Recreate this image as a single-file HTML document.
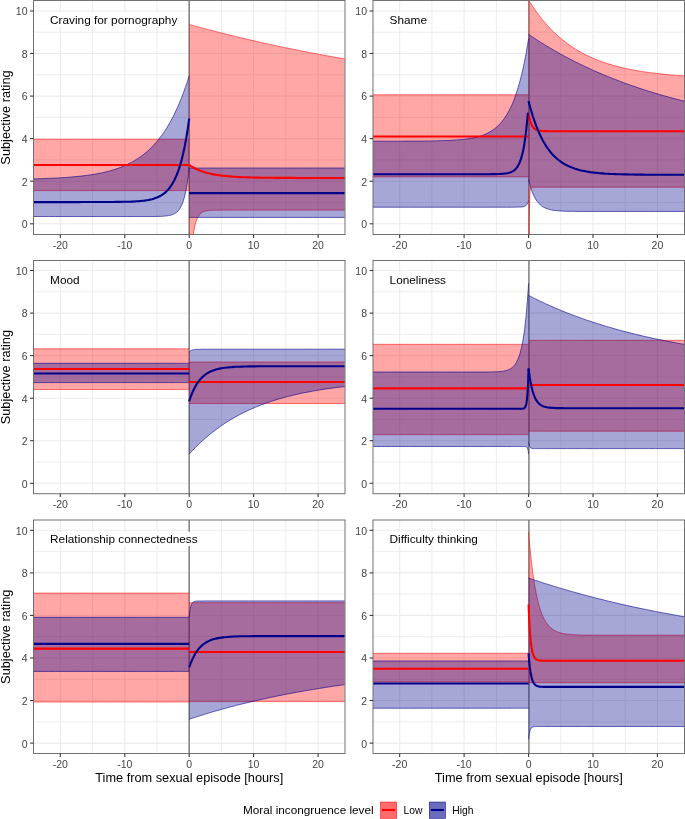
<!DOCTYPE html>
<html><head><meta charset="utf-8"><title>Subjective ratings around sexual episodes</title>
<style>
html,body{margin:0;padding:0;background:#fff;}
body{width:685px;height:819px;position:relative;overflow:hidden;font-family:"Liberation Sans",sans-serif;}
svg text{font-family:"Liberation Sans",sans-serif;}
svg{will-change:transform;}
.gm{stroke:#EBEBEB;stroke-width:0.9;}
.gM{stroke:#EBEBEB;stroke-width:1.07;}
.v0{stroke:#878787;stroke-width:1.6;}
.rb{stroke:none;fill-opacity:0.35;}
.rb.r{fill:#FF0000;}
.rb.b{fill:#00008B;}
.ro{fill:none;stroke-width:0.6;}
.ro.r{stroke:#FF0000;stroke-opacity:0.9;}
.ro.b{stroke:#00008B;stroke-opacity:1;}
.ko{fill:none;stroke-width:0.5;stroke-opacity:0.8;}
.ko.r{stroke:#FF0000;}
.ko.b{stroke:#00008B;}
.ml{fill:none;stroke-width:2.1;stroke-linejoin:round;}
.ml.r{stroke:#FF0000;}
.ml.b{stroke:#00008B;}
.bd{fill:none;stroke:#717171;stroke-width:1.0;}
.tk{stroke:#333333;stroke-width:1.07;}
.tl{font-size:10.5px;fill:#444444;}
.pl{font-size:11.8px;fill:#000;}
.at{font-size:12.75px;fill:#000;}
.lt{font-size:11.75px;fill:#000;}
.ll{font-size:10.3px;fill:#000;}
</style></head>
<body>
<svg width="685" height="819" viewBox="0 0 685 819" style="position:absolute;left:0;top:0">
<defs>
<clipPath id="cp00"><rect x="33.5" y="0.5" width="311.50" height="234.00"/></clipPath>
<clipPath id="cp10"><rect x="373.0" y="0.5" width="311.50" height="234.00"/></clipPath>
<clipPath id="cp01"><rect x="33.5" y="260.5" width="311.50" height="233.20"/></clipPath>
<clipPath id="cp11"><rect x="373.0" y="260.5" width="311.50" height="233.20"/></clipPath>
<clipPath id="cp02"><rect x="33.5" y="520.0" width="311.50" height="233.50"/></clipPath>
<clipPath id="cp12"><rect x="373.0" y="520.0" width="311.50" height="233.50"/></clipPath>
</defs>
<g clip-path="url(#cp00)"><rect x="33.5" y="0.5" width="311.50" height="234.00" fill="#fff"/><line x1="92.6" y1="0.5" x2="92.6" y2="234.5" class="gm"/><line x1="157" y1="0.5" x2="157" y2="234.5" class="gm"/><line x1="221.4" y1="0.5" x2="221.4" y2="234.5" class="gm"/><line x1="285.8" y1="0.5" x2="285.8" y2="234.5" class="gm"/><line x1="33.5" y1="202.5" x2="345.0" y2="202.5" class="gm"/><line x1="33.5" y1="159.9" x2="345.0" y2="159.9" class="gm"/><line x1="33.5" y1="117.4" x2="345.0" y2="117.4" class="gm"/><line x1="33.5" y1="74.8" x2="345.0" y2="74.8" class="gm"/><line x1="33.5" y1="32.2" x2="345.0" y2="32.2" class="gm"/><line x1="60.3" y1="0.5" x2="60.3" y2="234.5" class="gM"/><line x1="124.8" y1="0.5" x2="124.8" y2="234.5" class="gM"/><line x1="189.2" y1="0.5" x2="189.2" y2="234.5" class="gM"/><line x1="253.6" y1="0.5" x2="253.6" y2="234.5" class="gM"/><line x1="318.1" y1="0.5" x2="318.1" y2="234.5" class="gM"/><line x1="33.5" y1="223.8" x2="345.0" y2="223.8" class="gM"/><line x1="33.5" y1="181.2" x2="345.0" y2="181.2" class="gM"/><line x1="33.5" y1="138.6" x2="345.0" y2="138.6" class="gM"/><line x1="33.5" y1="96.1" x2="345.0" y2="96.1" class="gM"/><line x1="33.5" y1="53.5" x2="345.0" y2="53.5" class="gM"/><line x1="33.5" y1="11" x2="345.0" y2="11" class="gM"/><line x1="189.20" y1="0.5" x2="189.20" y2="234.5" class="v0"/><path d="M33.6,139.3 L37.4,139.3 L41.1,139.3 L44.8,139.3 L48.4,139.3 L52,139.3 L55.5,139.3 L59,139.3 L62.4,139.3 L65.8,139.3 L69.1,139.3 L72.4,139.3 L75.6,139.3 L78.8,139.3 L81.9,139.3 L85,139.3 L88,139.3 L91,139.3 L94,139.3 L96.8,139.3 L99.7,139.3 L102.5,139.3 L105.2,139.3 L107.9,139.3 L110.6,139.3 L113.2,139.3 L115.7,139.3 L118.2,139.3 L120.7,139.3 L123.1,139.3 L125.4,139.3 L127.7,139.3 L130,139.3 L132.2,139.3 L134.4,139.3 L136.5,139.3 L138.6,139.3 L140.7,139.3 L142.7,139.3 L144.6,139.3 L146.5,139.3 L148.4,139.3 L150.2,139.3 L151.9,139.3 L153.7,139.3 L155.3,139.3 L157,139.3 L158.6,139.3 L160.1,139.3 L161.6,139.3 L163.1,139.3 L164.5,139.3 L165.9,139.3 L167.2,139.3 L168.5,139.3 L169.7,139.3 L170.9,139.3 L172.1,139.3 L173.2,139.3 L174.3,139.3 L175.3,139.3 L176.3,139.3 L177.3,139.3 L178.2,139.3 L179.1,139.3 L179.9,139.3 L180.7,139.3 L181.5,139.3 L182.2,139.3 L182.9,139.3 L183.5,139.3 L184.1,139.3 L184.7,139.3 L185.2,139.3 L185.7,139.3 L186.2,139.3 L186.6,139.3 L187,139.3 L187.4,139.3 L187.7,139.3 L188,139.3 L188.2,139.3 L188.4,139.3 L188.6,139.3 L188.8,139.3 L188.9,139.3 L189,139.3 L189.1,139.3 L189.2,139.3 L189.2,139.3 L189.2,139.3 L189.2,190.6 L189.2,190.6 L189.2,190.6 L189.1,190.6 L189,190.6 L188.9,190.6 L188.8,190.6 L188.6,190.6 L188.4,190.6 L188.2,190.6 L188,190.6 L187.7,190.6 L187.4,190.6 L187,190.6 L186.6,190.6 L186.2,190.6 L185.7,190.6 L185.2,190.6 L184.7,190.6 L184.1,190.6 L183.5,190.6 L182.9,190.6 L182.2,190.6 L181.5,190.6 L180.7,190.6 L179.9,190.6 L179.1,190.6 L178.2,190.6 L177.3,190.6 L176.3,190.6 L175.3,190.6 L174.3,190.6 L173.2,190.6 L172.1,190.6 L170.9,190.6 L169.7,190.6 L168.5,190.6 L167.2,190.6 L165.9,190.6 L164.5,190.6 L163.1,190.6 L161.6,190.6 L160.1,190.6 L158.6,190.6 L157,190.6 L155.3,190.6 L153.7,190.6 L151.9,190.6 L150.2,190.6 L148.4,190.6 L146.5,190.6 L144.6,190.6 L142.7,190.6 L140.7,190.6 L138.6,190.6 L136.5,190.6 L134.4,190.6 L132.2,190.6 L130,190.6 L127.7,190.6 L125.4,190.6 L123.1,190.6 L120.7,190.6 L118.2,190.6 L115.7,190.6 L113.2,190.6 L110.6,190.6 L107.9,190.6 L105.2,190.6 L102.5,190.6 L99.7,190.6 L96.8,190.6 L94,190.6 L91,190.6 L88,190.6 L85,190.6 L81.9,190.6 L78.8,190.6 L75.6,190.6 L72.4,190.6 L69.1,190.6 L65.8,190.6 L62.4,190.6 L59,190.6 L55.5,190.6 L52,190.6 L48.4,190.6 L44.8,190.6 L41.1,190.6 L37.4,190.6 L33.6,190.6Z" class="rb r"/><path d="M33.6,139.3 L37.4,139.3 L41.1,139.3 L44.8,139.3 L48.4,139.3 L52,139.3 L55.5,139.3 L59,139.3 L62.4,139.3 L65.8,139.3 L69.1,139.3 L72.4,139.3 L75.6,139.3 L78.8,139.3 L81.9,139.3 L85,139.3 L88,139.3 L91,139.3 L94,139.3 L96.8,139.3 L99.7,139.3 L102.5,139.3 L105.2,139.3 L107.9,139.3 L110.6,139.3 L113.2,139.3 L115.7,139.3 L118.2,139.3 L120.7,139.3 L123.1,139.3 L125.4,139.3 L127.7,139.3 L130,139.3 L132.2,139.3 L134.4,139.3 L136.5,139.3 L138.6,139.3 L140.7,139.3 L142.7,139.3 L144.6,139.3 L146.5,139.3 L148.4,139.3 L150.2,139.3 L151.9,139.3 L153.7,139.3 L155.3,139.3 L157,139.3 L158.6,139.3 L160.1,139.3 L161.6,139.3 L163.1,139.3 L164.5,139.3 L165.9,139.3 L167.2,139.3 L168.5,139.3 L169.7,139.3 L170.9,139.3 L172.1,139.3 L173.2,139.3 L174.3,139.3 L175.3,139.3 L176.3,139.3 L177.3,139.3 L178.2,139.3 L179.1,139.3 L179.9,139.3 L180.7,139.3 L181.5,139.3 L182.2,139.3 L182.9,139.3 L183.5,139.3 L184.1,139.3 L184.7,139.3 L185.2,139.3 L185.7,139.3 L186.2,139.3 L186.6,139.3 L187,139.3 L187.4,139.3 L187.7,139.3 L188,139.3 L188.2,139.3 L188.4,139.3 L188.6,139.3 L188.8,139.3 L188.9,139.3 L189,139.3 L189.1,139.3 L189.2,139.3 L189.2,139.3 L189.2,139.3" class="ro r"/><path d="M33.6,190.6 L37.4,190.6 L41.1,190.6 L44.8,190.6 L48.4,190.6 L52,190.6 L55.5,190.6 L59,190.6 L62.4,190.6 L65.8,190.6 L69.1,190.6 L72.4,190.6 L75.6,190.6 L78.8,190.6 L81.9,190.6 L85,190.6 L88,190.6 L91,190.6 L94,190.6 L96.8,190.6 L99.7,190.6 L102.5,190.6 L105.2,190.6 L107.9,190.6 L110.6,190.6 L113.2,190.6 L115.7,190.6 L118.2,190.6 L120.7,190.6 L123.1,190.6 L125.4,190.6 L127.7,190.6 L130,190.6 L132.2,190.6 L134.4,190.6 L136.5,190.6 L138.6,190.6 L140.7,190.6 L142.7,190.6 L144.6,190.6 L146.5,190.6 L148.4,190.6 L150.2,190.6 L151.9,190.6 L153.7,190.6 L155.3,190.6 L157,190.6 L158.6,190.6 L160.1,190.6 L161.6,190.6 L163.1,190.6 L164.5,190.6 L165.9,190.6 L167.2,190.6 L168.5,190.6 L169.7,190.6 L170.9,190.6 L172.1,190.6 L173.2,190.6 L174.3,190.6 L175.3,190.6 L176.3,190.6 L177.3,190.6 L178.2,190.6 L179.1,190.6 L179.9,190.6 L180.7,190.6 L181.5,190.6 L182.2,190.6 L182.9,190.6 L183.5,190.6 L184.1,190.6 L184.7,190.6 L185.2,190.6 L185.7,190.6 L186.2,190.6 L186.6,190.6 L187,190.6 L187.4,190.6 L187.7,190.6 L188,190.6 L188.2,190.6 L188.4,190.6 L188.6,190.6 L188.8,190.6 L188.9,190.6 L189,190.6 L189.1,190.6 L189.2,190.6 L189.2,190.6 L189.2,190.6" class="ro r"/><path d="M189.2,24.4 L189.2,24.4 L189.2,24.4 L189.3,24.4 L189.4,24.4 L189.5,24.4 L189.6,24.5 L189.8,24.5 L190,24.6 L190.2,24.6 L190.4,24.7 L190.7,24.8 L191,24.9 L191.4,25 L191.8,25.1 L192.2,25.2 L192.7,25.3 L193.2,25.5 L193.7,25.6 L194.3,25.8 L194.9,25.9 L195.5,26.1 L196.2,26.3 L196.9,26.5 L197.7,26.7 L198.5,26.9 L199.3,27.2 L200.2,27.4 L201.1,27.7 L202.1,27.9 L203.1,28.2 L204.1,28.5 L205.2,28.7 L206.3,29 L207.5,29.4 L208.7,29.7 L209.9,30 L211.2,30.3 L212.5,30.7 L213.9,31 L215.3,31.4 L216.8,31.8 L218.3,32.2 L219.8,32.6 L221.4,33 L223.1,33.4 L224.7,33.8 L226.5,34.2 L228.2,34.7 L230,35.1 L231.9,35.6 L233.8,36 L235.7,36.5 L237.7,37 L239.8,37.5 L241.9,38 L244,38.5 L246.2,39 L248.4,39.5 L250.7,40.1 L253,40.6 L255.3,41.1 L257.7,41.7 L260.2,42.2 L262.7,42.8 L265.2,43.4 L267.8,43.9 L270.5,44.5 L273.2,45.1 L275.9,45.7 L278.7,46.3 L281.6,46.9 L284.4,47.5 L287.4,48.1 L290.4,48.7 L293.4,49.3 L296.5,49.9 L299.6,50.6 L302.8,51.2 L306,51.8 L309.3,52.5 L312.6,53.1 L316,53.7 L319.4,54.4 L322.9,55 L326.4,55.7 L330,56.3 L333.6,57 L337.3,57.6 L341,58.3 L344.8,59 L344.8,210.1 L341,210.1 L337.3,210.1 L333.6,210.1 L330,210.1 L326.4,210.1 L322.9,210.1 L319.4,210.1 L316,210.1 L312.6,210.1 L309.3,210.1 L306,210.1 L302.8,210.1 L299.6,210.1 L296.5,210.1 L293.4,210.1 L290.4,210.1 L287.4,210.1 L284.4,210.1 L281.6,210.1 L278.7,210.1 L275.9,210.1 L273.2,210.1 L270.5,210.1 L267.8,210.1 L265.2,210.1 L262.7,210.1 L260.2,210.1 L257.7,210.1 L255.3,210.1 L253,210.1 L250.7,210.1 L248.4,210.1 L246.2,210.1 L244,210.1 L241.9,210.1 L239.8,210.1 L237.7,210.1 L235.7,210.1 L233.8,210.1 L231.9,210.1 L230,210.1 L228.2,210.1 L226.5,210.1 L224.7,210.1 L223.1,210.1 L221.4,210.2 L219.8,210.2 L218.3,210.2 L216.8,210.2 L215.3,210.2 L213.9,210.2 L212.5,210.3 L211.2,210.3 L209.9,210.4 L208.7,210.5 L207.5,210.7 L206.3,210.8 L205.2,211.1 L204.1,211.4 L203.1,211.8 L202.1,212.4 L201.1,213 L200.2,213.9 L199.3,214.9 L198.5,216.1 L197.7,217.5 L196.9,219.2 L196.2,221.2 L195.5,223.4 L194.9,226 L194.3,228.8 L193.7,231.9 L193.2,235.4 L192.7,239 L192.2,242.9 L191.8,246.9 L191.4,251 L191,255.2 L190.7,259.3 L190.4,263.3 L190.2,267.1 L190,270.7 L189.8,274 L189.6,276.9 L189.5,279.4 L189.4,281.4 L189.3,282.9 L189.2,283.9 L189.2,284.5 L189.2,284.6Z" class="rb r"/><path d="M189.2,24.4 L189.2,24.4 L189.2,24.4 L189.3,24.4 L189.4,24.4 L189.5,24.4 L189.6,24.5 L189.8,24.5 L190,24.6 L190.2,24.6 L190.4,24.7 L190.7,24.8 L191,24.9 L191.4,25 L191.8,25.1 L192.2,25.2 L192.7,25.3 L193.2,25.5 L193.7,25.6 L194.3,25.8 L194.9,25.9 L195.5,26.1 L196.2,26.3 L196.9,26.5 L197.7,26.7 L198.5,26.9 L199.3,27.2 L200.2,27.4 L201.1,27.7 L202.1,27.9 L203.1,28.2 L204.1,28.5 L205.2,28.7 L206.3,29 L207.5,29.4 L208.7,29.7 L209.9,30 L211.2,30.3 L212.5,30.7 L213.9,31 L215.3,31.4 L216.8,31.8 L218.3,32.2 L219.8,32.6 L221.4,33 L223.1,33.4 L224.7,33.8 L226.5,34.2 L228.2,34.7 L230,35.1 L231.9,35.6 L233.8,36 L235.7,36.5 L237.7,37 L239.8,37.5 L241.9,38 L244,38.5 L246.2,39 L248.4,39.5 L250.7,40.1 L253,40.6 L255.3,41.1 L257.7,41.7 L260.2,42.2 L262.7,42.8 L265.2,43.4 L267.8,43.9 L270.5,44.5 L273.2,45.1 L275.9,45.7 L278.7,46.3 L281.6,46.9 L284.4,47.5 L287.4,48.1 L290.4,48.7 L293.4,49.3 L296.5,49.9 L299.6,50.6 L302.8,51.2 L306,51.8 L309.3,52.5 L312.6,53.1 L316,53.7 L319.4,54.4 L322.9,55 L326.4,55.7 L330,56.3 L333.6,57 L337.3,57.6 L341,58.3 L344.8,59" class="ro r"/><path d="M189.2,284.6 L189.2,284.5 L189.2,283.9 L189.3,282.9 L189.4,281.4 L189.5,279.4 L189.6,276.9 L189.8,274 L190,270.7 L190.2,267.1 L190.4,263.3 L190.7,259.3 L191,255.2 L191.4,251 L191.8,246.9 L192.2,242.9 L192.7,239 L193.2,235.4 L193.7,231.9 L194.3,228.8 L194.9,226 L195.5,223.4 L196.2,221.2 L196.9,219.2 L197.7,217.5 L198.5,216.1 L199.3,214.9 L200.2,213.9 L201.1,213 L202.1,212.4 L203.1,211.8 L204.1,211.4 L205.2,211.1 L206.3,210.8 L207.5,210.7 L208.7,210.5 L209.9,210.4 L211.2,210.3 L212.5,210.3 L213.9,210.2 L215.3,210.2 L216.8,210.2 L218.3,210.2 L219.8,210.2 L221.4,210.2 L223.1,210.1 L224.7,210.1 L226.5,210.1 L228.2,210.1 L230,210.1 L231.9,210.1 L233.8,210.1 L235.7,210.1 L237.7,210.1 L239.8,210.1 L241.9,210.1 L244,210.1 L246.2,210.1 L248.4,210.1 L250.7,210.1 L253,210.1 L255.3,210.1 L257.7,210.1 L260.2,210.1 L262.7,210.1 L265.2,210.1 L267.8,210.1 L270.5,210.1 L273.2,210.1 L275.9,210.1 L278.7,210.1 L281.6,210.1 L284.4,210.1 L287.4,210.1 L290.4,210.1 L293.4,210.1 L296.5,210.1 L299.6,210.1 L302.8,210.1 L306,210.1 L309.3,210.1 L312.6,210.1 L316,210.1 L319.4,210.1 L322.9,210.1 L326.4,210.1 L330,210.1 L333.6,210.1 L337.3,210.1 L341,210.1 L344.8,210.1" class="ro r"/><path d="M33.6,178.9 L37.4,178.8 L41.1,178.7 L44.8,178.5 L48.4,178.4 L52,178.2 L55.5,178.1 L59,177.9 L62.4,177.7 L65.8,177.5 L69.1,177.2 L72.4,176.9 L75.6,176.6 L78.8,176.3 L81.9,176 L85,175.6 L88,175.2 L91,174.8 L94,174.3 L96.8,173.8 L99.7,173.2 L102.5,172.7 L105.2,172 L107.9,171.4 L110.6,170.7 L113.2,169.9 L115.7,169.1 L118.2,168.2 L120.7,167.3 L123.1,166.4 L125.4,165.3 L127.7,164.3 L130,163.1 L132.2,162 L134.4,160.7 L136.5,159.4 L138.6,158.1 L140.7,156.6 L142.7,155.2 L144.6,153.6 L146.5,152.1 L148.4,150.4 L150.2,148.7 L151.9,147 L153.7,145.2 L155.3,143.3 L157,141.4 L158.6,139.5 L160.1,137.5 L161.6,135.5 L163.1,133.5 L164.5,131.4 L165.9,129.3 L167.2,127.2 L168.5,125 L169.7,122.9 L170.9,120.7 L172.1,118.5 L173.2,116.4 L174.3,114.2 L175.3,112.1 L176.3,109.9 L177.3,107.8 L178.2,105.8 L179.1,103.7 L179.9,101.7 L180.7,99.8 L181.5,97.9 L182.2,96 L182.9,94.2 L183.5,92.5 L184.1,90.8 L184.7,89.2 L185.2,87.7 L185.7,86.3 L186.2,85 L186.6,83.7 L187,82.5 L187.4,81.5 L187.7,80.5 L188,79.6 L188.2,78.8 L188.4,78.1 L188.6,77.5 L188.8,76.9 L188.9,76.5 L189,76.2 L189.1,75.9 L189.2,75.8 L189.2,75.7 L189.2,75.7 L189.2,167.6 L189.2,167.7 L189.2,167.9 L189.1,168.4 L189,169.1 L188.9,170.1 L188.8,171.3 L188.6,172.7 L188.4,174.3 L188.2,176.1 L188,178 L187.7,180.1 L187.4,182.3 L187,184.6 L186.6,186.9 L186.2,189.3 L185.7,191.6 L185.2,193.9 L184.7,196.1 L184.1,198.3 L183.5,200.3 L182.9,202.2 L182.2,204 L181.5,205.6 L180.7,207.1 L179.9,208.5 L179.1,209.7 L178.2,210.7 L177.3,211.7 L176.3,212.5 L175.3,213.2 L174.3,213.8 L173.2,214.3 L172.1,214.8 L170.9,215.1 L169.7,215.4 L168.5,215.6 L167.2,215.8 L165.9,216 L164.5,216.1 L163.1,216.2 L161.6,216.3 L160.1,216.4 L158.6,216.4 L157,216.4 L155.3,216.5 L153.7,216.5 L151.9,216.5 L150.2,216.5 L148.4,216.5 L146.5,216.5 L144.6,216.5 L142.7,216.5 L140.7,216.5 L138.6,216.5 L136.5,216.5 L134.4,216.5 L132.2,216.5 L130,216.5 L127.7,216.5 L125.4,216.5 L123.1,216.5 L120.7,216.5 L118.2,216.5 L115.7,216.5 L113.2,216.5 L110.6,216.5 L107.9,216.5 L105.2,216.5 L102.5,216.5 L99.7,216.5 L96.8,216.5 L94,216.5 L91,216.5 L88,216.5 L85,216.5 L81.9,216.5 L78.8,216.5 L75.6,216.5 L72.4,216.5 L69.1,216.5 L65.8,216.5 L62.4,216.5 L59,216.5 L55.5,216.5 L52,216.5 L48.4,216.5 L44.8,216.5 L41.1,216.5 L37.4,216.5 L33.6,216.5Z" class="rb b"/><path d="M33.6,178.9 L37.4,178.8 L41.1,178.7 L44.8,178.5 L48.4,178.4 L52,178.2 L55.5,178.1 L59,177.9 L62.4,177.7 L65.8,177.5 L69.1,177.2 L72.4,176.9 L75.6,176.6 L78.8,176.3 L81.9,176 L85,175.6 L88,175.2 L91,174.8 L94,174.3 L96.8,173.8 L99.7,173.2 L102.5,172.7 L105.2,172 L107.9,171.4 L110.6,170.7 L113.2,169.9 L115.7,169.1 L118.2,168.2 L120.7,167.3 L123.1,166.4 L125.4,165.3 L127.7,164.3 L130,163.1 L132.2,162 L134.4,160.7 L136.5,159.4 L138.6,158.1 L140.7,156.6 L142.7,155.2 L144.6,153.6 L146.5,152.1 L148.4,150.4 L150.2,148.7 L151.9,147 L153.7,145.2 L155.3,143.3 L157,141.4 L158.6,139.5 L160.1,137.5 L161.6,135.5 L163.1,133.5 L164.5,131.4 L165.9,129.3 L167.2,127.2 L168.5,125 L169.7,122.9 L170.9,120.7 L172.1,118.5 L173.2,116.4 L174.3,114.2 L175.3,112.1 L176.3,109.9 L177.3,107.8 L178.2,105.8 L179.1,103.7 L179.9,101.7 L180.7,99.8 L181.5,97.9 L182.2,96 L182.9,94.2 L183.5,92.5 L184.1,90.8 L184.7,89.2 L185.2,87.7 L185.7,86.3 L186.2,85 L186.6,83.7 L187,82.5 L187.4,81.5 L187.7,80.5 L188,79.6 L188.2,78.8 L188.4,78.1 L188.6,77.5 L188.8,76.9 L188.9,76.5 L189,76.2 L189.1,75.9 L189.2,75.8 L189.2,75.7 L189.2,75.7" class="ro b"/><path d="M33.6,216.5 L37.4,216.5 L41.1,216.5 L44.8,216.5 L48.4,216.5 L52,216.5 L55.5,216.5 L59,216.5 L62.4,216.5 L65.8,216.5 L69.1,216.5 L72.4,216.5 L75.6,216.5 L78.8,216.5 L81.9,216.5 L85,216.5 L88,216.5 L91,216.5 L94,216.5 L96.8,216.5 L99.7,216.5 L102.5,216.5 L105.2,216.5 L107.9,216.5 L110.6,216.5 L113.2,216.5 L115.7,216.5 L118.2,216.5 L120.7,216.5 L123.1,216.5 L125.4,216.5 L127.7,216.5 L130,216.5 L132.2,216.5 L134.4,216.5 L136.5,216.5 L138.6,216.5 L140.7,216.5 L142.7,216.5 L144.6,216.5 L146.5,216.5 L148.4,216.5 L150.2,216.5 L151.9,216.5 L153.7,216.5 L155.3,216.5 L157,216.4 L158.6,216.4 L160.1,216.4 L161.6,216.3 L163.1,216.2 L164.5,216.1 L165.9,216 L167.2,215.8 L168.5,215.6 L169.7,215.4 L170.9,215.1 L172.1,214.8 L173.2,214.3 L174.3,213.8 L175.3,213.2 L176.3,212.5 L177.3,211.7 L178.2,210.7 L179.1,209.7 L179.9,208.5 L180.7,207.1 L181.5,205.6 L182.2,204 L182.9,202.2 L183.5,200.3 L184.1,198.3 L184.7,196.1 L185.2,193.9 L185.7,191.6 L186.2,189.3 L186.6,186.9 L187,184.6 L187.4,182.3 L187.7,180.1 L188,178 L188.2,176.1 L188.4,174.3 L188.6,172.7 L188.8,171.3 L188.9,170.1 L189,169.1 L189.1,168.4 L189.2,167.9 L189.2,167.7 L189.2,167.6" class="ro b"/><path d="M189.2,168 L189.2,168 L189.2,168 L189.3,168 L189.4,168 L189.5,168 L189.6,168 L189.8,168 L190,168 L190.2,168 L190.4,168 L190.7,168 L191,168 L191.4,168 L191.8,168 L192.2,168 L192.7,168 L193.2,168 L193.7,168 L194.3,168 L194.9,168 L195.5,168 L196.2,168 L196.9,168 L197.7,168 L198.5,168 L199.3,168 L200.2,168 L201.1,168 L202.1,168 L203.1,168 L204.1,168 L205.2,168 L206.3,168 L207.5,168 L208.7,168 L209.9,168 L211.2,168 L212.5,168 L213.9,168 L215.3,168 L216.8,168 L218.3,168 L219.8,168 L221.4,168 L223.1,168 L224.7,168 L226.5,168 L228.2,168 L230,168 L231.9,168 L233.8,168 L235.7,168 L237.7,168 L239.8,168 L241.9,168 L244,168 L246.2,168 L248.4,168 L250.7,168 L253,168 L255.3,168 L257.7,168 L260.2,168 L262.7,168 L265.2,168 L267.8,168 L270.5,168 L273.2,168 L275.9,168 L278.7,168 L281.6,168 L284.4,168 L287.4,168 L290.4,168 L293.4,168 L296.5,168 L299.6,168 L302.8,168 L306,168 L309.3,168 L312.6,168 L316,168 L319.4,168 L322.9,168 L326.4,168 L330,168 L333.6,168 L337.3,168 L341,168 L344.8,168 L344.8,217.4 L341,217.4 L337.3,217.4 L333.6,217.4 L330,217.4 L326.4,217.4 L322.9,217.4 L319.4,217.4 L316,217.4 L312.6,217.4 L309.3,217.4 L306,217.4 L302.8,217.4 L299.6,217.4 L296.5,217.4 L293.4,217.4 L290.4,217.4 L287.4,217.4 L284.4,217.4 L281.6,217.4 L278.7,217.4 L275.9,217.4 L273.2,217.4 L270.5,217.4 L267.8,217.4 L265.2,217.4 L262.7,217.4 L260.2,217.4 L257.7,217.4 L255.3,217.4 L253,217.4 L250.7,217.4 L248.4,217.4 L246.2,217.4 L244,217.4 L241.9,217.4 L239.8,217.4 L237.7,217.4 L235.7,217.4 L233.8,217.4 L231.9,217.4 L230,217.4 L228.2,217.4 L226.5,217.4 L224.7,217.4 L223.1,217.4 L221.4,217.4 L219.8,217.4 L218.3,217.4 L216.8,217.4 L215.3,217.4 L213.9,217.4 L212.5,217.4 L211.2,217.4 L209.9,217.4 L208.7,217.4 L207.5,217.4 L206.3,217.4 L205.2,217.4 L204.1,217.4 L203.1,217.4 L202.1,217.4 L201.1,217.4 L200.2,217.4 L199.3,217.4 L198.5,217.4 L197.7,217.4 L196.9,217.4 L196.2,217.4 L195.5,217.4 L194.9,217.4 L194.3,217.4 L193.7,217.4 L193.2,217.4 L192.7,217.4 L192.2,217.4 L191.8,217.4 L191.4,217.4 L191,217.4 L190.7,217.4 L190.4,217.4 L190.2,217.4 L190,217.4 L189.8,217.4 L189.6,217.4 L189.5,217.4 L189.4,217.4 L189.3,217.4 L189.2,217.4 L189.2,217.4 L189.2,217.4Z" class="rb b"/><path d="M189.2,168 L189.2,168 L189.2,168 L189.3,168 L189.4,168 L189.5,168 L189.6,168 L189.8,168 L190,168 L190.2,168 L190.4,168 L190.7,168 L191,168 L191.4,168 L191.8,168 L192.2,168 L192.7,168 L193.2,168 L193.7,168 L194.3,168 L194.9,168 L195.5,168 L196.2,168 L196.9,168 L197.7,168 L198.5,168 L199.3,168 L200.2,168 L201.1,168 L202.1,168 L203.1,168 L204.1,168 L205.2,168 L206.3,168 L207.5,168 L208.7,168 L209.9,168 L211.2,168 L212.5,168 L213.9,168 L215.3,168 L216.8,168 L218.3,168 L219.8,168 L221.4,168 L223.1,168 L224.7,168 L226.5,168 L228.2,168 L230,168 L231.9,168 L233.8,168 L235.7,168 L237.7,168 L239.8,168 L241.9,168 L244,168 L246.2,168 L248.4,168 L250.7,168 L253,168 L255.3,168 L257.7,168 L260.2,168 L262.7,168 L265.2,168 L267.8,168 L270.5,168 L273.2,168 L275.9,168 L278.7,168 L281.6,168 L284.4,168 L287.4,168 L290.4,168 L293.4,168 L296.5,168 L299.6,168 L302.8,168 L306,168 L309.3,168 L312.6,168 L316,168 L319.4,168 L322.9,168 L326.4,168 L330,168 L333.6,168 L337.3,168 L341,168 L344.8,168" class="ro b"/><path d="M189.2,217.4 L189.2,217.4 L189.2,217.4 L189.3,217.4 L189.4,217.4 L189.5,217.4 L189.6,217.4 L189.8,217.4 L190,217.4 L190.2,217.4 L190.4,217.4 L190.7,217.4 L191,217.4 L191.4,217.4 L191.8,217.4 L192.2,217.4 L192.7,217.4 L193.2,217.4 L193.7,217.4 L194.3,217.4 L194.9,217.4 L195.5,217.4 L196.2,217.4 L196.9,217.4 L197.7,217.4 L198.5,217.4 L199.3,217.4 L200.2,217.4 L201.1,217.4 L202.1,217.4 L203.1,217.4 L204.1,217.4 L205.2,217.4 L206.3,217.4 L207.5,217.4 L208.7,217.4 L209.9,217.4 L211.2,217.4 L212.5,217.4 L213.9,217.4 L215.3,217.4 L216.8,217.4 L218.3,217.4 L219.8,217.4 L221.4,217.4 L223.1,217.4 L224.7,217.4 L226.5,217.4 L228.2,217.4 L230,217.4 L231.9,217.4 L233.8,217.4 L235.7,217.4 L237.7,217.4 L239.8,217.4 L241.9,217.4 L244,217.4 L246.2,217.4 L248.4,217.4 L250.7,217.4 L253,217.4 L255.3,217.4 L257.7,217.4 L260.2,217.4 L262.7,217.4 L265.2,217.4 L267.8,217.4 L270.5,217.4 L273.2,217.4 L275.9,217.4 L278.7,217.4 L281.6,217.4 L284.4,217.4 L287.4,217.4 L290.4,217.4 L293.4,217.4 L296.5,217.4 L299.6,217.4 L302.8,217.4 L306,217.4 L309.3,217.4 L312.6,217.4 L316,217.4 L319.4,217.4 L322.9,217.4 L326.4,217.4 L330,217.4 L333.6,217.4 L337.3,217.4 L341,217.4 L344.8,217.4" class="ro b"/><path d="M33.6,165 L37.4,165 L41.1,165 L44.8,165 L48.4,165 L52,165 L55.5,165 L59,165 L62.4,165 L65.8,165 L69.1,165 L72.4,165 L75.6,165 L78.8,165 L81.9,165 L85,165 L88,165 L91,165 L94,165 L96.8,165 L99.7,165 L102.5,165 L105.2,165 L107.9,165 L110.6,165 L113.2,165 L115.7,165 L118.2,165 L120.7,165 L123.1,165 L125.4,165 L127.7,165 L130,165 L132.2,165 L134.4,165 L136.5,165 L138.6,165 L140.7,165 L142.7,165 L144.6,165 L146.5,165 L148.4,165 L150.2,165 L151.9,165 L153.7,165 L155.3,165 L157,165 L158.6,165 L160.1,165 L161.6,165 L163.1,165 L164.5,165 L165.9,165 L167.2,165 L168.5,165 L169.7,165 L170.9,165 L172.1,165 L173.2,165 L174.3,165 L175.3,165 L176.3,165 L177.3,165 L178.2,165 L179.1,165 L179.9,165 L180.7,165 L181.5,165 L182.2,165 L182.9,165 L183.5,165 L184.1,165 L184.7,165 L185.2,165 L185.7,165 L186.2,165 L186.6,165 L187,165 L187.4,165 L187.7,165 L188,165 L188.2,165 L188.4,165 L188.6,165 L188.8,165 L188.9,165 L189,165 L189.1,165 L189.2,165 L189.2,165 L189.2,165" class="ml r"/><path d="M189.2,165 L189.2,165 L189.2,165.1 L189.3,165.1 L189.4,165.1 L189.5,165.2 L189.6,165.3 L189.8,165.4 L190,165.5 L190.2,165.7 L190.4,165.8 L190.7,166 L191,166.2 L191.4,166.4 L191.8,166.7 L192.2,166.9 L192.7,167.2 L193.2,167.4 L193.7,167.7 L194.3,168 L194.9,168.3 L195.5,168.7 L196.2,169 L196.9,169.3 L197.7,169.6 L198.5,170 L199.3,170.3 L200.2,170.7 L201.1,171 L202.1,171.3 L203.1,171.7 L204.1,172 L205.2,172.3 L206.3,172.7 L207.5,173 L208.7,173.3 L209.9,173.6 L211.2,173.9 L212.5,174.1 L213.9,174.4 L215.3,174.6 L216.8,174.9 L218.3,175.1 L219.8,175.3 L221.4,175.6 L223.1,175.8 L224.7,175.9 L226.5,176.1 L228.2,176.3 L230,176.4 L231.9,176.6 L233.8,176.7 L235.7,176.8 L237.7,177 L239.8,177.1 L241.9,177.2 L244,177.2 L246.2,177.3 L248.4,177.4 L250.7,177.5 L253,177.5 L255.3,177.6 L257.7,177.6 L260.2,177.7 L262.7,177.7 L265.2,177.8 L267.8,177.8 L270.5,177.8 L273.2,177.8 L275.9,177.9 L278.7,177.9 L281.6,177.9 L284.4,177.9 L287.4,177.9 L290.4,177.9 L293.4,177.9 L296.5,178 L299.6,178 L302.8,178 L306,178 L309.3,178 L312.6,178 L316,178 L319.4,178 L322.9,178 L326.4,178 L330,178 L333.6,178 L337.3,178 L341,178 L344.8,178" class="ml r"/><path d="M33.6,202.1 L37.4,202.1 L41.1,202.1 L44.8,202.1 L48.4,202.1 L52,202.1 L55.5,202.1 L59,202.1 L62.4,202.1 L65.8,202.1 L69.1,202.1 L72.4,202.1 L75.6,202.1 L78.8,202.1 L81.9,202 L85,202 L88,202 L91,202 L94,202 L96.8,202 L99.7,202 L102.5,202 L105.2,202 L107.9,202 L110.6,202 L113.2,202 L115.7,201.9 L118.2,201.9 L120.7,201.9 L123.1,201.8 L125.4,201.8 L127.7,201.7 L130,201.7 L132.2,201.6 L134.4,201.5 L136.5,201.3 L138.6,201.2 L140.7,201 L142.7,200.8 L144.6,200.6 L146.5,200.3 L148.4,200 L150.2,199.6 L151.9,199.2 L153.7,198.7 L155.3,198.1 L157,197.5 L158.6,196.8 L160.1,196 L161.6,195.1 L163.1,194.1 L164.5,193.1 L165.9,191.9 L167.2,190.6 L168.5,189.2 L169.7,187.6 L170.9,186 L172.1,184.2 L173.2,182.3 L174.3,180.3 L175.3,178.1 L176.3,175.9 L177.3,173.5 L178.2,171.1 L179.1,168.5 L179.9,165.9 L180.7,163.2 L181.5,160.4 L182.2,157.6 L182.9,154.8 L183.5,152 L184.1,149.2 L184.7,146.4 L185.2,143.6 L185.7,141 L186.2,138.4 L186.6,135.9 L187,133.5 L187.4,131.3 L187.7,129.2 L188,127.3 L188.2,125.5 L188.4,124 L188.6,122.6 L188.8,121.4 L188.9,120.4 L189,119.7 L189.1,119.1 L189.2,118.7 L189.2,118.5 L189.2,118.4" class="ml b"/><path d="M189.2,193.1 L189.2,193.1 L189.2,193.1 L189.3,193.1 L189.4,193.1 L189.5,193.1 L189.6,193.1 L189.8,193.1 L190,193.1 L190.2,193.1 L190.4,193.1 L190.7,193.1 L191,193.1 L191.4,193.1 L191.8,193.1 L192.2,193.1 L192.7,193.1 L193.2,193.1 L193.7,193.1 L194.3,193.1 L194.9,193.1 L195.5,193.1 L196.2,193.1 L196.9,193.1 L197.7,193.1 L198.5,193.1 L199.3,193.1 L200.2,193.1 L201.1,193.1 L202.1,193.1 L203.1,193.1 L204.1,193.1 L205.2,193.1 L206.3,193.1 L207.5,193.1 L208.7,193.1 L209.9,193.1 L211.2,193.1 L212.5,193.1 L213.9,193.1 L215.3,193.1 L216.8,193.1 L218.3,193.1 L219.8,193.1 L221.4,193.1 L223.1,193.1 L224.7,193.1 L226.5,193.1 L228.2,193.1 L230,193.1 L231.9,193.1 L233.8,193.1 L235.7,193.1 L237.7,193.1 L239.8,193.1 L241.9,193.1 L244,193.1 L246.2,193.1 L248.4,193.1 L250.7,193.1 L253,193.1 L255.3,193.1 L257.7,193.1 L260.2,193.1 L262.7,193.1 L265.2,193.1 L267.8,193.1 L270.5,193.1 L273.2,193.1 L275.9,193.1 L278.7,193.1 L281.6,193.1 L284.4,193.1 L287.4,193.1 L290.4,193.1 L293.4,193.1 L296.5,193.1 L299.6,193.1 L302.8,193.1 L306,193.1 L309.3,193.1 L312.6,193.1 L316,193.1 L319.4,193.1 L322.9,193.1 L326.4,193.1 L330,193.1 L333.6,193.1 L337.3,193.1 L341,193.1 L344.8,193.1" class="ml b"/></g>
<rect x="33.5" y="0.5" width="311.50" height="234.00" class="bd"/>
<line x1="30.10" y1="223.8" x2="33.5" y2="223.8" class="tk"/>
<text x="27.50" y="228.16" class="tl" text-anchor="end">0</text>
<line x1="30.10" y1="181.2" x2="33.5" y2="181.2" class="tk"/>
<text x="27.50" y="185.60" class="tl" text-anchor="end">2</text>
<line x1="30.10" y1="138.6" x2="33.5" y2="138.6" class="tk"/>
<text x="27.50" y="143.04" class="tl" text-anchor="end">4</text>
<line x1="30.10" y1="96.1" x2="33.5" y2="96.1" class="tk"/>
<text x="27.50" y="100.48" class="tl" text-anchor="end">6</text>
<line x1="30.10" y1="53.5" x2="33.5" y2="53.5" class="tk"/>
<text x="27.50" y="57.92" class="tl" text-anchor="end">8</text>
<line x1="30.10" y1="11" x2="33.5" y2="11" class="tk"/>
<text x="27.50" y="15.36" class="tl" text-anchor="end">10</text>
<line x1="60.3" y1="234.5" x2="60.3" y2="237.90" class="tk"/>
<text x="60.34" y="249.00" class="tl" text-anchor="middle">-20</text>
<line x1="124.8" y1="234.5" x2="124.8" y2="237.90" class="tk"/>
<text x="124.77" y="249.00" class="tl" text-anchor="middle">-10</text>
<line x1="189.2" y1="234.5" x2="189.2" y2="237.90" class="tk"/>
<text x="189.20" y="249.00" class="tl" text-anchor="middle">0</text>
<line x1="253.6" y1="234.5" x2="253.6" y2="237.90" class="tk"/>
<text x="253.63" y="249.00" class="tl" text-anchor="middle">10</text>
<line x1="318.1" y1="234.5" x2="318.1" y2="237.90" class="tk"/>
<text x="318.06" y="249.00" class="tl" text-anchor="middle">20</text>
<rect x="46.90" y="12.30" width="133.65" height="14.3" rx="1.5" fill="#fff"/>
<text x="50.10" y="23.90" class="pl">Craving for pornography</text>
<g clip-path="url(#cp10)"><rect x="373.0" y="0.5" width="311.50" height="234.00" fill="#fff"/><line x1="431.9" y1="0.5" x2="431.9" y2="234.5" class="gm"/><line x1="496.4" y1="0.5" x2="496.4" y2="234.5" class="gm"/><line x1="560.8" y1="0.5" x2="560.8" y2="234.5" class="gm"/><line x1="625.2" y1="0.5" x2="625.2" y2="234.5" class="gm"/><line x1="373.0" y1="202.5" x2="684.5" y2="202.5" class="gm"/><line x1="373.0" y1="159.9" x2="684.5" y2="159.9" class="gm"/><line x1="373.0" y1="117.4" x2="684.5" y2="117.4" class="gm"/><line x1="373.0" y1="74.8" x2="684.5" y2="74.8" class="gm"/><line x1="373.0" y1="32.2" x2="684.5" y2="32.2" class="gm"/><line x1="399.7" y1="0.5" x2="399.7" y2="234.5" class="gM"/><line x1="464.1" y1="0.5" x2="464.1" y2="234.5" class="gM"/><line x1="528.6" y1="0.5" x2="528.6" y2="234.5" class="gM"/><line x1="593" y1="0.5" x2="593" y2="234.5" class="gM"/><line x1="657.4" y1="0.5" x2="657.4" y2="234.5" class="gM"/><line x1="373.0" y1="223.8" x2="684.5" y2="223.8" class="gM"/><line x1="373.0" y1="181.2" x2="684.5" y2="181.2" class="gM"/><line x1="373.0" y1="138.6" x2="684.5" y2="138.6" class="gM"/><line x1="373.0" y1="96.1" x2="684.5" y2="96.1" class="gM"/><line x1="373.0" y1="53.5" x2="684.5" y2="53.5" class="gM"/><line x1="373.0" y1="11" x2="684.5" y2="11" class="gM"/><line x1="528.92" y1="0.5" x2="528.92" y2="234.5" class="v0"/><path d="M373,94.8 L376.7,94.8 L380.5,94.8 L384.2,94.8 L387.8,94.8 L391.4,94.8 L394.9,94.8 L398.4,94.8 L401.8,94.8 L405.2,94.8 L408.5,94.8 L411.8,94.8 L415,94.8 L418.2,94.8 L421.3,94.8 L424.4,94.8 L427.4,94.8 L430.4,94.8 L433.3,94.8 L436.2,94.8 L439.1,94.8 L441.8,94.8 L444.6,94.8 L447.3,94.8 L449.9,94.8 L452.5,94.8 L455.1,94.8 L457.6,94.8 L460,94.8 L462.4,94.8 L464.8,94.8 L467.1,94.8 L469.4,94.8 L471.6,94.8 L473.8,94.8 L475.9,94.8 L478,94.8 L480,94.8 L482,94.8 L484,94.8 L485.9,94.8 L487.7,94.8 L489.5,94.8 L491.3,94.8 L493,94.8 L494.7,94.8 L496.3,94.8 L497.9,94.8 L499.5,94.8 L501,94.8 L502.4,94.8 L503.9,94.8 L505.2,94.8 L506.6,94.8 L507.8,94.8 L509.1,94.8 L510.3,94.8 L511.5,94.8 L512.6,94.8 L513.7,94.8 L514.7,94.8 L515.7,94.8 L516.6,94.8 L517.6,94.8 L518.4,94.8 L519.3,94.8 L520.1,94.8 L520.8,94.8 L521.6,94.8 L522.2,94.8 L522.9,94.8 L523.5,94.8 L524.1,94.8 L524.6,94.8 L525.1,94.8 L525.5,94.8 L526,94.8 L526.4,94.8 L526.7,94.8 L527,94.8 L527.3,94.8 L527.6,94.8 L527.8,94.8 L528,94.8 L528.2,94.8 L528.3,94.8 L528.4,94.8 L528.5,94.8 L528.5,94.8 L528.6,94.8 L528.6,94.8 L528.6,176.9 L528.6,176.9 L528.5,176.9 L528.5,176.9 L528.4,176.9 L528.3,176.9 L528.2,176.9 L528,176.9 L527.8,176.9 L527.6,176.9 L527.3,176.9 L527,176.9 L526.7,176.9 L526.4,176.9 L526,176.9 L525.5,176.9 L525.1,176.9 L524.6,176.9 L524.1,176.9 L523.5,176.9 L522.9,176.9 L522.2,176.9 L521.6,176.9 L520.8,176.9 L520.1,176.9 L519.3,176.9 L518.4,176.9 L517.6,176.9 L516.6,176.9 L515.7,176.9 L514.7,176.9 L513.7,176.9 L512.6,176.9 L511.5,176.9 L510.3,176.9 L509.1,176.9 L507.8,176.9 L506.6,176.9 L505.2,176.9 L503.9,176.9 L502.4,176.9 L501,176.9 L499.5,176.9 L497.9,176.9 L496.3,176.9 L494.7,176.9 L493,176.9 L491.3,176.9 L489.5,176.9 L487.7,176.9 L485.9,176.9 L484,176.9 L482,176.9 L480,176.9 L478,176.9 L475.9,176.9 L473.8,176.9 L471.6,176.9 L469.4,176.9 L467.1,176.9 L464.8,176.9 L462.4,176.9 L460,176.9 L457.6,176.9 L455.1,176.9 L452.5,176.9 L449.9,176.9 L447.3,176.9 L444.6,176.9 L441.8,176.9 L439.1,176.9 L436.2,176.9 L433.3,176.9 L430.4,176.9 L427.4,176.9 L424.4,176.9 L421.3,176.9 L418.2,176.9 L415,176.9 L411.8,176.9 L408.5,176.9 L405.2,176.9 L401.8,176.9 L398.4,176.9 L394.9,176.9 L391.4,176.9 L387.8,176.9 L384.2,176.9 L380.5,176.9 L376.7,176.9 L373,176.9Z" class="rb r"/><path d="M373,94.8 L376.7,94.8 L380.5,94.8 L384.2,94.8 L387.8,94.8 L391.4,94.8 L394.9,94.8 L398.4,94.8 L401.8,94.8 L405.2,94.8 L408.5,94.8 L411.8,94.8 L415,94.8 L418.2,94.8 L421.3,94.8 L424.4,94.8 L427.4,94.8 L430.4,94.8 L433.3,94.8 L436.2,94.8 L439.1,94.8 L441.8,94.8 L444.6,94.8 L447.3,94.8 L449.9,94.8 L452.5,94.8 L455.1,94.8 L457.6,94.8 L460,94.8 L462.4,94.8 L464.8,94.8 L467.1,94.8 L469.4,94.8 L471.6,94.8 L473.8,94.8 L475.9,94.8 L478,94.8 L480,94.8 L482,94.8 L484,94.8 L485.9,94.8 L487.7,94.8 L489.5,94.8 L491.3,94.8 L493,94.8 L494.7,94.8 L496.3,94.8 L497.9,94.8 L499.5,94.8 L501,94.8 L502.4,94.8 L503.9,94.8 L505.2,94.8 L506.6,94.8 L507.8,94.8 L509.1,94.8 L510.3,94.8 L511.5,94.8 L512.6,94.8 L513.7,94.8 L514.7,94.8 L515.7,94.8 L516.6,94.8 L517.6,94.8 L518.4,94.8 L519.3,94.8 L520.1,94.8 L520.8,94.8 L521.6,94.8 L522.2,94.8 L522.9,94.8 L523.5,94.8 L524.1,94.8 L524.6,94.8 L525.1,94.8 L525.5,94.8 L526,94.8 L526.4,94.8 L526.7,94.8 L527,94.8 L527.3,94.8 L527.6,94.8 L527.8,94.8 L528,94.8 L528.2,94.8 L528.3,94.8 L528.4,94.8 L528.5,94.8 L528.5,94.8 L528.6,94.8 L528.6,94.8" class="ro r"/><path d="M373,176.9 L376.7,176.9 L380.5,176.9 L384.2,176.9 L387.8,176.9 L391.4,176.9 L394.9,176.9 L398.4,176.9 L401.8,176.9 L405.2,176.9 L408.5,176.9 L411.8,176.9 L415,176.9 L418.2,176.9 L421.3,176.9 L424.4,176.9 L427.4,176.9 L430.4,176.9 L433.3,176.9 L436.2,176.9 L439.1,176.9 L441.8,176.9 L444.6,176.9 L447.3,176.9 L449.9,176.9 L452.5,176.9 L455.1,176.9 L457.6,176.9 L460,176.9 L462.4,176.9 L464.8,176.9 L467.1,176.9 L469.4,176.9 L471.6,176.9 L473.8,176.9 L475.9,176.9 L478,176.9 L480,176.9 L482,176.9 L484,176.9 L485.9,176.9 L487.7,176.9 L489.5,176.9 L491.3,176.9 L493,176.9 L494.7,176.9 L496.3,176.9 L497.9,176.9 L499.5,176.9 L501,176.9 L502.4,176.9 L503.9,176.9 L505.2,176.9 L506.6,176.9 L507.8,176.9 L509.1,176.9 L510.3,176.9 L511.5,176.9 L512.6,176.9 L513.7,176.9 L514.7,176.9 L515.7,176.9 L516.6,176.9 L517.6,176.9 L518.4,176.9 L519.3,176.9 L520.1,176.9 L520.8,176.9 L521.6,176.9 L522.2,176.9 L522.9,176.9 L523.5,176.9 L524.1,176.9 L524.6,176.9 L525.1,176.9 L525.5,176.9 L526,176.9 L526.4,176.9 L526.7,176.9 L527,176.9 L527.3,176.9 L527.6,176.9 L527.8,176.9 L528,176.9 L528.2,176.9 L528.3,176.9 L528.4,176.9 L528.5,176.9 L528.5,176.9 L528.6,176.9 L528.6,176.9" class="ro r"/><path d="M528.6,-0.1 L528.6,-0.1 L528.6,-0 L528.7,0 L528.7,0.2 L528.8,0.3 L529,0.6 L529.1,0.8 L529.3,1.1 L529.6,1.5 L529.8,1.9 L530.1,2.4 L530.4,2.9 L530.8,3.4 L531.2,4 L531.6,4.7 L532.1,5.4 L532.5,6.2 L533.1,6.9 L533.7,7.8 L534.3,8.7 L534.9,9.6 L535.6,10.6 L536.3,11.6 L537.1,12.7 L537.9,13.7 L538.7,14.9 L539.6,16 L540.5,17.2 L541.5,18.4 L542.4,19.7 L543.5,20.9 L544.6,22.2 L545.7,23.5 L546.8,24.8 L548.1,26.2 L549.3,27.5 L550.6,28.9 L551.9,30.2 L553.3,31.6 L554.7,33 L556.2,34.3 L557.7,35.7 L559.2,37.1 L560.8,38.4 L562.4,39.8 L564.1,41.1 L565.8,42.4 L567.6,43.8 L569.4,45.1 L571.3,46.3 L573.2,47.6 L575.1,48.8 L577.1,50.1 L579.1,51.3 L581.2,52.4 L583.4,53.6 L585.5,54.7 L587.8,55.8 L590,56.9 L592.3,57.9 L594.7,58.9 L597.1,59.9 L599.6,60.8 L602.1,61.8 L604.6,62.6 L607.2,63.5 L609.9,64.3 L612.6,65.1 L615.3,65.9 L618.1,66.6 L620.9,67.3 L623.8,68 L626.7,68.7 L629.7,69.3 L632.8,69.9 L635.8,70.5 L639,71 L642.1,71.5 L645.4,72 L648.6,72.5 L652,72.9 L655.4,73.3 L658.8,73.7 L662.3,74.1 L665.8,74.4 L669.4,74.8 L673,75.1 L676.7,75.4 L680.4,75.6 L684.2,75.9 L684.2,187.2 L680.4,187.2 L676.7,187.2 L673,187.2 L669.4,187.2 L665.8,187.2 L662.3,187.2 L658.8,187.2 L655.4,187.2 L652,187.2 L648.6,187.2 L645.4,187.2 L642.1,187.2 L639,187.2 L635.8,187.2 L632.8,187.2 L629.7,187.2 L626.7,187.2 L623.8,187.2 L620.9,187.2 L618.1,187.2 L615.3,187.2 L612.6,187.2 L609.9,187.2 L607.2,187.2 L604.6,187.2 L602.1,187.2 L599.6,187.2 L597.1,187.2 L594.7,187.2 L592.3,187.2 L590,187.2 L587.8,187.2 L585.5,187.2 L583.4,187.2 L581.2,187.2 L579.1,187.2 L577.1,187.2 L575.1,187.2 L573.2,187.2 L571.3,187.2 L569.4,187.2 L567.6,187.2 L565.8,187.2 L564.1,187.2 L562.4,187.2 L560.8,187.2 L559.2,187.2 L557.7,187.2 L556.2,187.2 L554.7,187.2 L553.3,187.2 L551.9,187.2 L550.6,187.2 L549.3,187.2 L548.1,187.2 L546.8,187.2 L545.7,187.2 L544.6,187.2 L543.5,187.2 L542.4,187.2 L541.5,187.2 L540.5,187.2 L539.6,187.2 L538.7,187.2 L537.9,187.2 L537.1,187.2 L536.3,187.2 L535.6,187.2 L534.9,187.2 L534.3,187.2 L533.7,187.2 L533.1,187.2 L532.5,187.2 L532.1,187.2 L531.6,187.2 L531.2,187.4 L530.8,187.9 L530.4,188.9 L530.1,191.3 L529.8,195.8 L529.6,203.9 L529.3,217.1 L529.1,236.5 L529,262.3 L528.8,293.2 L528.7,326.1 L528.7,356.8 L528.6,381.1 L528.6,395.7 L528.6,400Z" class="rb r"/><path d="M528.6,-0.1 L528.6,-0.1 L528.6,-0 L528.7,0 L528.7,0.2 L528.8,0.3 L529,0.6 L529.1,0.8 L529.3,1.1 L529.6,1.5 L529.8,1.9 L530.1,2.4 L530.4,2.9 L530.8,3.4 L531.2,4 L531.6,4.7 L532.1,5.4 L532.5,6.2 L533.1,6.9 L533.7,7.8 L534.3,8.7 L534.9,9.6 L535.6,10.6 L536.3,11.6 L537.1,12.7 L537.9,13.7 L538.7,14.9 L539.6,16 L540.5,17.2 L541.5,18.4 L542.4,19.7 L543.5,20.9 L544.6,22.2 L545.7,23.5 L546.8,24.8 L548.1,26.2 L549.3,27.5 L550.6,28.9 L551.9,30.2 L553.3,31.6 L554.7,33 L556.2,34.3 L557.7,35.7 L559.2,37.1 L560.8,38.4 L562.4,39.8 L564.1,41.1 L565.8,42.4 L567.6,43.8 L569.4,45.1 L571.3,46.3 L573.2,47.6 L575.1,48.8 L577.1,50.1 L579.1,51.3 L581.2,52.4 L583.4,53.6 L585.5,54.7 L587.8,55.8 L590,56.9 L592.3,57.9 L594.7,58.9 L597.1,59.9 L599.6,60.8 L602.1,61.8 L604.6,62.6 L607.2,63.5 L609.9,64.3 L612.6,65.1 L615.3,65.9 L618.1,66.6 L620.9,67.3 L623.8,68 L626.7,68.7 L629.7,69.3 L632.8,69.9 L635.8,70.5 L639,71 L642.1,71.5 L645.4,72 L648.6,72.5 L652,72.9 L655.4,73.3 L658.8,73.7 L662.3,74.1 L665.8,74.4 L669.4,74.8 L673,75.1 L676.7,75.4 L680.4,75.6 L684.2,75.9" class="ro r"/><path d="M528.6,400 L528.6,395.7 L528.6,381.1 L528.7,356.8 L528.7,326.1 L528.8,293.2 L529,262.3 L529.1,236.5 L529.3,217.1 L529.6,203.9 L529.8,195.8 L530.1,191.3 L530.4,188.9 L530.8,187.9 L531.2,187.4 L531.6,187.2 L532.1,187.2 L532.5,187.2 L533.1,187.2 L533.7,187.2 L534.3,187.2 L534.9,187.2 L535.6,187.2 L536.3,187.2 L537.1,187.2 L537.9,187.2 L538.7,187.2 L539.6,187.2 L540.5,187.2 L541.5,187.2 L542.4,187.2 L543.5,187.2 L544.6,187.2 L545.7,187.2 L546.8,187.2 L548.1,187.2 L549.3,187.2 L550.6,187.2 L551.9,187.2 L553.3,187.2 L554.7,187.2 L556.2,187.2 L557.7,187.2 L559.2,187.2 L560.8,187.2 L562.4,187.2 L564.1,187.2 L565.8,187.2 L567.6,187.2 L569.4,187.2 L571.3,187.2 L573.2,187.2 L575.1,187.2 L577.1,187.2 L579.1,187.2 L581.2,187.2 L583.4,187.2 L585.5,187.2 L587.8,187.2 L590,187.2 L592.3,187.2 L594.7,187.2 L597.1,187.2 L599.6,187.2 L602.1,187.2 L604.6,187.2 L607.2,187.2 L609.9,187.2 L612.6,187.2 L615.3,187.2 L618.1,187.2 L620.9,187.2 L623.8,187.2 L626.7,187.2 L629.7,187.2 L632.8,187.2 L635.8,187.2 L639,187.2 L642.1,187.2 L645.4,187.2 L648.6,187.2 L652,187.2 L655.4,187.2 L658.8,187.2 L662.3,187.2 L665.8,187.2 L669.4,187.2 L673,187.2 L676.7,187.2 L680.4,187.2 L684.2,187.2" class="ro r"/><path d="M373,141.2 L376.7,141.2 L380.5,141.2 L384.2,141.2 L387.8,141.2 L391.4,141.2 L394.9,141.2 L398.4,141.2 L401.8,141.2 L405.2,141.1 L408.5,141.1 L411.8,141.1 L415,141.1 L418.2,141.1 L421.3,141.1 L424.4,141 L427.4,141 L430.4,141 L433.3,140.9 L436.2,140.9 L439.1,140.8 L441.8,140.7 L444.6,140.6 L447.3,140.5 L449.9,140.4 L452.5,140.3 L455.1,140.1 L457.6,139.9 L460,139.7 L462.4,139.5 L464.8,139.2 L467.1,138.9 L469.4,138.6 L471.6,138.2 L473.8,137.8 L475.9,137.3 L478,136.8 L480,136.2 L482,135.5 L484,134.8 L485.9,134 L487.7,133.1 L489.5,132.1 L491.3,131 L493,129.9 L494.7,128.7 L496.3,127.3 L497.9,125.9 L499.5,124.3 L501,122.7 L502.4,120.9 L503.9,119.1 L505.2,117.1 L506.6,115 L507.8,112.9 L509.1,110.6 L510.3,108.2 L511.5,105.8 L512.6,103.2 L513.7,100.6 L514.7,97.9 L515.7,95.1 L516.6,92.3 L517.6,89.4 L518.4,86.5 L519.3,83.6 L520.1,80.7 L520.8,77.7 L521.6,74.8 L522.2,72 L522.9,69.1 L523.5,66.4 L524.1,63.7 L524.6,61.1 L525.1,58.6 L525.5,56.2 L526,53.9 L526.4,51.7 L526.7,49.7 L527,47.9 L527.3,46.2 L527.6,44.7 L527.8,43.3 L528,42.2 L528.2,41.2 L528.3,40.3 L528.4,39.7 L528.5,39.2 L528.5,38.9 L528.6,38.7 L528.6,38.6 L528.6,200.8 L528.6,200.8 L528.5,200.9 L528.5,201.1 L528.4,201.3 L528.3,201.6 L528.2,202 L528,202.4 L527.8,202.8 L527.6,203.3 L527.3,203.8 L527,204.3 L526.7,204.7 L526.4,205.1 L526,205.5 L525.5,205.8 L525.1,206.1 L524.6,206.3 L524.1,206.5 L523.5,206.7 L522.9,206.8 L522.2,206.9 L521.6,207 L520.8,207 L520.1,207.1 L519.3,207.1 L518.4,207.1 L517.6,207.1 L516.6,207.1 L515.7,207.2 L514.7,207.2 L513.7,207.2 L512.6,207.2 L511.5,207.2 L510.3,207.2 L509.1,207.2 L507.8,207.2 L506.6,207.2 L505.2,207.2 L503.9,207.2 L502.4,207.2 L501,207.2 L499.5,207.2 L497.9,207.2 L496.3,207.2 L494.7,207.2 L493,207.2 L491.3,207.2 L489.5,207.2 L487.7,207.2 L485.9,207.2 L484,207.2 L482,207.2 L480,207.2 L478,207.2 L475.9,207.2 L473.8,207.2 L471.6,207.2 L469.4,207.2 L467.1,207.2 L464.8,207.2 L462.4,207.2 L460,207.2 L457.6,207.2 L455.1,207.2 L452.5,207.2 L449.9,207.2 L447.3,207.2 L444.6,207.2 L441.8,207.2 L439.1,207.2 L436.2,207.2 L433.3,207.2 L430.4,207.2 L427.4,207.2 L424.4,207.2 L421.3,207.2 L418.2,207.2 L415,207.2 L411.8,207.2 L408.5,207.2 L405.2,207.2 L401.8,207.2 L398.4,207.2 L394.9,207.2 L391.4,207.2 L387.8,207.2 L384.2,207.2 L380.5,207.2 L376.7,207.2 L373,207.2Z" class="rb b"/><path d="M373,141.2 L376.7,141.2 L380.5,141.2 L384.2,141.2 L387.8,141.2 L391.4,141.2 L394.9,141.2 L398.4,141.2 L401.8,141.2 L405.2,141.1 L408.5,141.1 L411.8,141.1 L415,141.1 L418.2,141.1 L421.3,141.1 L424.4,141 L427.4,141 L430.4,141 L433.3,140.9 L436.2,140.9 L439.1,140.8 L441.8,140.7 L444.6,140.6 L447.3,140.5 L449.9,140.4 L452.5,140.3 L455.1,140.1 L457.6,139.9 L460,139.7 L462.4,139.5 L464.8,139.2 L467.1,138.9 L469.4,138.6 L471.6,138.2 L473.8,137.8 L475.9,137.3 L478,136.8 L480,136.2 L482,135.5 L484,134.8 L485.9,134 L487.7,133.1 L489.5,132.1 L491.3,131 L493,129.9 L494.7,128.7 L496.3,127.3 L497.9,125.9 L499.5,124.3 L501,122.7 L502.4,120.9 L503.9,119.1 L505.2,117.1 L506.6,115 L507.8,112.9 L509.1,110.6 L510.3,108.2 L511.5,105.8 L512.6,103.2 L513.7,100.6 L514.7,97.9 L515.7,95.1 L516.6,92.3 L517.6,89.4 L518.4,86.5 L519.3,83.6 L520.1,80.7 L520.8,77.7 L521.6,74.8 L522.2,72 L522.9,69.1 L523.5,66.4 L524.1,63.7 L524.6,61.1 L525.1,58.6 L525.5,56.2 L526,53.9 L526.4,51.7 L526.7,49.7 L527,47.9 L527.3,46.2 L527.6,44.7 L527.8,43.3 L528,42.2 L528.2,41.2 L528.3,40.3 L528.4,39.7 L528.5,39.2 L528.5,38.9 L528.6,38.7 L528.6,38.6" class="ro b"/><path d="M373,207.2 L376.7,207.2 L380.5,207.2 L384.2,207.2 L387.8,207.2 L391.4,207.2 L394.9,207.2 L398.4,207.2 L401.8,207.2 L405.2,207.2 L408.5,207.2 L411.8,207.2 L415,207.2 L418.2,207.2 L421.3,207.2 L424.4,207.2 L427.4,207.2 L430.4,207.2 L433.3,207.2 L436.2,207.2 L439.1,207.2 L441.8,207.2 L444.6,207.2 L447.3,207.2 L449.9,207.2 L452.5,207.2 L455.1,207.2 L457.6,207.2 L460,207.2 L462.4,207.2 L464.8,207.2 L467.1,207.2 L469.4,207.2 L471.6,207.2 L473.8,207.2 L475.9,207.2 L478,207.2 L480,207.2 L482,207.2 L484,207.2 L485.9,207.2 L487.7,207.2 L489.5,207.2 L491.3,207.2 L493,207.2 L494.7,207.2 L496.3,207.2 L497.9,207.2 L499.5,207.2 L501,207.2 L502.4,207.2 L503.9,207.2 L505.2,207.2 L506.6,207.2 L507.8,207.2 L509.1,207.2 L510.3,207.2 L511.5,207.2 L512.6,207.2 L513.7,207.2 L514.7,207.2 L515.7,207.2 L516.6,207.1 L517.6,207.1 L518.4,207.1 L519.3,207.1 L520.1,207.1 L520.8,207 L521.6,207 L522.2,206.9 L522.9,206.8 L523.5,206.7 L524.1,206.5 L524.6,206.3 L525.1,206.1 L525.5,205.8 L526,205.5 L526.4,205.1 L526.7,204.7 L527,204.3 L527.3,203.8 L527.6,203.3 L527.8,202.8 L528,202.4 L528.2,202 L528.3,201.6 L528.4,201.3 L528.5,201.1 L528.5,200.9 L528.6,200.8 L528.6,200.8" class="ro b"/><path d="M528.6,34.4 L528.6,34.4 L528.6,34.4 L528.7,34.4 L528.7,34.5 L528.8,34.6 L529,34.6 L529.1,34.8 L529.3,34.9 L529.6,35 L529.8,35.2 L530.1,35.4 L530.4,35.6 L530.8,35.9 L531.2,36.1 L531.6,36.4 L532.1,36.7 L532.5,37 L533.1,37.4 L533.7,37.8 L534.3,38.2 L534.9,38.6 L535.6,39 L536.3,39.5 L537.1,40 L537.9,40.5 L538.7,41 L539.6,41.6 L540.5,42.2 L541.5,42.8 L542.4,43.4 L543.5,44 L544.6,44.7 L545.7,45.4 L546.8,46.1 L548.1,46.8 L549.3,47.6 L550.6,48.3 L551.9,49.1 L553.3,49.9 L554.7,50.7 L556.2,51.6 L557.7,52.4 L559.2,53.3 L560.8,54.2 L562.4,55 L564.1,56 L565.8,56.9 L567.6,57.8 L569.4,58.8 L571.3,59.7 L573.2,60.7 L575.1,61.7 L577.1,62.7 L579.1,63.7 L581.2,64.7 L583.4,65.7 L585.5,66.8 L587.8,67.8 L590,68.9 L592.3,69.9 L594.7,71 L597.1,72 L599.6,73.1 L602.1,74.2 L604.6,75.2 L607.2,76.3 L609.9,77.4 L612.6,78.5 L615.3,79.5 L618.1,80.6 L620.9,81.7 L623.8,82.8 L626.7,83.8 L629.7,84.9 L632.8,86 L635.8,87 L639,88.1 L642.1,89.1 L645.4,90.2 L648.6,91.2 L652,92.2 L655.4,93.3 L658.8,94.3 L662.3,95.3 L665.8,96.3 L669.4,97.3 L673,98.3 L676.7,99.2 L680.4,100.2 L684.2,101.2 L684.2,211.4 L680.4,211.4 L676.7,211.4 L673,211.4 L669.4,211.4 L665.8,211.4 L662.3,211.4 L658.8,211.4 L655.4,211.4 L652,211.4 L648.6,211.4 L645.4,211.4 L642.1,211.4 L639,211.4 L635.8,211.4 L632.8,211.4 L629.7,211.4 L626.7,211.4 L623.8,211.4 L620.9,211.4 L618.1,211.4 L615.3,211.4 L612.6,211.4 L609.9,211.4 L607.2,211.4 L604.6,211.4 L602.1,211.4 L599.6,211.4 L597.1,211.4 L594.7,211.4 L592.3,211.4 L590,211.4 L587.8,211.4 L585.5,211.4 L583.4,211.4 L581.2,211.4 L579.1,211.4 L577.1,211.4 L575.1,211.4 L573.2,211.3 L571.3,211.3 L569.4,211.3 L567.6,211.3 L565.8,211.2 L564.1,211.2 L562.4,211.1 L560.8,211 L559.2,210.9 L557.7,210.8 L556.2,210.6 L554.7,210.5 L553.3,210.3 L551.9,210.1 L550.6,209.8 L549.3,209.5 L548.1,209.1 L546.8,208.7 L545.7,208.2 L544.6,207.7 L543.5,207.2 L542.4,206.5 L541.5,205.8 L540.5,205 L539.6,204.2 L538.7,203.3 L537.9,202.3 L537.1,201.3 L536.3,200.2 L535.6,199 L534.9,197.8 L534.3,196.6 L533.7,195.3 L533.1,194.1 L532.5,192.8 L532.1,191.5 L531.6,190.2 L531.2,188.9 L530.8,187.7 L530.4,186.5 L530.1,185.4 L529.8,184.4 L529.6,183.5 L529.3,182.6 L529.1,181.8 L529,181.2 L528.8,180.6 L528.7,180.2 L528.7,179.9 L528.6,179.7 L528.6,179.5 L528.6,179.5Z" class="rb b"/><path d="M528.6,34.4 L528.6,34.4 L528.6,34.4 L528.7,34.4 L528.7,34.5 L528.8,34.6 L529,34.6 L529.1,34.8 L529.3,34.9 L529.6,35 L529.8,35.2 L530.1,35.4 L530.4,35.6 L530.8,35.9 L531.2,36.1 L531.6,36.4 L532.1,36.7 L532.5,37 L533.1,37.4 L533.7,37.8 L534.3,38.2 L534.9,38.6 L535.6,39 L536.3,39.5 L537.1,40 L537.9,40.5 L538.7,41 L539.6,41.6 L540.5,42.2 L541.5,42.8 L542.4,43.4 L543.5,44 L544.6,44.7 L545.7,45.4 L546.8,46.1 L548.1,46.8 L549.3,47.6 L550.6,48.3 L551.9,49.1 L553.3,49.9 L554.7,50.7 L556.2,51.6 L557.7,52.4 L559.2,53.3 L560.8,54.2 L562.4,55 L564.1,56 L565.8,56.9 L567.6,57.8 L569.4,58.8 L571.3,59.7 L573.2,60.7 L575.1,61.7 L577.1,62.7 L579.1,63.7 L581.2,64.7 L583.4,65.7 L585.5,66.8 L587.8,67.8 L590,68.9 L592.3,69.9 L594.7,71 L597.1,72 L599.6,73.1 L602.1,74.2 L604.6,75.2 L607.2,76.3 L609.9,77.4 L612.6,78.5 L615.3,79.5 L618.1,80.6 L620.9,81.7 L623.8,82.8 L626.7,83.8 L629.7,84.9 L632.8,86 L635.8,87 L639,88.1 L642.1,89.1 L645.4,90.2 L648.6,91.2 L652,92.2 L655.4,93.3 L658.8,94.3 L662.3,95.3 L665.8,96.3 L669.4,97.3 L673,98.3 L676.7,99.2 L680.4,100.2 L684.2,101.2" class="ro b"/><path d="M528.6,179.5 L528.6,179.5 L528.6,179.7 L528.7,179.9 L528.7,180.2 L528.8,180.6 L529,181.2 L529.1,181.8 L529.3,182.6 L529.6,183.5 L529.8,184.4 L530.1,185.4 L530.4,186.5 L530.8,187.7 L531.2,188.9 L531.6,190.2 L532.1,191.5 L532.5,192.8 L533.1,194.1 L533.7,195.3 L534.3,196.6 L534.9,197.8 L535.6,199 L536.3,200.2 L537.1,201.3 L537.9,202.3 L538.7,203.3 L539.6,204.2 L540.5,205 L541.5,205.8 L542.4,206.5 L543.5,207.2 L544.6,207.7 L545.7,208.2 L546.8,208.7 L548.1,209.1 L549.3,209.5 L550.6,209.8 L551.9,210.1 L553.3,210.3 L554.7,210.5 L556.2,210.6 L557.7,210.8 L559.2,210.9 L560.8,211 L562.4,211.1 L564.1,211.2 L565.8,211.2 L567.6,211.3 L569.4,211.3 L571.3,211.3 L573.2,211.3 L575.1,211.4 L577.1,211.4 L579.1,211.4 L581.2,211.4 L583.4,211.4 L585.5,211.4 L587.8,211.4 L590,211.4 L592.3,211.4 L594.7,211.4 L597.1,211.4 L599.6,211.4 L602.1,211.4 L604.6,211.4 L607.2,211.4 L609.9,211.4 L612.6,211.4 L615.3,211.4 L618.1,211.4 L620.9,211.4 L623.8,211.4 L626.7,211.4 L629.7,211.4 L632.8,211.4 L635.8,211.4 L639,211.4 L642.1,211.4 L645.4,211.4 L648.6,211.4 L652,211.4 L655.4,211.4 L658.8,211.4 L662.3,211.4 L665.8,211.4 L669.4,211.4 L673,211.4 L676.7,211.4 L680.4,211.4 L684.2,211.4" class="ro b"/><path d="M373,136.5 L376.7,136.5 L380.5,136.5 L384.2,136.5 L387.8,136.5 L391.4,136.5 L394.9,136.5 L398.4,136.5 L401.8,136.5 L405.2,136.5 L408.5,136.5 L411.8,136.5 L415,136.5 L418.2,136.5 L421.3,136.5 L424.4,136.5 L427.4,136.5 L430.4,136.5 L433.3,136.5 L436.2,136.5 L439.1,136.5 L441.8,136.5 L444.6,136.5 L447.3,136.5 L449.9,136.5 L452.5,136.5 L455.1,136.5 L457.6,136.5 L460,136.5 L462.4,136.5 L464.8,136.5 L467.1,136.5 L469.4,136.5 L471.6,136.5 L473.8,136.5 L475.9,136.5 L478,136.5 L480,136.5 L482,136.5 L484,136.5 L485.9,136.5 L487.7,136.5 L489.5,136.5 L491.3,136.5 L493,136.5 L494.7,136.5 L496.3,136.5 L497.9,136.5 L499.5,136.5 L501,136.5 L502.4,136.5 L503.9,136.5 L505.2,136.5 L506.6,136.5 L507.8,136.5 L509.1,136.5 L510.3,136.5 L511.5,136.5 L512.6,136.5 L513.7,136.5 L514.7,136.5 L515.7,136.5 L516.6,136.5 L517.6,136.5 L518.4,136.5 L519.3,136.5 L520.1,136.5 L520.8,136.5 L521.6,136.5 L522.2,136.5 L522.9,136.5 L523.5,136.5 L524.1,136.5 L524.6,136.5 L525.1,136.5 L525.5,136.5 L526,136.5 L526.4,136.5 L526.7,136.5 L527,136.5 L527.3,136.5 L527.6,136.5 L527.8,136.5 L528,136.5 L528.2,136.5 L528.3,136.5 L528.4,136.5 L528.5,136.5 L528.5,136.5 L528.6,136.5 L528.6,136.5" class="ml r"/><path d="M528.6,114 L528.6,114 L528.6,114.2 L528.7,114.4 L528.7,114.9 L528.8,115.4 L529,116.1 L529.1,116.8 L529.3,117.7 L529.6,118.6 L529.8,119.6 L530.1,120.7 L530.4,121.7 L530.8,122.7 L531.2,123.7 L531.6,124.7 L532.1,125.6 L532.5,126.4 L533.1,127.2 L533.7,127.9 L534.3,128.5 L534.9,129 L535.6,129.4 L536.3,129.8 L537.1,130.1 L537.9,130.3 L538.7,130.5 L539.6,130.7 L540.5,130.8 L541.5,130.9 L542.4,131 L543.5,131.1 L544.6,131.1 L545.7,131.1 L546.8,131.1 L548.1,131.2 L549.3,131.2 L550.6,131.2 L551.9,131.2 L553.3,131.2 L554.7,131.2 L556.2,131.2 L557.7,131.2 L559.2,131.2 L560.8,131.2 L562.4,131.2 L564.1,131.2 L565.8,131.2 L567.6,131.2 L569.4,131.2 L571.3,131.2 L573.2,131.2 L575.1,131.2 L577.1,131.2 L579.1,131.2 L581.2,131.2 L583.4,131.2 L585.5,131.2 L587.8,131.2 L590,131.2 L592.3,131.2 L594.7,131.2 L597.1,131.2 L599.6,131.2 L602.1,131.2 L604.6,131.2 L607.2,131.2 L609.9,131.2 L612.6,131.2 L615.3,131.2 L618.1,131.2 L620.9,131.2 L623.8,131.2 L626.7,131.2 L629.7,131.2 L632.8,131.2 L635.8,131.2 L639,131.2 L642.1,131.2 L645.4,131.2 L648.6,131.2 L652,131.2 L655.4,131.2 L658.8,131.2 L662.3,131.2 L665.8,131.2 L669.4,131.2 L673,131.2 L676.7,131.2 L680.4,131.2 L684.2,131.2" class="ml r"/><path d="M373,174.2 L376.7,174.2 L380.5,174.2 L384.2,174.2 L387.8,174.2 L391.4,174.2 L394.9,174.2 L398.4,174.2 L401.8,174.2 L405.2,174.2 L408.5,174.2 L411.8,174.2 L415,174.2 L418.2,174.2 L421.3,174.2 L424.4,174.2 L427.4,174.2 L430.4,174.2 L433.3,174.2 L436.2,174.2 L439.1,174.2 L441.8,174.2 L444.6,174.2 L447.3,174.2 L449.9,174.2 L452.5,174.2 L455.1,174.2 L457.6,174.2 L460,174.2 L462.4,174.2 L464.8,174.2 L467.1,174.2 L469.4,174.2 L471.6,174.2 L473.8,174.2 L475.9,174.2 L478,174.2 L480,174.2 L482,174.2 L484,174.2 L485.9,174.2 L487.7,174.2 L489.5,174.2 L491.3,174.1 L493,174.1 L494.7,174.1 L496.3,174.1 L497.9,174 L499.5,174 L501,173.9 L502.4,173.8 L503.9,173.7 L505.2,173.5 L506.6,173.3 L507.8,173.1 L509.1,172.8 L510.3,172.4 L511.5,171.9 L512.6,171.4 L513.7,170.7 L514.7,169.9 L515.7,168.9 L516.6,167.8 L517.6,166.5 L518.4,165 L519.3,163.3 L520.1,161.4 L520.8,159.3 L521.6,156.9 L522.2,154.4 L522.9,151.7 L523.5,148.7 L524.1,145.6 L524.6,142.4 L525.1,139 L525.5,135.6 L526,132.2 L526.4,128.7 L526.7,125.4 L527,122.1 L527.3,119 L527.6,116 L527.8,113.5 L528,113.5 L528.2,113.5 L528.3,113.5 L528.4,113.5 L528.5,113.5 L528.5,113.5 L528.6,113.5 L528.6,113.5" class="ml b"/><path d="M528.6,101.2 L528.6,101.2 L528.6,101.3 L528.7,101.5 L528.7,101.8 L528.8,102.2 L529,102.8 L529.1,103.4 L529.3,104.1 L529.6,105 L529.8,105.9 L530.1,107 L530.4,108.1 L530.8,109.4 L531.2,110.7 L531.6,112.2 L532.1,113.7 L532.5,115.3 L533.1,117 L533.7,118.7 L534.3,120.5 L534.9,122.4 L535.6,124.2 L536.3,126.1 L537.1,128.1 L537.9,130 L538.7,132 L539.6,134 L540.5,135.9 L541.5,137.9 L542.4,139.8 L543.5,141.7 L544.6,143.5 L545.7,145.4 L546.8,147.1 L548.1,148.9 L549.3,150.5 L550.6,152.2 L551.9,153.7 L553.3,155.2 L554.7,156.6 L556.2,158 L557.7,159.3 L559.2,160.5 L560.8,161.7 L562.4,162.8 L564.1,163.8 L565.8,164.8 L567.6,165.7 L569.4,166.5 L571.3,167.3 L573.2,168 L575.1,168.7 L577.1,169.3 L579.1,169.9 L581.2,170.4 L583.4,170.9 L585.5,171.3 L587.8,171.7 L590,172.1 L592.3,172.4 L594.7,172.7 L597.1,172.9 L599.6,173.2 L602.1,173.4 L604.6,173.6 L607.2,173.7 L609.9,173.9 L612.6,174 L615.3,174.1 L618.1,174.2 L620.9,174.3 L623.8,174.4 L626.7,174.4 L629.7,174.5 L632.8,174.5 L635.8,174.6 L639,174.6 L642.1,174.6 L645.4,174.7 L648.6,174.7 L652,174.7 L655.4,174.7 L658.8,174.7 L662.3,174.8 L665.8,174.8 L669.4,174.8 L673,174.8 L676.7,174.8 L680.4,174.8 L684.2,174.8" class="ml b"/></g>
<rect x="373.0" y="0.5" width="311.50" height="234.00" class="bd"/>
<line x1="369.60" y1="223.8" x2="373.0" y2="223.8" class="tk"/>
<text x="367.00" y="228.16" class="tl" text-anchor="end">0</text>
<line x1="369.60" y1="181.2" x2="373.0" y2="181.2" class="tk"/>
<text x="367.00" y="185.60" class="tl" text-anchor="end">2</text>
<line x1="369.60" y1="138.6" x2="373.0" y2="138.6" class="tk"/>
<text x="367.00" y="143.04" class="tl" text-anchor="end">4</text>
<line x1="369.60" y1="96.1" x2="373.0" y2="96.1" class="tk"/>
<text x="367.00" y="100.48" class="tl" text-anchor="end">6</text>
<line x1="369.60" y1="53.5" x2="373.0" y2="53.5" class="tk"/>
<text x="367.00" y="57.92" class="tl" text-anchor="end">8</text>
<line x1="369.60" y1="11" x2="373.0" y2="11" class="tk"/>
<text x="367.00" y="15.36" class="tl" text-anchor="end">10</text>
<line x1="399.7" y1="234.5" x2="399.7" y2="237.90" class="tk"/>
<text x="399.71" y="249.00" class="tl" text-anchor="middle">-20</text>
<line x1="464.1" y1="234.5" x2="464.1" y2="237.90" class="tk"/>
<text x="464.14" y="249.00" class="tl" text-anchor="middle">-10</text>
<line x1="528.6" y1="234.5" x2="528.6" y2="237.90" class="tk"/>
<text x="528.57" y="249.00" class="tl" text-anchor="middle">0</text>
<line x1="593" y1="234.5" x2="593" y2="237.90" class="tk"/>
<text x="593.00" y="249.00" class="tl" text-anchor="middle">10</text>
<line x1="657.4" y1="234.5" x2="657.4" y2="237.90" class="tk"/>
<text x="657.43" y="249.00" class="tl" text-anchor="middle">20</text>
<rect x="386.40" y="12.30" width="43.79" height="14.3" rx="1.5" fill="#fff"/>
<text x="389.60" y="23.90" class="pl">Shame</text>
<g clip-path="url(#cp01)"><rect x="33.5" y="260.5" width="311.50" height="233.20" fill="#fff"/><line x1="92.6" y1="260.5" x2="92.6" y2="493.7" class="gm"/><line x1="157" y1="260.5" x2="157" y2="493.7" class="gm"/><line x1="221.4" y1="260.5" x2="221.4" y2="493.7" class="gm"/><line x1="285.8" y1="260.5" x2="285.8" y2="493.7" class="gm"/><line x1="33.5" y1="462" x2="345.0" y2="462" class="gm"/><line x1="33.5" y1="419.5" x2="345.0" y2="419.5" class="gm"/><line x1="33.5" y1="376.9" x2="345.0" y2="376.9" class="gm"/><line x1="33.5" y1="334.3" x2="345.0" y2="334.3" class="gm"/><line x1="33.5" y1="291.8" x2="345.0" y2="291.8" class="gm"/><line x1="60.3" y1="260.5" x2="60.3" y2="493.7" class="gM"/><line x1="124.8" y1="260.5" x2="124.8" y2="493.7" class="gM"/><line x1="189.2" y1="260.5" x2="189.2" y2="493.7" class="gM"/><line x1="253.6" y1="260.5" x2="253.6" y2="493.7" class="gM"/><line x1="318.1" y1="260.5" x2="318.1" y2="493.7" class="gM"/><line x1="33.5" y1="483.3" x2="345.0" y2="483.3" class="gM"/><line x1="33.5" y1="440.7" x2="345.0" y2="440.7" class="gM"/><line x1="33.5" y1="398.2" x2="345.0" y2="398.2" class="gM"/><line x1="33.5" y1="355.6" x2="345.0" y2="355.6" class="gM"/><line x1="33.5" y1="313.1" x2="345.0" y2="313.1" class="gM"/><line x1="33.5" y1="270.5" x2="345.0" y2="270.5" class="gM"/><line x1="189.20" y1="260.5" x2="189.20" y2="493.7" class="v0"/><path d="M33.6,348.8 L37.4,348.8 L41.1,348.8 L44.8,348.8 L48.4,348.8 L52,348.8 L55.5,348.8 L59,348.8 L62.4,348.8 L65.8,348.8 L69.1,348.8 L72.4,348.8 L75.6,348.8 L78.8,348.8 L81.9,348.8 L85,348.8 L88,348.8 L91,348.8 L94,348.8 L96.8,348.8 L99.7,348.8 L102.5,348.8 L105.2,348.8 L107.9,348.8 L110.6,348.8 L113.2,348.8 L115.7,348.8 L118.2,348.8 L120.7,348.8 L123.1,348.8 L125.4,348.8 L127.7,348.8 L130,348.8 L132.2,348.8 L134.4,348.8 L136.5,348.8 L138.6,348.8 L140.7,348.8 L142.7,348.8 L144.6,348.8 L146.5,348.8 L148.4,348.8 L150.2,348.8 L151.9,348.8 L153.7,348.8 L155.3,348.8 L157,348.8 L158.6,348.8 L160.1,348.8 L161.6,348.8 L163.1,348.8 L164.5,348.8 L165.9,348.8 L167.2,348.8 L168.5,348.8 L169.7,348.8 L170.9,348.8 L172.1,348.8 L173.2,348.8 L174.3,348.8 L175.3,348.8 L176.3,348.8 L177.3,348.8 L178.2,348.8 L179.1,348.8 L179.9,348.8 L180.7,348.8 L181.5,348.8 L182.2,348.8 L182.9,348.8 L183.5,348.8 L184.1,348.8 L184.7,348.8 L185.2,348.8 L185.7,348.8 L186.2,348.8 L186.6,348.8 L187,348.8 L187.4,348.8 L187.7,348.8 L188,348.8 L188.2,348.8 L188.4,348.8 L188.6,348.8 L188.8,348.8 L188.9,348.8 L189,348.8 L189.1,348.8 L189.2,348.8 L189.2,348.8 L189.2,348.8 L189.2,389.5 L189.2,389.5 L189.2,389.5 L189.1,389.5 L189,389.5 L188.9,389.5 L188.8,389.5 L188.6,389.5 L188.4,389.5 L188.2,389.5 L188,389.5 L187.7,389.5 L187.4,389.5 L187,389.5 L186.6,389.5 L186.2,389.5 L185.7,389.5 L185.2,389.5 L184.7,389.5 L184.1,389.5 L183.5,389.5 L182.9,389.5 L182.2,389.5 L181.5,389.5 L180.7,389.5 L179.9,389.5 L179.1,389.5 L178.2,389.5 L177.3,389.5 L176.3,389.5 L175.3,389.5 L174.3,389.5 L173.2,389.5 L172.1,389.5 L170.9,389.5 L169.7,389.5 L168.5,389.5 L167.2,389.5 L165.9,389.5 L164.5,389.5 L163.1,389.5 L161.6,389.5 L160.1,389.5 L158.6,389.5 L157,389.5 L155.3,389.5 L153.7,389.5 L151.9,389.5 L150.2,389.5 L148.4,389.5 L146.5,389.5 L144.6,389.5 L142.7,389.5 L140.7,389.5 L138.6,389.5 L136.5,389.5 L134.4,389.5 L132.2,389.5 L130,389.5 L127.7,389.5 L125.4,389.5 L123.1,389.5 L120.7,389.5 L118.2,389.5 L115.7,389.5 L113.2,389.5 L110.6,389.5 L107.9,389.5 L105.2,389.5 L102.5,389.5 L99.7,389.5 L96.8,389.5 L94,389.5 L91,389.5 L88,389.5 L85,389.5 L81.9,389.5 L78.8,389.5 L75.6,389.5 L72.4,389.5 L69.1,389.5 L65.8,389.5 L62.4,389.5 L59,389.5 L55.5,389.5 L52,389.5 L48.4,389.5 L44.8,389.5 L41.1,389.5 L37.4,389.5 L33.6,389.5Z" class="rb r"/><path d="M33.6,348.8 L37.4,348.8 L41.1,348.8 L44.8,348.8 L48.4,348.8 L52,348.8 L55.5,348.8 L59,348.8 L62.4,348.8 L65.8,348.8 L69.1,348.8 L72.4,348.8 L75.6,348.8 L78.8,348.8 L81.9,348.8 L85,348.8 L88,348.8 L91,348.8 L94,348.8 L96.8,348.8 L99.7,348.8 L102.5,348.8 L105.2,348.8 L107.9,348.8 L110.6,348.8 L113.2,348.8 L115.7,348.8 L118.2,348.8 L120.7,348.8 L123.1,348.8 L125.4,348.8 L127.7,348.8 L130,348.8 L132.2,348.8 L134.4,348.8 L136.5,348.8 L138.6,348.8 L140.7,348.8 L142.7,348.8 L144.6,348.8 L146.5,348.8 L148.4,348.8 L150.2,348.8 L151.9,348.8 L153.7,348.8 L155.3,348.8 L157,348.8 L158.6,348.8 L160.1,348.8 L161.6,348.8 L163.1,348.8 L164.5,348.8 L165.9,348.8 L167.2,348.8 L168.5,348.8 L169.7,348.8 L170.9,348.8 L172.1,348.8 L173.2,348.8 L174.3,348.8 L175.3,348.8 L176.3,348.8 L177.3,348.8 L178.2,348.8 L179.1,348.8 L179.9,348.8 L180.7,348.8 L181.5,348.8 L182.2,348.8 L182.9,348.8 L183.5,348.8 L184.1,348.8 L184.7,348.8 L185.2,348.8 L185.7,348.8 L186.2,348.8 L186.6,348.8 L187,348.8 L187.4,348.8 L187.7,348.8 L188,348.8 L188.2,348.8 L188.4,348.8 L188.6,348.8 L188.8,348.8 L188.9,348.8 L189,348.8 L189.1,348.8 L189.2,348.8 L189.2,348.8 L189.2,348.8" class="ro r"/><path d="M33.6,389.5 L37.4,389.5 L41.1,389.5 L44.8,389.5 L48.4,389.5 L52,389.5 L55.5,389.5 L59,389.5 L62.4,389.5 L65.8,389.5 L69.1,389.5 L72.4,389.5 L75.6,389.5 L78.8,389.5 L81.9,389.5 L85,389.5 L88,389.5 L91,389.5 L94,389.5 L96.8,389.5 L99.7,389.5 L102.5,389.5 L105.2,389.5 L107.9,389.5 L110.6,389.5 L113.2,389.5 L115.7,389.5 L118.2,389.5 L120.7,389.5 L123.1,389.5 L125.4,389.5 L127.7,389.5 L130,389.5 L132.2,389.5 L134.4,389.5 L136.5,389.5 L138.6,389.5 L140.7,389.5 L142.7,389.5 L144.6,389.5 L146.5,389.5 L148.4,389.5 L150.2,389.5 L151.9,389.5 L153.7,389.5 L155.3,389.5 L157,389.5 L158.6,389.5 L160.1,389.5 L161.6,389.5 L163.1,389.5 L164.5,389.5 L165.9,389.5 L167.2,389.5 L168.5,389.5 L169.7,389.5 L170.9,389.5 L172.1,389.5 L173.2,389.5 L174.3,389.5 L175.3,389.5 L176.3,389.5 L177.3,389.5 L178.2,389.5 L179.1,389.5 L179.9,389.5 L180.7,389.5 L181.5,389.5 L182.2,389.5 L182.9,389.5 L183.5,389.5 L184.1,389.5 L184.7,389.5 L185.2,389.5 L185.7,389.5 L186.2,389.5 L186.6,389.5 L187,389.5 L187.4,389.5 L187.7,389.5 L188,389.5 L188.2,389.5 L188.4,389.5 L188.6,389.5 L188.8,389.5 L188.9,389.5 L189,389.5 L189.1,389.5 L189.2,389.5 L189.2,389.5 L189.2,389.5" class="ro r"/><path d="M189.2,362 L189.2,362 L189.2,362 L189.3,362 L189.4,362 L189.5,362 L189.6,362 L189.8,362 L190,362 L190.2,362 L190.4,362 L190.7,362 L191,362 L191.4,362 L191.8,362 L192.2,362 L192.7,362 L193.2,362 L193.7,362 L194.3,362 L194.9,362 L195.5,362 L196.2,362 L196.9,362 L197.7,362 L198.5,362 L199.3,362 L200.2,362 L201.1,362 L202.1,362 L203.1,362 L204.1,362 L205.2,362 L206.3,362 L207.5,362 L208.7,362 L209.9,362 L211.2,362 L212.5,362 L213.9,362 L215.3,362 L216.8,362 L218.3,362 L219.8,362 L221.4,362 L223.1,362 L224.7,362 L226.5,362 L228.2,362 L230,362 L231.9,362 L233.8,362 L235.7,362 L237.7,362 L239.8,362 L241.9,362 L244,362 L246.2,362 L248.4,362 L250.7,362 L253,362 L255.3,362 L257.7,362 L260.2,362 L262.7,362 L265.2,362 L267.8,362 L270.5,362 L273.2,362 L275.9,362 L278.7,362 L281.6,362 L284.4,362 L287.4,362 L290.4,362 L293.4,362 L296.5,362 L299.6,362 L302.8,362 L306,362 L309.3,362 L312.6,362 L316,362 L319.4,362 L322.9,362 L326.4,362 L330,362 L333.6,362 L337.3,362 L341,362 L344.8,362 L344.8,403.5 L341,403.5 L337.3,403.5 L333.6,403.5 L330,403.5 L326.4,403.5 L322.9,403.5 L319.4,403.5 L316,403.5 L312.6,403.5 L309.3,403.5 L306,403.5 L302.8,403.5 L299.6,403.5 L296.5,403.5 L293.4,403.5 L290.4,403.5 L287.4,403.5 L284.4,403.5 L281.6,403.5 L278.7,403.5 L275.9,403.5 L273.2,403.5 L270.5,403.5 L267.8,403.5 L265.2,403.5 L262.7,403.5 L260.2,403.5 L257.7,403.5 L255.3,403.5 L253,403.5 L250.7,403.5 L248.4,403.5 L246.2,403.5 L244,403.5 L241.9,403.5 L239.8,403.5 L237.7,403.5 L235.7,403.5 L233.8,403.5 L231.9,403.5 L230,403.5 L228.2,403.5 L226.5,403.5 L224.7,403.5 L223.1,403.5 L221.4,403.5 L219.8,403.5 L218.3,403.5 L216.8,403.5 L215.3,403.5 L213.9,403.5 L212.5,403.5 L211.2,403.5 L209.9,403.5 L208.7,403.5 L207.5,403.5 L206.3,403.5 L205.2,403.5 L204.1,403.5 L203.1,403.5 L202.1,403.5 L201.1,403.5 L200.2,403.5 L199.3,403.5 L198.5,403.5 L197.7,403.5 L196.9,403.5 L196.2,403.5 L195.5,403.5 L194.9,403.5 L194.3,403.5 L193.7,403.5 L193.2,403.5 L192.7,403.5 L192.2,403.5 L191.8,403.5 L191.4,403.5 L191,403.5 L190.7,403.5 L190.4,403.5 L190.2,403.5 L190,403.5 L189.8,403.5 L189.6,403.5 L189.5,403.5 L189.4,403.5 L189.3,403.5 L189.2,403.5 L189.2,403.5 L189.2,403.5Z" class="rb r"/><path d="M189.2,362 L189.2,362 L189.2,362 L189.3,362 L189.4,362 L189.5,362 L189.6,362 L189.8,362 L190,362 L190.2,362 L190.4,362 L190.7,362 L191,362 L191.4,362 L191.8,362 L192.2,362 L192.7,362 L193.2,362 L193.7,362 L194.3,362 L194.9,362 L195.5,362 L196.2,362 L196.9,362 L197.7,362 L198.5,362 L199.3,362 L200.2,362 L201.1,362 L202.1,362 L203.1,362 L204.1,362 L205.2,362 L206.3,362 L207.5,362 L208.7,362 L209.9,362 L211.2,362 L212.5,362 L213.9,362 L215.3,362 L216.8,362 L218.3,362 L219.8,362 L221.4,362 L223.1,362 L224.7,362 L226.5,362 L228.2,362 L230,362 L231.9,362 L233.8,362 L235.7,362 L237.7,362 L239.8,362 L241.9,362 L244,362 L246.2,362 L248.4,362 L250.7,362 L253,362 L255.3,362 L257.7,362 L260.2,362 L262.7,362 L265.2,362 L267.8,362 L270.5,362 L273.2,362 L275.9,362 L278.7,362 L281.6,362 L284.4,362 L287.4,362 L290.4,362 L293.4,362 L296.5,362 L299.6,362 L302.8,362 L306,362 L309.3,362 L312.6,362 L316,362 L319.4,362 L322.9,362 L326.4,362 L330,362 L333.6,362 L337.3,362 L341,362 L344.8,362" class="ro r"/><path d="M189.2,403.5 L189.2,403.5 L189.2,403.5 L189.3,403.5 L189.4,403.5 L189.5,403.5 L189.6,403.5 L189.8,403.5 L190,403.5 L190.2,403.5 L190.4,403.5 L190.7,403.5 L191,403.5 L191.4,403.5 L191.8,403.5 L192.2,403.5 L192.7,403.5 L193.2,403.5 L193.7,403.5 L194.3,403.5 L194.9,403.5 L195.5,403.5 L196.2,403.5 L196.9,403.5 L197.7,403.5 L198.5,403.5 L199.3,403.5 L200.2,403.5 L201.1,403.5 L202.1,403.5 L203.1,403.5 L204.1,403.5 L205.2,403.5 L206.3,403.5 L207.5,403.5 L208.7,403.5 L209.9,403.5 L211.2,403.5 L212.5,403.5 L213.9,403.5 L215.3,403.5 L216.8,403.5 L218.3,403.5 L219.8,403.5 L221.4,403.5 L223.1,403.5 L224.7,403.5 L226.5,403.5 L228.2,403.5 L230,403.5 L231.9,403.5 L233.8,403.5 L235.7,403.5 L237.7,403.5 L239.8,403.5 L241.9,403.5 L244,403.5 L246.2,403.5 L248.4,403.5 L250.7,403.5 L253,403.5 L255.3,403.5 L257.7,403.5 L260.2,403.5 L262.7,403.5 L265.2,403.5 L267.8,403.5 L270.5,403.5 L273.2,403.5 L275.9,403.5 L278.7,403.5 L281.6,403.5 L284.4,403.5 L287.4,403.5 L290.4,403.5 L293.4,403.5 L296.5,403.5 L299.6,403.5 L302.8,403.5 L306,403.5 L309.3,403.5 L312.6,403.5 L316,403.5 L319.4,403.5 L322.9,403.5 L326.4,403.5 L330,403.5 L333.6,403.5 L337.3,403.5 L341,403.5 L344.8,403.5" class="ro r"/><path d="M33.6,363.3 L37.4,363.3 L41.1,363.3 L44.8,363.3 L48.4,363.3 L52,363.3 L55.5,363.3 L59,363.3 L62.4,363.3 L65.8,363.3 L69.1,363.3 L72.4,363.3 L75.6,363.3 L78.8,363.3 L81.9,363.3 L85,363.3 L88,363.3 L91,363.3 L94,363.3 L96.8,363.3 L99.7,363.3 L102.5,363.3 L105.2,363.3 L107.9,363.3 L110.6,363.3 L113.2,363.3 L115.7,363.3 L118.2,363.3 L120.7,363.3 L123.1,363.3 L125.4,363.3 L127.7,363.3 L130,363.3 L132.2,363.3 L134.4,363.3 L136.5,363.3 L138.6,363.3 L140.7,363.3 L142.7,363.3 L144.6,363.3 L146.5,363.3 L148.4,363.3 L150.2,363.3 L151.9,363.3 L153.7,363.3 L155.3,363.3 L157,363.3 L158.6,363.3 L160.1,363.3 L161.6,363.3 L163.1,363.3 L164.5,363.3 L165.9,363.3 L167.2,363.3 L168.5,363.3 L169.7,363.3 L170.9,363.3 L172.1,363.3 L173.2,363.3 L174.3,363.3 L175.3,363.3 L176.3,363.3 L177.3,363.3 L178.2,363.3 L179.1,363.3 L179.9,363.3 L180.7,363.3 L181.5,363.3 L182.2,363.3 L182.9,363.3 L183.5,363.3 L184.1,363.3 L184.7,363.3 L185.2,363.3 L185.7,363.3 L186.2,363.3 L186.6,363.3 L187,363.3 L187.4,363.3 L187.7,363.3 L188,363.3 L188.2,363.3 L188.4,363.3 L188.6,363.3 L188.8,363.3 L188.9,363.3 L189,363.3 L189.1,363.3 L189.2,363.3 L189.2,363.3 L189.2,363.3 L189.2,382.6 L189.2,382.6 L189.2,382.6 L189.1,382.6 L189,382.6 L188.9,382.6 L188.8,382.6 L188.6,382.6 L188.4,382.6 L188.2,382.6 L188,382.6 L187.7,382.6 L187.4,382.6 L187,382.6 L186.6,382.6 L186.2,382.6 L185.7,382.6 L185.2,382.6 L184.7,382.6 L184.1,382.6 L183.5,382.6 L182.9,382.6 L182.2,382.6 L181.5,382.6 L180.7,382.6 L179.9,382.6 L179.1,382.6 L178.2,382.6 L177.3,382.6 L176.3,382.6 L175.3,382.6 L174.3,382.6 L173.2,382.6 L172.1,382.6 L170.9,382.6 L169.7,382.6 L168.5,382.6 L167.2,382.6 L165.9,382.6 L164.5,382.6 L163.1,382.6 L161.6,382.6 L160.1,382.6 L158.6,382.6 L157,382.6 L155.3,382.6 L153.7,382.6 L151.9,382.6 L150.2,382.6 L148.4,382.6 L146.5,382.6 L144.6,382.6 L142.7,382.6 L140.7,382.6 L138.6,382.6 L136.5,382.6 L134.4,382.6 L132.2,382.6 L130,382.6 L127.7,382.6 L125.4,382.6 L123.1,382.6 L120.7,382.6 L118.2,382.6 L115.7,382.6 L113.2,382.6 L110.6,382.6 L107.9,382.6 L105.2,382.6 L102.5,382.6 L99.7,382.6 L96.8,382.6 L94,382.6 L91,382.6 L88,382.6 L85,382.6 L81.9,382.6 L78.8,382.6 L75.6,382.6 L72.4,382.6 L69.1,382.6 L65.8,382.6 L62.4,382.6 L59,382.6 L55.5,382.6 L52,382.6 L48.4,382.6 L44.8,382.6 L41.1,382.6 L37.4,382.6 L33.6,382.6Z" class="rb b"/><path d="M33.6,363.3 L37.4,363.3 L41.1,363.3 L44.8,363.3 L48.4,363.3 L52,363.3 L55.5,363.3 L59,363.3 L62.4,363.3 L65.8,363.3 L69.1,363.3 L72.4,363.3 L75.6,363.3 L78.8,363.3 L81.9,363.3 L85,363.3 L88,363.3 L91,363.3 L94,363.3 L96.8,363.3 L99.7,363.3 L102.5,363.3 L105.2,363.3 L107.9,363.3 L110.6,363.3 L113.2,363.3 L115.7,363.3 L118.2,363.3 L120.7,363.3 L123.1,363.3 L125.4,363.3 L127.7,363.3 L130,363.3 L132.2,363.3 L134.4,363.3 L136.5,363.3 L138.6,363.3 L140.7,363.3 L142.7,363.3 L144.6,363.3 L146.5,363.3 L148.4,363.3 L150.2,363.3 L151.9,363.3 L153.7,363.3 L155.3,363.3 L157,363.3 L158.6,363.3 L160.1,363.3 L161.6,363.3 L163.1,363.3 L164.5,363.3 L165.9,363.3 L167.2,363.3 L168.5,363.3 L169.7,363.3 L170.9,363.3 L172.1,363.3 L173.2,363.3 L174.3,363.3 L175.3,363.3 L176.3,363.3 L177.3,363.3 L178.2,363.3 L179.1,363.3 L179.9,363.3 L180.7,363.3 L181.5,363.3 L182.2,363.3 L182.9,363.3 L183.5,363.3 L184.1,363.3 L184.7,363.3 L185.2,363.3 L185.7,363.3 L186.2,363.3 L186.6,363.3 L187,363.3 L187.4,363.3 L187.7,363.3 L188,363.3 L188.2,363.3 L188.4,363.3 L188.6,363.3 L188.8,363.3 L188.9,363.3 L189,363.3 L189.1,363.3 L189.2,363.3 L189.2,363.3 L189.2,363.3" class="ro b"/><path d="M33.6,382.6 L37.4,382.6 L41.1,382.6 L44.8,382.6 L48.4,382.6 L52,382.6 L55.5,382.6 L59,382.6 L62.4,382.6 L65.8,382.6 L69.1,382.6 L72.4,382.6 L75.6,382.6 L78.8,382.6 L81.9,382.6 L85,382.6 L88,382.6 L91,382.6 L94,382.6 L96.8,382.6 L99.7,382.6 L102.5,382.6 L105.2,382.6 L107.9,382.6 L110.6,382.6 L113.2,382.6 L115.7,382.6 L118.2,382.6 L120.7,382.6 L123.1,382.6 L125.4,382.6 L127.7,382.6 L130,382.6 L132.2,382.6 L134.4,382.6 L136.5,382.6 L138.6,382.6 L140.7,382.6 L142.7,382.6 L144.6,382.6 L146.5,382.6 L148.4,382.6 L150.2,382.6 L151.9,382.6 L153.7,382.6 L155.3,382.6 L157,382.6 L158.6,382.6 L160.1,382.6 L161.6,382.6 L163.1,382.6 L164.5,382.6 L165.9,382.6 L167.2,382.6 L168.5,382.6 L169.7,382.6 L170.9,382.6 L172.1,382.6 L173.2,382.6 L174.3,382.6 L175.3,382.6 L176.3,382.6 L177.3,382.6 L178.2,382.6 L179.1,382.6 L179.9,382.6 L180.7,382.6 L181.5,382.6 L182.2,382.6 L182.9,382.6 L183.5,382.6 L184.1,382.6 L184.7,382.6 L185.2,382.6 L185.7,382.6 L186.2,382.6 L186.6,382.6 L187,382.6 L187.4,382.6 L187.7,382.6 L188,382.6 L188.2,382.6 L188.4,382.6 L188.6,382.6 L188.8,382.6 L188.9,382.6 L189,382.6 L189.1,382.6 L189.2,382.6 L189.2,382.6 L189.2,382.6" class="ro b"/><path d="M189.2,352.2 L189.2,352.2 L189.2,352.2 L189.3,352.1 L189.4,352 L189.5,351.9 L189.6,351.7 L189.8,351.6 L190,351.4 L190.2,351.2 L190.4,351 L190.7,350.7 L191,350.5 L191.4,350.4 L191.8,350.2 L192.2,350 L192.7,349.9 L193.2,349.7 L193.7,349.6 L194.3,349.5 L194.9,349.5 L195.5,349.4 L196.2,349.4 L196.9,349.3 L197.7,349.3 L198.5,349.3 L199.3,349.3 L200.2,349.3 L201.1,349.3 L202.1,349.2 L203.1,349.2 L204.1,349.2 L205.2,349.2 L206.3,349.2 L207.5,349.2 L208.7,349.2 L209.9,349.2 L211.2,349.2 L212.5,349.2 L213.9,349.2 L215.3,349.2 L216.8,349.2 L218.3,349.2 L219.8,349.2 L221.4,349.2 L223.1,349.2 L224.7,349.2 L226.5,349.2 L228.2,349.2 L230,349.2 L231.9,349.2 L233.8,349.2 L235.7,349.2 L237.7,349.2 L239.8,349.2 L241.9,349.2 L244,349.2 L246.2,349.2 L248.4,349.2 L250.7,349.2 L253,349.2 L255.3,349.2 L257.7,349.2 L260.2,349.2 L262.7,349.2 L265.2,349.2 L267.8,349.2 L270.5,349.2 L273.2,349.2 L275.9,349.2 L278.7,349.2 L281.6,349.2 L284.4,349.2 L287.4,349.2 L290.4,349.2 L293.4,349.2 L296.5,349.2 L299.6,349.2 L302.8,349.2 L306,349.2 L309.3,349.2 L312.6,349.2 L316,349.2 L319.4,349.2 L322.9,349.2 L326.4,349.2 L330,349.2 L333.6,349.2 L337.3,349.2 L341,349.2 L344.8,349.2 L344.8,386.6 L341,387 L337.3,387.4 L333.6,387.9 L330,388.4 L326.4,388.9 L322.9,389.4 L319.4,390 L316,390.6 L312.6,391.1 L309.3,391.8 L306,392.4 L302.8,393 L299.6,393.7 L296.5,394.4 L293.4,395.1 L290.4,395.9 L287.4,396.6 L284.4,397.4 L281.6,398.2 L278.7,399 L275.9,399.9 L273.2,400.7 L270.5,401.6 L267.8,402.5 L265.2,403.4 L262.7,404.4 L260.2,405.3 L257.7,406.3 L255.3,407.3 L253,408.3 L250.7,409.3 L248.4,410.3 L246.2,411.4 L244,412.4 L241.9,413.5 L239.8,414.6 L237.7,415.7 L235.7,416.8 L233.8,417.9 L231.9,419 L230,420.1 L228.2,421.2 L226.5,422.3 L224.7,423.4 L223.1,424.6 L221.4,425.7 L219.8,426.8 L218.3,427.9 L216.8,429 L215.3,430.1 L213.9,431.2 L212.5,432.2 L211.2,433.3 L209.9,434.3 L208.7,435.4 L207.5,436.4 L206.3,437.4 L205.2,438.3 L204.1,439.3 L203.1,440.2 L202.1,441.1 L201.1,442 L200.2,442.9 L199.3,443.7 L198.5,444.5 L197.7,445.3 L196.9,446 L196.2,446.7 L195.5,447.4 L194.9,448.1 L194.3,448.7 L193.7,449.3 L193.2,449.9 L192.7,450.4 L192.2,450.9 L191.8,451.3 L191.4,451.7 L191,452.1 L190.7,452.5 L190.4,452.8 L190.2,453.1 L190,453.3 L189.8,453.5 L189.6,453.7 L189.5,453.8 L189.4,454 L189.3,454 L189.2,454.1 L189.2,454.1 L189.2,454.1Z" class="rb b"/><path d="M189.2,352.2 L189.2,352.2 L189.2,352.2 L189.3,352.1 L189.4,352 L189.5,351.9 L189.6,351.7 L189.8,351.6 L190,351.4 L190.2,351.2 L190.4,351 L190.7,350.7 L191,350.5 L191.4,350.4 L191.8,350.2 L192.2,350 L192.7,349.9 L193.2,349.7 L193.7,349.6 L194.3,349.5 L194.9,349.5 L195.5,349.4 L196.2,349.4 L196.9,349.3 L197.7,349.3 L198.5,349.3 L199.3,349.3 L200.2,349.3 L201.1,349.3 L202.1,349.2 L203.1,349.2 L204.1,349.2 L205.2,349.2 L206.3,349.2 L207.5,349.2 L208.7,349.2 L209.9,349.2 L211.2,349.2 L212.5,349.2 L213.9,349.2 L215.3,349.2 L216.8,349.2 L218.3,349.2 L219.8,349.2 L221.4,349.2 L223.1,349.2 L224.7,349.2 L226.5,349.2 L228.2,349.2 L230,349.2 L231.9,349.2 L233.8,349.2 L235.7,349.2 L237.7,349.2 L239.8,349.2 L241.9,349.2 L244,349.2 L246.2,349.2 L248.4,349.2 L250.7,349.2 L253,349.2 L255.3,349.2 L257.7,349.2 L260.2,349.2 L262.7,349.2 L265.2,349.2 L267.8,349.2 L270.5,349.2 L273.2,349.2 L275.9,349.2 L278.7,349.2 L281.6,349.2 L284.4,349.2 L287.4,349.2 L290.4,349.2 L293.4,349.2 L296.5,349.2 L299.6,349.2 L302.8,349.2 L306,349.2 L309.3,349.2 L312.6,349.2 L316,349.2 L319.4,349.2 L322.9,349.2 L326.4,349.2 L330,349.2 L333.6,349.2 L337.3,349.2 L341,349.2 L344.8,349.2" class="ro b"/><path d="M189.2,454.1 L189.2,454.1 L189.2,454.1 L189.3,454 L189.4,454 L189.5,453.8 L189.6,453.7 L189.8,453.5 L190,453.3 L190.2,453.1 L190.4,452.8 L190.7,452.5 L191,452.1 L191.4,451.7 L191.8,451.3 L192.2,450.9 L192.7,450.4 L193.2,449.9 L193.7,449.3 L194.3,448.7 L194.9,448.1 L195.5,447.4 L196.2,446.7 L196.9,446 L197.7,445.3 L198.5,444.5 L199.3,443.7 L200.2,442.9 L201.1,442 L202.1,441.1 L203.1,440.2 L204.1,439.3 L205.2,438.3 L206.3,437.4 L207.5,436.4 L208.7,435.4 L209.9,434.3 L211.2,433.3 L212.5,432.2 L213.9,431.2 L215.3,430.1 L216.8,429 L218.3,427.9 L219.8,426.8 L221.4,425.7 L223.1,424.6 L224.7,423.4 L226.5,422.3 L228.2,421.2 L230,420.1 L231.9,419 L233.8,417.9 L235.7,416.8 L237.7,415.7 L239.8,414.6 L241.9,413.5 L244,412.4 L246.2,411.4 L248.4,410.3 L250.7,409.3 L253,408.3 L255.3,407.3 L257.7,406.3 L260.2,405.3 L262.7,404.4 L265.2,403.4 L267.8,402.5 L270.5,401.6 L273.2,400.7 L275.9,399.9 L278.7,399 L281.6,398.2 L284.4,397.4 L287.4,396.6 L290.4,395.9 L293.4,395.1 L296.5,394.4 L299.6,393.7 L302.8,393 L306,392.4 L309.3,391.8 L312.6,391.1 L316,390.6 L319.4,390 L322.9,389.4 L326.4,388.9 L330,388.4 L333.6,387.9 L337.3,387.4 L341,387 L344.8,386.6" class="ro b"/><path d="M33.6,369 L37.4,369 L41.1,369 L44.8,369 L48.4,369 L52,369 L55.5,369 L59,369 L62.4,369 L65.8,369 L69.1,369 L72.4,369 L75.6,369 L78.8,369 L81.9,369 L85,369 L88,369 L91,369 L94,369 L96.8,369 L99.7,369 L102.5,369 L105.2,369 L107.9,369 L110.6,369 L113.2,369 L115.7,369 L118.2,369 L120.7,369 L123.1,369 L125.4,369 L127.7,369 L130,369 L132.2,369 L134.4,369 L136.5,369 L138.6,369 L140.7,369 L142.7,369 L144.6,369 L146.5,369 L148.4,369 L150.2,369 L151.9,369 L153.7,369 L155.3,369 L157,369 L158.6,369 L160.1,369 L161.6,369 L163.1,369 L164.5,369 L165.9,369 L167.2,369 L168.5,369 L169.7,369 L170.9,369 L172.1,369 L173.2,369 L174.3,369 L175.3,369 L176.3,369 L177.3,369 L178.2,369 L179.1,369 L179.9,369 L180.7,369 L181.5,369 L182.2,369 L182.9,369 L183.5,369 L184.1,369 L184.7,369 L185.2,369 L185.7,369 L186.2,369 L186.6,369 L187,369 L187.4,369 L187.7,369 L188,369 L188.2,369 L188.4,369 L188.6,369 L188.8,369 L188.9,369 L189,369 L189.1,369 L189.2,369 L189.2,369 L189.2,369" class="ml r"/><path d="M189.2,382 L189.2,382 L189.2,382 L189.3,382 L189.4,382 L189.5,382 L189.6,382 L189.8,382 L190,382 L190.2,382 L190.4,382 L190.7,382 L191,382 L191.4,382 L191.8,382 L192.2,382 L192.7,382 L193.2,382 L193.7,382 L194.3,382 L194.9,382 L195.5,382 L196.2,382 L196.9,382 L197.7,382 L198.5,382 L199.3,382 L200.2,382 L201.1,382 L202.1,382 L203.1,382 L204.1,382 L205.2,382 L206.3,382 L207.5,382 L208.7,382 L209.9,382 L211.2,382 L212.5,382 L213.9,382 L215.3,382 L216.8,382 L218.3,382 L219.8,382 L221.4,382 L223.1,382 L224.7,382 L226.5,382 L228.2,382 L230,382 L231.9,382 L233.8,382 L235.7,382 L237.7,382 L239.8,382 L241.9,382 L244,382 L246.2,382 L248.4,382 L250.7,382 L253,382 L255.3,382 L257.7,382 L260.2,382 L262.7,382 L265.2,382 L267.8,382 L270.5,382 L273.2,382 L275.9,382 L278.7,382 L281.6,382 L284.4,382 L287.4,382 L290.4,382 L293.4,382 L296.5,382 L299.6,382 L302.8,382 L306,382 L309.3,382 L312.6,382 L316,382 L319.4,382 L322.9,382 L326.4,382 L330,382 L333.6,382 L337.3,382 L341,382 L344.8,382" class="ml r"/><path d="M33.6,373.5 L37.4,373.5 L41.1,373.5 L44.8,373.5 L48.4,373.5 L52,373.5 L55.5,373.5 L59,373.5 L62.4,373.5 L65.8,373.5 L69.1,373.5 L72.4,373.5 L75.6,373.5 L78.8,373.5 L81.9,373.5 L85,373.5 L88,373.5 L91,373.5 L94,373.5 L96.8,373.5 L99.7,373.5 L102.5,373.5 L105.2,373.5 L107.9,373.5 L110.6,373.5 L113.2,373.5 L115.7,373.5 L118.2,373.5 L120.7,373.5 L123.1,373.5 L125.4,373.5 L127.7,373.5 L130,373.5 L132.2,373.5 L134.4,373.5 L136.5,373.5 L138.6,373.5 L140.7,373.5 L142.7,373.5 L144.6,373.5 L146.5,373.5 L148.4,373.5 L150.2,373.5 L151.9,373.5 L153.7,373.5 L155.3,373.5 L157,373.5 L158.6,373.5 L160.1,373.5 L161.6,373.5 L163.1,373.5 L164.5,373.5 L165.9,373.5 L167.2,373.5 L168.5,373.5 L169.7,373.5 L170.9,373.5 L172.1,373.5 L173.2,373.5 L174.3,373.5 L175.3,373.5 L176.3,373.5 L177.3,373.5 L178.2,373.5 L179.1,373.5 L179.9,373.5 L180.7,373.5 L181.5,373.5 L182.2,373.5 L182.9,373.5 L183.5,373.5 L184.1,373.5 L184.7,373.5 L185.2,373.5 L185.7,373.5 L186.2,373.5 L186.6,373.5 L187,373.5 L187.4,373.5 L187.7,373.5 L188,373.5 L188.2,373.5 L188.4,373.5 L188.6,373.5 L188.8,373.5 L188.9,373.5 L189,373.5 L189.1,373.5 L189.2,373.5 L189.2,373.5 L189.2,373.5" class="ml b"/><path d="M189.2,401.2 L189.2,401.1 L189.2,401 L189.3,400.9 L189.4,400.7 L189.5,400.3 L189.6,399.9 L189.8,399.5 L190,398.9 L190.2,398.2 L190.4,397.5 L190.7,396.7 L191,395.9 L191.4,395 L191.8,394 L192.2,393 L192.7,391.9 L193.2,390.8 L193.7,389.7 L194.3,388.5 L194.9,387.3 L195.5,386.2 L196.2,385 L196.9,383.8 L197.7,382.7 L198.5,381.6 L199.3,380.5 L200.2,379.4 L201.1,378.4 L202.1,377.4 L203.1,376.5 L204.1,375.6 L205.2,374.7 L206.3,373.9 L207.5,373.2 L208.7,372.5 L209.9,371.8 L211.2,371.2 L212.5,370.7 L213.9,370.2 L215.3,369.7 L216.8,369.3 L218.3,368.9 L219.8,368.6 L221.4,368.3 L223.1,368 L224.7,367.8 L226.5,367.5 L228.2,367.4 L230,367.2 L231.9,367.1 L233.8,366.9 L235.7,366.8 L237.7,366.7 L239.8,366.7 L241.9,366.6 L244,366.5 L246.2,366.5 L248.4,366.4 L250.7,366.4 L253,366.4 L255.3,366.4 L257.7,366.3 L260.2,366.3 L262.7,366.3 L265.2,366.3 L267.8,366.3 L270.5,366.3 L273.2,366.3 L275.9,366.3 L278.7,366.3 L281.6,366.3 L284.4,366.3 L287.4,366.3 L290.4,366.3 L293.4,366.3 L296.5,366.3 L299.6,366.3 L302.8,366.3 L306,366.3 L309.3,366.3 L312.6,366.3 L316,366.3 L319.4,366.3 L322.9,366.3 L326.4,366.3 L330,366.3 L333.6,366.3 L337.3,366.3 L341,366.3 L344.8,366.3" class="ml b"/></g>
<rect x="33.5" y="260.5" width="311.50" height="233.20" class="bd"/>
<line x1="30.10" y1="483.3" x2="33.5" y2="483.3" class="tk"/>
<text x="27.50" y="487.70" class="tl" text-anchor="end">0</text>
<line x1="30.10" y1="440.7" x2="33.5" y2="440.7" class="tk"/>
<text x="27.50" y="445.14" class="tl" text-anchor="end">2</text>
<line x1="30.10" y1="398.2" x2="33.5" y2="398.2" class="tk"/>
<text x="27.50" y="402.58" class="tl" text-anchor="end">4</text>
<line x1="30.10" y1="355.6" x2="33.5" y2="355.6" class="tk"/>
<text x="27.50" y="360.02" class="tl" text-anchor="end">6</text>
<line x1="30.10" y1="313.1" x2="33.5" y2="313.1" class="tk"/>
<text x="27.50" y="317.46" class="tl" text-anchor="end">8</text>
<line x1="30.10" y1="270.5" x2="33.5" y2="270.5" class="tk"/>
<text x="27.50" y="274.90" class="tl" text-anchor="end">10</text>
<line x1="60.3" y1="493.7" x2="60.3" y2="497.10" class="tk"/>
<text x="60.34" y="508.20" class="tl" text-anchor="middle">-20</text>
<line x1="124.8" y1="493.7" x2="124.8" y2="497.10" class="tk"/>
<text x="124.77" y="508.20" class="tl" text-anchor="middle">-10</text>
<line x1="189.2" y1="493.7" x2="189.2" y2="497.10" class="tk"/>
<text x="189.20" y="508.20" class="tl" text-anchor="middle">0</text>
<line x1="253.6" y1="493.7" x2="253.6" y2="497.10" class="tk"/>
<text x="253.63" y="508.20" class="tl" text-anchor="middle">10</text>
<line x1="318.1" y1="493.7" x2="318.1" y2="497.10" class="tk"/>
<text x="318.06" y="508.20" class="tl" text-anchor="middle">20</text>
<rect x="46.90" y="272.30" width="35.92" height="14.3" rx="1.5" fill="#fff"/>
<text x="50.10" y="283.90" class="pl">Mood</text>
<g clip-path="url(#cp11)"><rect x="373.0" y="260.5" width="311.50" height="233.20" fill="#fff"/><line x1="431.9" y1="260.5" x2="431.9" y2="493.7" class="gm"/><line x1="496.4" y1="260.5" x2="496.4" y2="493.7" class="gm"/><line x1="560.8" y1="260.5" x2="560.8" y2="493.7" class="gm"/><line x1="625.2" y1="260.5" x2="625.2" y2="493.7" class="gm"/><line x1="373.0" y1="462" x2="684.5" y2="462" class="gm"/><line x1="373.0" y1="419.5" x2="684.5" y2="419.5" class="gm"/><line x1="373.0" y1="376.9" x2="684.5" y2="376.9" class="gm"/><line x1="373.0" y1="334.3" x2="684.5" y2="334.3" class="gm"/><line x1="373.0" y1="291.8" x2="684.5" y2="291.8" class="gm"/><line x1="399.7" y1="260.5" x2="399.7" y2="493.7" class="gM"/><line x1="464.1" y1="260.5" x2="464.1" y2="493.7" class="gM"/><line x1="528.6" y1="260.5" x2="528.6" y2="493.7" class="gM"/><line x1="593" y1="260.5" x2="593" y2="493.7" class="gM"/><line x1="657.4" y1="260.5" x2="657.4" y2="493.7" class="gM"/><line x1="373.0" y1="483.3" x2="684.5" y2="483.3" class="gM"/><line x1="373.0" y1="440.7" x2="684.5" y2="440.7" class="gM"/><line x1="373.0" y1="398.2" x2="684.5" y2="398.2" class="gM"/><line x1="373.0" y1="355.6" x2="684.5" y2="355.6" class="gM"/><line x1="373.0" y1="313.1" x2="684.5" y2="313.1" class="gM"/><line x1="373.0" y1="270.5" x2="684.5" y2="270.5" class="gM"/><line x1="528.92" y1="260.5" x2="528.92" y2="493.7" class="v0"/><path d="M373,344.3 L376.7,344.3 L380.5,344.3 L384.2,344.3 L387.8,344.3 L391.4,344.3 L394.9,344.3 L398.4,344.3 L401.8,344.3 L405.2,344.3 L408.5,344.3 L411.8,344.3 L415,344.3 L418.2,344.3 L421.3,344.3 L424.4,344.3 L427.4,344.3 L430.4,344.3 L433.3,344.3 L436.2,344.3 L439.1,344.3 L441.8,344.3 L444.6,344.3 L447.3,344.3 L449.9,344.3 L452.5,344.3 L455.1,344.3 L457.6,344.3 L460,344.3 L462.4,344.3 L464.8,344.3 L467.1,344.3 L469.4,344.3 L471.6,344.3 L473.8,344.3 L475.9,344.3 L478,344.3 L480,344.3 L482,344.3 L484,344.3 L485.9,344.3 L487.7,344.3 L489.5,344.3 L491.3,344.3 L493,344.3 L494.7,344.3 L496.3,344.3 L497.9,344.3 L499.5,344.3 L501,344.3 L502.4,344.3 L503.9,344.3 L505.2,344.3 L506.6,344.3 L507.8,344.3 L509.1,344.3 L510.3,344.3 L511.5,344.3 L512.6,344.3 L513.7,344.3 L514.7,344.3 L515.7,344.3 L516.6,344.3 L517.6,344.3 L518.4,344.3 L519.3,344.3 L520.1,344.3 L520.8,344.3 L521.6,344.3 L522.2,344.3 L522.9,344.3 L523.5,344.3 L524.1,344.3 L524.6,344.3 L525.1,344.3 L525.5,344.3 L526,344.3 L526.4,344.3 L526.7,344.3 L527,344.3 L527.3,344.3 L527.6,344.3 L527.8,344.3 L528,344.3 L528.2,344.3 L528.3,344.3 L528.4,344.3 L528.5,344.3 L528.5,344.3 L528.6,344.3 L528.6,344.3 L528.6,434.6 L528.6,434.6 L528.5,434.6 L528.5,434.6 L528.4,434.6 L528.3,434.6 L528.2,434.6 L528,434.6 L527.8,434.6 L527.6,434.6 L527.3,434.6 L527,434.6 L526.7,434.6 L526.4,434.6 L526,434.6 L525.5,434.6 L525.1,434.6 L524.6,434.6 L524.1,434.6 L523.5,434.6 L522.9,434.6 L522.2,434.6 L521.6,434.6 L520.8,434.6 L520.1,434.6 L519.3,434.6 L518.4,434.6 L517.6,434.6 L516.6,434.6 L515.7,434.6 L514.7,434.6 L513.7,434.6 L512.6,434.6 L511.5,434.6 L510.3,434.6 L509.1,434.6 L507.8,434.6 L506.6,434.6 L505.2,434.6 L503.9,434.6 L502.4,434.6 L501,434.6 L499.5,434.6 L497.9,434.6 L496.3,434.6 L494.7,434.6 L493,434.6 L491.3,434.6 L489.5,434.6 L487.7,434.6 L485.9,434.6 L484,434.6 L482,434.6 L480,434.6 L478,434.6 L475.9,434.6 L473.8,434.6 L471.6,434.6 L469.4,434.6 L467.1,434.6 L464.8,434.6 L462.4,434.6 L460,434.6 L457.6,434.6 L455.1,434.6 L452.5,434.6 L449.9,434.6 L447.3,434.6 L444.6,434.6 L441.8,434.6 L439.1,434.6 L436.2,434.6 L433.3,434.6 L430.4,434.6 L427.4,434.6 L424.4,434.6 L421.3,434.6 L418.2,434.6 L415,434.6 L411.8,434.6 L408.5,434.6 L405.2,434.6 L401.8,434.6 L398.4,434.6 L394.9,434.6 L391.4,434.6 L387.8,434.6 L384.2,434.6 L380.5,434.6 L376.7,434.6 L373,434.6Z" class="rb r"/><path d="M373,344.3 L376.7,344.3 L380.5,344.3 L384.2,344.3 L387.8,344.3 L391.4,344.3 L394.9,344.3 L398.4,344.3 L401.8,344.3 L405.2,344.3 L408.5,344.3 L411.8,344.3 L415,344.3 L418.2,344.3 L421.3,344.3 L424.4,344.3 L427.4,344.3 L430.4,344.3 L433.3,344.3 L436.2,344.3 L439.1,344.3 L441.8,344.3 L444.6,344.3 L447.3,344.3 L449.9,344.3 L452.5,344.3 L455.1,344.3 L457.6,344.3 L460,344.3 L462.4,344.3 L464.8,344.3 L467.1,344.3 L469.4,344.3 L471.6,344.3 L473.8,344.3 L475.9,344.3 L478,344.3 L480,344.3 L482,344.3 L484,344.3 L485.9,344.3 L487.7,344.3 L489.5,344.3 L491.3,344.3 L493,344.3 L494.7,344.3 L496.3,344.3 L497.9,344.3 L499.5,344.3 L501,344.3 L502.4,344.3 L503.9,344.3 L505.2,344.3 L506.6,344.3 L507.8,344.3 L509.1,344.3 L510.3,344.3 L511.5,344.3 L512.6,344.3 L513.7,344.3 L514.7,344.3 L515.7,344.3 L516.6,344.3 L517.6,344.3 L518.4,344.3 L519.3,344.3 L520.1,344.3 L520.8,344.3 L521.6,344.3 L522.2,344.3 L522.9,344.3 L523.5,344.3 L524.1,344.3 L524.6,344.3 L525.1,344.3 L525.5,344.3 L526,344.3 L526.4,344.3 L526.7,344.3 L527,344.3 L527.3,344.3 L527.6,344.3 L527.8,344.3 L528,344.3 L528.2,344.3 L528.3,344.3 L528.4,344.3 L528.5,344.3 L528.5,344.3 L528.6,344.3 L528.6,344.3" class="ro r"/><path d="M373,434.6 L376.7,434.6 L380.5,434.6 L384.2,434.6 L387.8,434.6 L391.4,434.6 L394.9,434.6 L398.4,434.6 L401.8,434.6 L405.2,434.6 L408.5,434.6 L411.8,434.6 L415,434.6 L418.2,434.6 L421.3,434.6 L424.4,434.6 L427.4,434.6 L430.4,434.6 L433.3,434.6 L436.2,434.6 L439.1,434.6 L441.8,434.6 L444.6,434.6 L447.3,434.6 L449.9,434.6 L452.5,434.6 L455.1,434.6 L457.6,434.6 L460,434.6 L462.4,434.6 L464.8,434.6 L467.1,434.6 L469.4,434.6 L471.6,434.6 L473.8,434.6 L475.9,434.6 L478,434.6 L480,434.6 L482,434.6 L484,434.6 L485.9,434.6 L487.7,434.6 L489.5,434.6 L491.3,434.6 L493,434.6 L494.7,434.6 L496.3,434.6 L497.9,434.6 L499.5,434.6 L501,434.6 L502.4,434.6 L503.9,434.6 L505.2,434.6 L506.6,434.6 L507.8,434.6 L509.1,434.6 L510.3,434.6 L511.5,434.6 L512.6,434.6 L513.7,434.6 L514.7,434.6 L515.7,434.6 L516.6,434.6 L517.6,434.6 L518.4,434.6 L519.3,434.6 L520.1,434.6 L520.8,434.6 L521.6,434.6 L522.2,434.6 L522.9,434.6 L523.5,434.6 L524.1,434.6 L524.6,434.6 L525.1,434.6 L525.5,434.6 L526,434.6 L526.4,434.6 L526.7,434.6 L527,434.6 L527.3,434.6 L527.6,434.6 L527.8,434.6 L528,434.6 L528.2,434.6 L528.3,434.6 L528.4,434.6 L528.5,434.6 L528.5,434.6 L528.6,434.6 L528.6,434.6" class="ro r"/><path d="M528.6,340.3 L528.6,340.3 L528.6,340.3 L528.7,340.3 L528.7,340.3 L528.8,340.3 L529,340.3 L529.1,340.3 L529.3,340.3 L529.6,340.3 L529.8,340.3 L530.1,340.3 L530.4,340.3 L530.8,340.3 L531.2,340.3 L531.6,340.3 L532.1,340.3 L532.5,340.3 L533.1,340.3 L533.7,340.3 L534.3,340.3 L534.9,340.3 L535.6,340.3 L536.3,340.3 L537.1,340.3 L537.9,340.3 L538.7,340.3 L539.6,340.3 L540.5,340.3 L541.5,340.3 L542.4,340.3 L543.5,340.3 L544.6,340.3 L545.7,340.3 L546.8,340.3 L548.1,340.3 L549.3,340.3 L550.6,340.3 L551.9,340.3 L553.3,340.3 L554.7,340.3 L556.2,340.3 L557.7,340.3 L559.2,340.3 L560.8,340.3 L562.4,340.3 L564.1,340.3 L565.8,340.3 L567.6,340.3 L569.4,340.3 L571.3,340.3 L573.2,340.3 L575.1,340.3 L577.1,340.3 L579.1,340.3 L581.2,340.3 L583.4,340.3 L585.5,340.3 L587.8,340.3 L590,340.3 L592.3,340.3 L594.7,340.3 L597.1,340.3 L599.6,340.3 L602.1,340.3 L604.6,340.3 L607.2,340.3 L609.9,340.3 L612.6,340.3 L615.3,340.3 L618.1,340.3 L620.9,340.3 L623.8,340.3 L626.7,340.3 L629.7,340.3 L632.8,340.3 L635.8,340.3 L639,340.3 L642.1,340.3 L645.4,340.3 L648.6,340.3 L652,340.3 L655.4,340.3 L658.8,340.3 L662.3,340.3 L665.8,340.3 L669.4,340.3 L673,340.3 L676.7,340.3 L680.4,340.3 L684.2,340.3 L684.2,431.2 L680.4,431.2 L676.7,431.2 L673,431.2 L669.4,431.2 L665.8,431.2 L662.3,431.2 L658.8,431.2 L655.4,431.2 L652,431.2 L648.6,431.2 L645.4,431.2 L642.1,431.2 L639,431.2 L635.8,431.2 L632.8,431.2 L629.7,431.2 L626.7,431.2 L623.8,431.2 L620.9,431.2 L618.1,431.2 L615.3,431.2 L612.6,431.2 L609.9,431.2 L607.2,431.2 L604.6,431.2 L602.1,431.2 L599.6,431.2 L597.1,431.2 L594.7,431.2 L592.3,431.2 L590,431.2 L587.8,431.2 L585.5,431.2 L583.4,431.2 L581.2,431.2 L579.1,431.2 L577.1,431.2 L575.1,431.2 L573.2,431.2 L571.3,431.2 L569.4,431.2 L567.6,431.2 L565.8,431.2 L564.1,431.2 L562.4,431.2 L560.8,431.2 L559.2,431.2 L557.7,431.2 L556.2,431.2 L554.7,431.2 L553.3,431.2 L551.9,431.2 L550.6,431.2 L549.3,431.2 L548.1,431.2 L546.8,431.2 L545.7,431.2 L544.6,431.2 L543.5,431.2 L542.4,431.2 L541.5,431.2 L540.5,431.2 L539.6,431.2 L538.7,431.2 L537.9,431.2 L537.1,431.2 L536.3,431.2 L535.6,431.2 L534.9,431.2 L534.3,431.2 L533.7,431.2 L533.1,431.2 L532.5,431.2 L532.1,431.2 L531.6,431.2 L531.2,431.2 L530.8,431.2 L530.4,431.2 L530.1,431.2 L529.8,431.2 L529.6,431.2 L529.3,431.2 L529.1,431.2 L529,431.2 L528.8,431.2 L528.7,431.2 L528.7,431.2 L528.6,431.2 L528.6,431.2 L528.6,431.2Z" class="rb r"/><path d="M528.6,340.3 L528.6,340.3 L528.6,340.3 L528.7,340.3 L528.7,340.3 L528.8,340.3 L529,340.3 L529.1,340.3 L529.3,340.3 L529.6,340.3 L529.8,340.3 L530.1,340.3 L530.4,340.3 L530.8,340.3 L531.2,340.3 L531.6,340.3 L532.1,340.3 L532.5,340.3 L533.1,340.3 L533.7,340.3 L534.3,340.3 L534.9,340.3 L535.6,340.3 L536.3,340.3 L537.1,340.3 L537.9,340.3 L538.7,340.3 L539.6,340.3 L540.5,340.3 L541.5,340.3 L542.4,340.3 L543.5,340.3 L544.6,340.3 L545.7,340.3 L546.8,340.3 L548.1,340.3 L549.3,340.3 L550.6,340.3 L551.9,340.3 L553.3,340.3 L554.7,340.3 L556.2,340.3 L557.7,340.3 L559.2,340.3 L560.8,340.3 L562.4,340.3 L564.1,340.3 L565.8,340.3 L567.6,340.3 L569.4,340.3 L571.3,340.3 L573.2,340.3 L575.1,340.3 L577.1,340.3 L579.1,340.3 L581.2,340.3 L583.4,340.3 L585.5,340.3 L587.8,340.3 L590,340.3 L592.3,340.3 L594.7,340.3 L597.1,340.3 L599.6,340.3 L602.1,340.3 L604.6,340.3 L607.2,340.3 L609.9,340.3 L612.6,340.3 L615.3,340.3 L618.1,340.3 L620.9,340.3 L623.8,340.3 L626.7,340.3 L629.7,340.3 L632.8,340.3 L635.8,340.3 L639,340.3 L642.1,340.3 L645.4,340.3 L648.6,340.3 L652,340.3 L655.4,340.3 L658.8,340.3 L662.3,340.3 L665.8,340.3 L669.4,340.3 L673,340.3 L676.7,340.3 L680.4,340.3 L684.2,340.3" class="ro r"/><path d="M528.6,431.2 L528.6,431.2 L528.6,431.2 L528.7,431.2 L528.7,431.2 L528.8,431.2 L529,431.2 L529.1,431.2 L529.3,431.2 L529.6,431.2 L529.8,431.2 L530.1,431.2 L530.4,431.2 L530.8,431.2 L531.2,431.2 L531.6,431.2 L532.1,431.2 L532.5,431.2 L533.1,431.2 L533.7,431.2 L534.3,431.2 L534.9,431.2 L535.6,431.2 L536.3,431.2 L537.1,431.2 L537.9,431.2 L538.7,431.2 L539.6,431.2 L540.5,431.2 L541.5,431.2 L542.4,431.2 L543.5,431.2 L544.6,431.2 L545.7,431.2 L546.8,431.2 L548.1,431.2 L549.3,431.2 L550.6,431.2 L551.9,431.2 L553.3,431.2 L554.7,431.2 L556.2,431.2 L557.7,431.2 L559.2,431.2 L560.8,431.2 L562.4,431.2 L564.1,431.2 L565.8,431.2 L567.6,431.2 L569.4,431.2 L571.3,431.2 L573.2,431.2 L575.1,431.2 L577.1,431.2 L579.1,431.2 L581.2,431.2 L583.4,431.2 L585.5,431.2 L587.8,431.2 L590,431.2 L592.3,431.2 L594.7,431.2 L597.1,431.2 L599.6,431.2 L602.1,431.2 L604.6,431.2 L607.2,431.2 L609.9,431.2 L612.6,431.2 L615.3,431.2 L618.1,431.2 L620.9,431.2 L623.8,431.2 L626.7,431.2 L629.7,431.2 L632.8,431.2 L635.8,431.2 L639,431.2 L642.1,431.2 L645.4,431.2 L648.6,431.2 L652,431.2 L655.4,431.2 L658.8,431.2 L662.3,431.2 L665.8,431.2 L669.4,431.2 L673,431.2 L676.7,431.2 L680.4,431.2 L684.2,431.2" class="ro r"/><path d="M373,372 L376.7,372 L380.5,372 L384.2,372 L387.8,372 L391.4,372 L394.9,372 L398.4,372 L401.8,372 L405.2,372 L408.5,372 L411.8,372 L415,372 L418.2,372 L421.3,372 L424.4,372 L427.4,372 L430.4,372 L433.3,372 L436.2,372 L439.1,372 L441.8,372 L444.6,372 L447.3,372 L449.9,372 L452.5,372 L455.1,372 L457.6,372 L460,372 L462.4,372 L464.8,372 L467.1,372 L469.4,372 L471.6,372 L473.8,372 L475.9,372 L478,372 L480,372 L482,372 L484,372 L485.9,372 L487.7,372 L489.5,371.9 L491.3,371.9 L493,371.9 L494.7,371.8 L496.3,371.8 L497.9,371.7 L499.5,371.6 L501,371.4 L502.4,371.3 L503.9,371 L505.2,370.8 L506.6,370.4 L507.8,370 L509.1,369.5 L510.3,368.9 L511.5,368.1 L512.6,367.2 L513.7,366.2 L514.7,365 L515.7,363.6 L516.6,361.9 L517.6,360.1 L518.4,358 L519.3,355.7 L520.1,353.2 L520.8,350.4 L521.6,347.4 L522.2,344.1 L522.9,340.6 L523.5,336.9 L524.1,333.1 L524.6,329.1 L525.1,325 L525.5,320.9 L526,316.8 L526.4,312.7 L526.7,308.7 L527,304.9 L527.3,301.2 L527.6,297.8 L527.8,294.7 L528,292 L528.2,289.6 L528.3,287.5 L528.4,285.9 L528.5,284.7 L528.5,283.8 L528.6,283.4 L528.6,283.3 L528.6,453.9 L528.6,453.9 L528.5,453.6 L528.5,453.1 L528.4,452.5 L528.3,451.7 L528.2,450.9 L528,450.1 L527.8,449.3 L527.6,448.6 L527.3,448 L527,447.5 L526.7,447.2 L526.4,446.9 L526,446.7 L525.5,446.6 L525.1,446.6 L524.6,446.5 L524.1,446.5 L523.5,446.5 L522.9,446.5 L522.2,446.5 L521.6,446.5 L520.8,446.5 L520.1,446.5 L519.3,446.5 L518.4,446.5 L517.6,446.5 L516.6,446.5 L515.7,446.5 L514.7,446.5 L513.7,446.5 L512.6,446.5 L511.5,446.5 L510.3,446.5 L509.1,446.5 L507.8,446.5 L506.6,446.5 L505.2,446.5 L503.9,446.5 L502.4,446.5 L501,446.5 L499.5,446.5 L497.9,446.5 L496.3,446.5 L494.7,446.5 L493,446.5 L491.3,446.5 L489.5,446.5 L487.7,446.5 L485.9,446.5 L484,446.5 L482,446.5 L480,446.5 L478,446.5 L475.9,446.5 L473.8,446.5 L471.6,446.5 L469.4,446.5 L467.1,446.5 L464.8,446.5 L462.4,446.5 L460,446.5 L457.6,446.5 L455.1,446.5 L452.5,446.5 L449.9,446.5 L447.3,446.5 L444.6,446.5 L441.8,446.5 L439.1,446.5 L436.2,446.5 L433.3,446.5 L430.4,446.5 L427.4,446.5 L424.4,446.5 L421.3,446.5 L418.2,446.5 L415,446.5 L411.8,446.5 L408.5,446.5 L405.2,446.5 L401.8,446.5 L398.4,446.5 L394.9,446.5 L391.4,446.5 L387.8,446.5 L384.2,446.5 L380.5,446.5 L376.7,446.5 L373,446.5Z" class="rb b"/><path d="M373,372 L376.7,372 L380.5,372 L384.2,372 L387.8,372 L391.4,372 L394.9,372 L398.4,372 L401.8,372 L405.2,372 L408.5,372 L411.8,372 L415,372 L418.2,372 L421.3,372 L424.4,372 L427.4,372 L430.4,372 L433.3,372 L436.2,372 L439.1,372 L441.8,372 L444.6,372 L447.3,372 L449.9,372 L452.5,372 L455.1,372 L457.6,372 L460,372 L462.4,372 L464.8,372 L467.1,372 L469.4,372 L471.6,372 L473.8,372 L475.9,372 L478,372 L480,372 L482,372 L484,372 L485.9,372 L487.7,372 L489.5,371.9 L491.3,371.9 L493,371.9 L494.7,371.8 L496.3,371.8 L497.9,371.7 L499.5,371.6 L501,371.4 L502.4,371.3 L503.9,371 L505.2,370.8 L506.6,370.4 L507.8,370 L509.1,369.5 L510.3,368.9 L511.5,368.1 L512.6,367.2 L513.7,366.2 L514.7,365 L515.7,363.6 L516.6,361.9 L517.6,360.1 L518.4,358 L519.3,355.7 L520.1,353.2 L520.8,350.4 L521.6,347.4 L522.2,344.1 L522.9,340.6 L523.5,336.9 L524.1,333.1 L524.6,329.1 L525.1,325 L525.5,320.9 L526,316.8 L526.4,312.7 L526.7,308.7 L527,304.9 L527.3,301.2 L527.6,297.8 L527.8,294.7 L528,292 L528.2,289.6 L528.3,287.5 L528.4,285.9 L528.5,284.7 L528.5,283.8 L528.6,283.4 L528.6,283.3" class="ro b"/><path d="M373,446.5 L376.7,446.5 L380.5,446.5 L384.2,446.5 L387.8,446.5 L391.4,446.5 L394.9,446.5 L398.4,446.5 L401.8,446.5 L405.2,446.5 L408.5,446.5 L411.8,446.5 L415,446.5 L418.2,446.5 L421.3,446.5 L424.4,446.5 L427.4,446.5 L430.4,446.5 L433.3,446.5 L436.2,446.5 L439.1,446.5 L441.8,446.5 L444.6,446.5 L447.3,446.5 L449.9,446.5 L452.5,446.5 L455.1,446.5 L457.6,446.5 L460,446.5 L462.4,446.5 L464.8,446.5 L467.1,446.5 L469.4,446.5 L471.6,446.5 L473.8,446.5 L475.9,446.5 L478,446.5 L480,446.5 L482,446.5 L484,446.5 L485.9,446.5 L487.7,446.5 L489.5,446.5 L491.3,446.5 L493,446.5 L494.7,446.5 L496.3,446.5 L497.9,446.5 L499.5,446.5 L501,446.5 L502.4,446.5 L503.9,446.5 L505.2,446.5 L506.6,446.5 L507.8,446.5 L509.1,446.5 L510.3,446.5 L511.5,446.5 L512.6,446.5 L513.7,446.5 L514.7,446.5 L515.7,446.5 L516.6,446.5 L517.6,446.5 L518.4,446.5 L519.3,446.5 L520.1,446.5 L520.8,446.5 L521.6,446.5 L522.2,446.5 L522.9,446.5 L523.5,446.5 L524.1,446.5 L524.6,446.5 L525.1,446.6 L525.5,446.6 L526,446.7 L526.4,446.9 L526.7,447.2 L527,447.5 L527.3,448 L527.6,448.6 L527.8,449.3 L528,450.1 L528.2,450.9 L528.3,451.7 L528.4,452.5 L528.5,453.1 L528.5,453.6 L528.6,453.9 L528.6,453.9" class="ro b"/><path d="M528.6,295.4 L528.6,295.4 L528.6,295.4 L528.7,295.4 L528.7,295.5 L528.8,295.5 L529,295.6 L529.1,295.7 L529.3,295.8 L529.6,295.9 L529.8,296 L530.1,296.2 L530.4,296.3 L530.8,296.5 L531.2,296.7 L531.6,296.9 L532.1,297.2 L532.5,297.4 L533.1,297.7 L533.7,298 L534.3,298.3 L534.9,298.6 L535.6,298.9 L536.3,299.3 L537.1,299.7 L537.9,300.1 L538.7,300.5 L539.6,300.9 L540.5,301.3 L541.5,301.8 L542.4,302.2 L543.5,302.7 L544.6,303.2 L545.7,303.7 L546.8,304.3 L548.1,304.8 L549.3,305.4 L550.6,306 L551.9,306.5 L553.3,307.1 L554.7,307.8 L556.2,308.4 L557.7,309 L559.2,309.7 L560.8,310.3 L562.4,311 L564.1,311.7 L565.8,312.4 L567.6,313.1 L569.4,313.8 L571.3,314.5 L573.2,315.2 L575.1,315.9 L577.1,316.7 L579.1,317.4 L581.2,318.2 L583.4,318.9 L585.5,319.7 L587.8,320.5 L590,321.2 L592.3,322 L594.7,322.8 L597.1,323.5 L599.6,324.3 L602.1,325.1 L604.6,325.9 L607.2,326.7 L609.9,327.4 L612.6,328.2 L615.3,329 L618.1,329.8 L620.9,330.5 L623.8,331.3 L626.7,332.1 L629.7,332.8 L632.8,333.6 L635.8,334.4 L639,335.1 L642.1,335.9 L645.4,336.6 L648.6,337.3 L652,338.1 L655.4,338.8 L658.8,339.5 L662.3,340.2 L665.8,340.9 L669.4,341.6 L673,342.3 L676.7,343 L680.4,343.7 L684.2,344.3 L684.2,448.6 L680.4,448.6 L676.7,448.6 L673,448.6 L669.4,448.6 L665.8,448.6 L662.3,448.6 L658.8,448.6 L655.4,448.6 L652,448.6 L648.6,448.6 L645.4,448.6 L642.1,448.6 L639,448.6 L635.8,448.6 L632.8,448.6 L629.7,448.6 L626.7,448.6 L623.8,448.6 L620.9,448.6 L618.1,448.6 L615.3,448.6 L612.6,448.6 L609.9,448.6 L607.2,448.6 L604.6,448.6 L602.1,448.6 L599.6,448.6 L597.1,448.6 L594.7,448.6 L592.3,448.6 L590,448.6 L587.8,448.6 L585.5,448.6 L583.4,448.6 L581.2,448.6 L579.1,448.6 L577.1,448.6 L575.1,448.6 L573.2,448.6 L571.3,448.6 L569.4,448.6 L567.6,448.6 L565.8,448.6 L564.1,448.6 L562.4,448.6 L560.8,448.6 L559.2,448.6 L557.7,448.6 L556.2,448.6 L554.7,448.6 L553.3,448.6 L551.9,448.6 L550.6,448.6 L549.3,448.6 L548.1,448.6 L546.8,448.6 L545.7,448.6 L544.6,448.6 L543.5,448.6 L542.4,448.6 L541.5,448.6 L540.5,448.6 L539.6,448.6 L538.7,448.6 L537.9,448.6 L537.1,448.6 L536.3,448.6 L535.6,448.6 L534.9,448.6 L534.3,448.6 L533.7,448.6 L533.1,448.6 L532.5,448.5 L532.1,448.4 L531.6,448.3 L531.2,448.2 L530.8,448 L530.4,447.7 L530.1,447.3 L529.8,446.8 L529.6,446.3 L529.3,445.7 L529.1,445.1 L529,444.4 L528.8,443.8 L528.7,443.2 L528.7,442.8 L528.6,442.5 L528.6,442.3 L528.6,442.2Z" class="rb b"/><path d="M528.6,295.4 L528.6,295.4 L528.6,295.4 L528.7,295.4 L528.7,295.5 L528.8,295.5 L529,295.6 L529.1,295.7 L529.3,295.8 L529.6,295.9 L529.8,296 L530.1,296.2 L530.4,296.3 L530.8,296.5 L531.2,296.7 L531.6,296.9 L532.1,297.2 L532.5,297.4 L533.1,297.7 L533.7,298 L534.3,298.3 L534.9,298.6 L535.6,298.9 L536.3,299.3 L537.1,299.7 L537.9,300.1 L538.7,300.5 L539.6,300.9 L540.5,301.3 L541.5,301.8 L542.4,302.2 L543.5,302.7 L544.6,303.2 L545.7,303.7 L546.8,304.3 L548.1,304.8 L549.3,305.4 L550.6,306 L551.9,306.5 L553.3,307.1 L554.7,307.8 L556.2,308.4 L557.7,309 L559.2,309.7 L560.8,310.3 L562.4,311 L564.1,311.7 L565.8,312.4 L567.6,313.1 L569.4,313.8 L571.3,314.5 L573.2,315.2 L575.1,315.9 L577.1,316.7 L579.1,317.4 L581.2,318.2 L583.4,318.9 L585.5,319.7 L587.8,320.5 L590,321.2 L592.3,322 L594.7,322.8 L597.1,323.5 L599.6,324.3 L602.1,325.1 L604.6,325.9 L607.2,326.7 L609.9,327.4 L612.6,328.2 L615.3,329 L618.1,329.8 L620.9,330.5 L623.8,331.3 L626.7,332.1 L629.7,332.8 L632.8,333.6 L635.8,334.4 L639,335.1 L642.1,335.9 L645.4,336.6 L648.6,337.3 L652,338.1 L655.4,338.8 L658.8,339.5 L662.3,340.2 L665.8,340.9 L669.4,341.6 L673,342.3 L676.7,343 L680.4,343.7 L684.2,344.3" class="ro b"/><path d="M528.6,442.2 L528.6,442.3 L528.6,442.5 L528.7,442.8 L528.7,443.2 L528.8,443.8 L529,444.4 L529.1,445.1 L529.3,445.7 L529.6,446.3 L529.8,446.8 L530.1,447.3 L530.4,447.7 L530.8,448 L531.2,448.2 L531.6,448.3 L532.1,448.4 L532.5,448.5 L533.1,448.6 L533.7,448.6 L534.3,448.6 L534.9,448.6 L535.6,448.6 L536.3,448.6 L537.1,448.6 L537.9,448.6 L538.7,448.6 L539.6,448.6 L540.5,448.6 L541.5,448.6 L542.4,448.6 L543.5,448.6 L544.6,448.6 L545.7,448.6 L546.8,448.6 L548.1,448.6 L549.3,448.6 L550.6,448.6 L551.9,448.6 L553.3,448.6 L554.7,448.6 L556.2,448.6 L557.7,448.6 L559.2,448.6 L560.8,448.6 L562.4,448.6 L564.1,448.6 L565.8,448.6 L567.6,448.6 L569.4,448.6 L571.3,448.6 L573.2,448.6 L575.1,448.6 L577.1,448.6 L579.1,448.6 L581.2,448.6 L583.4,448.6 L585.5,448.6 L587.8,448.6 L590,448.6 L592.3,448.6 L594.7,448.6 L597.1,448.6 L599.6,448.6 L602.1,448.6 L604.6,448.6 L607.2,448.6 L609.9,448.6 L612.6,448.6 L615.3,448.6 L618.1,448.6 L620.9,448.6 L623.8,448.6 L626.7,448.6 L629.7,448.6 L632.8,448.6 L635.8,448.6 L639,448.6 L642.1,448.6 L645.4,448.6 L648.6,448.6 L652,448.6 L655.4,448.6 L658.8,448.6 L662.3,448.6 L665.8,448.6 L669.4,448.6 L673,448.6 L676.7,448.6 L680.4,448.6 L684.2,448.6" class="ro b"/><path d="M373,388.4 L376.7,388.4 L380.5,388.4 L384.2,388.4 L387.8,388.4 L391.4,388.4 L394.9,388.4 L398.4,388.4 L401.8,388.4 L405.2,388.4 L408.5,388.4 L411.8,388.4 L415,388.4 L418.2,388.4 L421.3,388.4 L424.4,388.4 L427.4,388.4 L430.4,388.4 L433.3,388.4 L436.2,388.4 L439.1,388.4 L441.8,388.4 L444.6,388.4 L447.3,388.4 L449.9,388.4 L452.5,388.4 L455.1,388.4 L457.6,388.4 L460,388.4 L462.4,388.4 L464.8,388.4 L467.1,388.4 L469.4,388.4 L471.6,388.4 L473.8,388.4 L475.9,388.4 L478,388.4 L480,388.4 L482,388.4 L484,388.4 L485.9,388.4 L487.7,388.4 L489.5,388.4 L491.3,388.4 L493,388.4 L494.7,388.4 L496.3,388.4 L497.9,388.4 L499.5,388.4 L501,388.4 L502.4,388.4 L503.9,388.4 L505.2,388.4 L506.6,388.4 L507.8,388.4 L509.1,388.4 L510.3,388.4 L511.5,388.4 L512.6,388.4 L513.7,388.4 L514.7,388.4 L515.7,388.4 L516.6,388.4 L517.6,388.4 L518.4,388.4 L519.3,388.4 L520.1,388.4 L520.8,388.4 L521.6,388.4 L522.2,388.4 L522.9,388.4 L523.5,388.4 L524.1,388.4 L524.6,388.4 L525.1,388.4 L525.5,388.4 L526,388.4 L526.4,388.4 L526.7,388.4 L527,388.4 L527.3,388.4 L527.6,388.4 L527.8,388.4 L528,388.4 L528.2,388.4 L528.3,388.4 L528.4,388.4 L528.5,388.4 L528.5,388.4 L528.6,388.4 L528.6,388.4" class="ml r"/><path d="M528.6,385 L528.6,385 L528.6,385 L528.7,385 L528.7,385 L528.8,385 L529,385 L529.1,385 L529.3,385 L529.6,385 L529.8,385 L530.1,385 L530.4,385 L530.8,385 L531.2,385 L531.6,385 L532.1,385 L532.5,385 L533.1,385 L533.7,385 L534.3,385 L534.9,385 L535.6,385 L536.3,385 L537.1,385 L537.9,385 L538.7,385 L539.6,385 L540.5,385 L541.5,385 L542.4,385 L543.5,385 L544.6,385 L545.7,385 L546.8,385 L548.1,385 L549.3,385 L550.6,385 L551.9,385 L553.3,385 L554.7,385 L556.2,385 L557.7,385 L559.2,385 L560.8,385 L562.4,385 L564.1,385 L565.8,385 L567.6,385 L569.4,385 L571.3,385 L573.2,385 L575.1,385 L577.1,385 L579.1,385 L581.2,385 L583.4,385 L585.5,385 L587.8,385 L590,385 L592.3,385 L594.7,385 L597.1,385 L599.6,385 L602.1,385 L604.6,385 L607.2,385 L609.9,385 L612.6,385 L615.3,385 L618.1,385 L620.9,385 L623.8,385 L626.7,385 L629.7,385 L632.8,385 L635.8,385 L639,385 L642.1,385 L645.4,385 L648.6,385 L652,385 L655.4,385 L658.8,385 L662.3,385 L665.8,385 L669.4,385 L673,385 L676.7,385 L680.4,385 L684.2,385" class="ml r"/><path d="M373,408.8 L376.7,408.8 L380.5,408.8 L384.2,408.8 L387.8,408.8 L391.4,408.8 L394.9,408.8 L398.4,408.8 L401.8,408.8 L405.2,408.8 L408.5,408.8 L411.8,408.8 L415,408.8 L418.2,408.8 L421.3,408.8 L424.4,408.8 L427.4,408.8 L430.4,408.8 L433.3,408.8 L436.2,408.8 L439.1,408.8 L441.8,408.8 L444.6,408.8 L447.3,408.8 L449.9,408.8 L452.5,408.8 L455.1,408.8 L457.6,408.8 L460,408.8 L462.4,408.8 L464.8,408.8 L467.1,408.8 L469.4,408.8 L471.6,408.8 L473.8,408.8 L475.9,408.8 L478,408.8 L480,408.8 L482,408.8 L484,408.8 L485.9,408.8 L487.7,408.8 L489.5,408.8 L491.3,408.8 L493,408.8 L494.7,408.8 L496.3,408.8 L497.9,408.8 L499.5,408.8 L501,408.8 L502.4,408.8 L503.9,408.8 L505.2,408.8 L506.6,408.8 L507.8,408.8 L509.1,408.8 L510.3,408.8 L511.5,408.8 L512.6,408.8 L513.7,408.8 L514.7,408.8 L515.7,408.8 L516.6,408.8 L517.6,408.8 L518.4,408.8 L519.3,408.8 L520.1,408.8 L520.8,408.8 L521.6,408.8 L522.2,408.7 L522.9,408.6 L523.5,408.4 L524.1,408.2 L524.6,407.8 L525.1,407.1 L525.5,406.3 L526,405.1 L526.4,403.4 L526.7,401.4 L527,398.8 L527.3,395.8 L527.6,392.4 L527.8,388.7 L528,384.8 L528.2,381 L528.3,377.4 L528.4,374.2 L528.5,371.7 L528.5,369.9 L528.6,368.9 L528.6,368.6" class="ml b"/><path d="M528.6,368.6 L528.6,368.7 L528.6,368.9 L528.7,369.3 L528.7,369.9 L528.8,370.7 L529,371.8 L529.1,373 L529.3,374.3 L529.6,375.9 L529.8,377.5 L530.1,379.3 L530.4,381.2 L530.8,383.1 L531.2,385 L531.6,387 L532.1,388.9 L532.5,390.8 L533.1,392.6 L533.7,394.4 L534.3,396 L534.9,397.5 L535.6,398.9 L536.3,400.2 L537.1,401.4 L537.9,402.4 L538.7,403.3 L539.6,404.1 L540.5,404.8 L541.5,405.4 L542.4,405.9 L543.5,406.4 L544.6,406.7 L545.7,407 L546.8,407.3 L548.1,407.5 L549.3,407.6 L550.6,407.8 L551.9,407.9 L553.3,407.9 L554.7,408 L556.2,408.1 L557.7,408.1 L559.2,408.1 L560.8,408.1 L562.4,408.1 L564.1,408.2 L565.8,408.2 L567.6,408.2 L569.4,408.2 L571.3,408.2 L573.2,408.2 L575.1,408.2 L577.1,408.2 L579.1,408.2 L581.2,408.2 L583.4,408.2 L585.5,408.2 L587.8,408.2 L590,408.2 L592.3,408.2 L594.7,408.2 L597.1,408.2 L599.6,408.2 L602.1,408.2 L604.6,408.2 L607.2,408.2 L609.9,408.2 L612.6,408.2 L615.3,408.2 L618.1,408.2 L620.9,408.2 L623.8,408.2 L626.7,408.2 L629.7,408.2 L632.8,408.2 L635.8,408.2 L639,408.2 L642.1,408.2 L645.4,408.2 L648.6,408.2 L652,408.2 L655.4,408.2 L658.8,408.2 L662.3,408.2 L665.8,408.2 L669.4,408.2 L673,408.2 L676.7,408.2 L680.4,408.2 L684.2,408.2" class="ml b"/></g>
<rect x="373.0" y="260.5" width="311.50" height="233.20" class="bd"/>
<line x1="369.60" y1="483.3" x2="373.0" y2="483.3" class="tk"/>
<text x="367.00" y="487.70" class="tl" text-anchor="end">0</text>
<line x1="369.60" y1="440.7" x2="373.0" y2="440.7" class="tk"/>
<text x="367.00" y="445.14" class="tl" text-anchor="end">2</text>
<line x1="369.60" y1="398.2" x2="373.0" y2="398.2" class="tk"/>
<text x="367.00" y="402.58" class="tl" text-anchor="end">4</text>
<line x1="369.60" y1="355.6" x2="373.0" y2="355.6" class="tk"/>
<text x="367.00" y="360.02" class="tl" text-anchor="end">6</text>
<line x1="369.60" y1="313.1" x2="373.0" y2="313.1" class="tk"/>
<text x="367.00" y="317.46" class="tl" text-anchor="end">8</text>
<line x1="369.60" y1="270.5" x2="373.0" y2="270.5" class="tk"/>
<text x="367.00" y="274.90" class="tl" text-anchor="end">10</text>
<line x1="399.7" y1="493.7" x2="399.7" y2="497.10" class="tk"/>
<text x="399.71" y="508.20" class="tl" text-anchor="middle">-20</text>
<line x1="464.1" y1="493.7" x2="464.1" y2="497.10" class="tk"/>
<text x="464.14" y="508.20" class="tl" text-anchor="middle">-10</text>
<line x1="528.6" y1="493.7" x2="528.6" y2="497.10" class="tk"/>
<text x="528.57" y="508.20" class="tl" text-anchor="middle">0</text>
<line x1="593" y1="493.7" x2="593" y2="497.10" class="tk"/>
<text x="593.00" y="508.20" class="tl" text-anchor="middle">10</text>
<line x1="657.4" y1="493.7" x2="657.4" y2="497.10" class="tk"/>
<text x="657.43" y="508.20" class="tl" text-anchor="middle">20</text>
<rect x="386.40" y="272.30" width="62.82" height="14.3" rx="1.5" fill="#fff"/>
<text x="389.60" y="283.90" class="pl">Loneliness</text>
<g clip-path="url(#cp02)"><rect x="33.5" y="520.0" width="311.50" height="233.50" fill="#fff"/><line x1="92.6" y1="520.0" x2="92.6" y2="753.5" class="gm"/><line x1="157" y1="520.0" x2="157" y2="753.5" class="gm"/><line x1="221.4" y1="520.0" x2="221.4" y2="753.5" class="gm"/><line x1="285.8" y1="520.0" x2="285.8" y2="753.5" class="gm"/><line x1="33.5" y1="721.8" x2="345.0" y2="721.8" class="gm"/><line x1="33.5" y1="679.3" x2="345.0" y2="679.3" class="gm"/><line x1="33.5" y1="636.7" x2="345.0" y2="636.7" class="gm"/><line x1="33.5" y1="594.1" x2="345.0" y2="594.1" class="gm"/><line x1="33.5" y1="551.6" x2="345.0" y2="551.6" class="gm"/><line x1="60.3" y1="520.0" x2="60.3" y2="753.5" class="gM"/><line x1="124.8" y1="520.0" x2="124.8" y2="753.5" class="gM"/><line x1="189.2" y1="520.0" x2="189.2" y2="753.5" class="gM"/><line x1="253.6" y1="520.0" x2="253.6" y2="753.5" class="gM"/><line x1="318.1" y1="520.0" x2="318.1" y2="753.5" class="gM"/><line x1="33.5" y1="743.1" x2="345.0" y2="743.1" class="gM"/><line x1="33.5" y1="700.5" x2="345.0" y2="700.5" class="gM"/><line x1="33.5" y1="658" x2="345.0" y2="658" class="gM"/><line x1="33.5" y1="615.4" x2="345.0" y2="615.4" class="gM"/><line x1="33.5" y1="572.9" x2="345.0" y2="572.9" class="gM"/><line x1="33.5" y1="530.3" x2="345.0" y2="530.3" class="gM"/><line x1="189.20" y1="520.0" x2="189.20" y2="753.5" class="v0"/><path d="M33.6,593.1 L37.4,593.1 L41.1,593.1 L44.8,593.1 L48.4,593.1 L52,593.1 L55.5,593.1 L59,593.1 L62.4,593.1 L65.8,593.1 L69.1,593.1 L72.4,593.1 L75.6,593.1 L78.8,593.1 L81.9,593.1 L85,593.1 L88,593.1 L91,593.1 L94,593.1 L96.8,593.1 L99.7,593.1 L102.5,593.1 L105.2,593.1 L107.9,593.1 L110.6,593.1 L113.2,593.1 L115.7,593.1 L118.2,593.1 L120.7,593.1 L123.1,593.1 L125.4,593.1 L127.7,593.1 L130,593.1 L132.2,593.1 L134.4,593.1 L136.5,593.1 L138.6,593.1 L140.7,593.1 L142.7,593.1 L144.6,593.1 L146.5,593.1 L148.4,593.1 L150.2,593.1 L151.9,593.1 L153.7,593.1 L155.3,593.1 L157,593.1 L158.6,593.1 L160.1,593.1 L161.6,593.1 L163.1,593.1 L164.5,593.1 L165.9,593.1 L167.2,593.1 L168.5,593.1 L169.7,593.1 L170.9,593.1 L172.1,593.1 L173.2,593.1 L174.3,593.1 L175.3,593.1 L176.3,593.1 L177.3,593.1 L178.2,593.1 L179.1,593.1 L179.9,593.1 L180.7,593.1 L181.5,593.1 L182.2,593.1 L182.9,593.1 L183.5,593.1 L184.1,593.1 L184.7,593.1 L185.2,593.1 L185.7,593.1 L186.2,593.1 L186.6,593.1 L187,593.1 L187.4,593.1 L187.7,593.1 L188,593.1 L188.2,593.1 L188.4,593.1 L188.6,593.1 L188.8,593.1 L188.9,593.1 L189,593.1 L189.1,593.1 L189.2,593.1 L189.2,593.1 L189.2,593.1 L189.2,702 L189.2,702 L189.2,702 L189.1,702 L189,702 L188.9,702 L188.8,702 L188.6,702 L188.4,702 L188.2,702 L188,702 L187.7,702 L187.4,702 L187,702 L186.6,702 L186.2,702 L185.7,702 L185.2,702 L184.7,702 L184.1,702 L183.5,702 L182.9,702 L182.2,702 L181.5,702 L180.7,702 L179.9,702 L179.1,702 L178.2,702 L177.3,702 L176.3,702 L175.3,702 L174.3,702 L173.2,702 L172.1,702 L170.9,702 L169.7,702 L168.5,702 L167.2,702 L165.9,702 L164.5,702 L163.1,702 L161.6,702 L160.1,702 L158.6,702 L157,702 L155.3,702 L153.7,702 L151.9,702 L150.2,702 L148.4,702 L146.5,702 L144.6,702 L142.7,702 L140.7,702 L138.6,702 L136.5,702 L134.4,702 L132.2,702 L130,702 L127.7,702 L125.4,702 L123.1,702 L120.7,702 L118.2,702 L115.7,702 L113.2,702 L110.6,702 L107.9,702 L105.2,702 L102.5,702 L99.7,702 L96.8,702 L94,702 L91,702 L88,702 L85,702 L81.9,702 L78.8,702 L75.6,702 L72.4,702 L69.1,702 L65.8,702 L62.4,702 L59,702 L55.5,702 L52,702 L48.4,702 L44.8,702 L41.1,702 L37.4,702 L33.6,702Z" class="rb r"/><path d="M33.6,593.1 L37.4,593.1 L41.1,593.1 L44.8,593.1 L48.4,593.1 L52,593.1 L55.5,593.1 L59,593.1 L62.4,593.1 L65.8,593.1 L69.1,593.1 L72.4,593.1 L75.6,593.1 L78.8,593.1 L81.9,593.1 L85,593.1 L88,593.1 L91,593.1 L94,593.1 L96.8,593.1 L99.7,593.1 L102.5,593.1 L105.2,593.1 L107.9,593.1 L110.6,593.1 L113.2,593.1 L115.7,593.1 L118.2,593.1 L120.7,593.1 L123.1,593.1 L125.4,593.1 L127.7,593.1 L130,593.1 L132.2,593.1 L134.4,593.1 L136.5,593.1 L138.6,593.1 L140.7,593.1 L142.7,593.1 L144.6,593.1 L146.5,593.1 L148.4,593.1 L150.2,593.1 L151.9,593.1 L153.7,593.1 L155.3,593.1 L157,593.1 L158.6,593.1 L160.1,593.1 L161.6,593.1 L163.1,593.1 L164.5,593.1 L165.9,593.1 L167.2,593.1 L168.5,593.1 L169.7,593.1 L170.9,593.1 L172.1,593.1 L173.2,593.1 L174.3,593.1 L175.3,593.1 L176.3,593.1 L177.3,593.1 L178.2,593.1 L179.1,593.1 L179.9,593.1 L180.7,593.1 L181.5,593.1 L182.2,593.1 L182.9,593.1 L183.5,593.1 L184.1,593.1 L184.7,593.1 L185.2,593.1 L185.7,593.1 L186.2,593.1 L186.6,593.1 L187,593.1 L187.4,593.1 L187.7,593.1 L188,593.1 L188.2,593.1 L188.4,593.1 L188.6,593.1 L188.8,593.1 L188.9,593.1 L189,593.1 L189.1,593.1 L189.2,593.1 L189.2,593.1 L189.2,593.1" class="ro r"/><path d="M33.6,702 L37.4,702 L41.1,702 L44.8,702 L48.4,702 L52,702 L55.5,702 L59,702 L62.4,702 L65.8,702 L69.1,702 L72.4,702 L75.6,702 L78.8,702 L81.9,702 L85,702 L88,702 L91,702 L94,702 L96.8,702 L99.7,702 L102.5,702 L105.2,702 L107.9,702 L110.6,702 L113.2,702 L115.7,702 L118.2,702 L120.7,702 L123.1,702 L125.4,702 L127.7,702 L130,702 L132.2,702 L134.4,702 L136.5,702 L138.6,702 L140.7,702 L142.7,702 L144.6,702 L146.5,702 L148.4,702 L150.2,702 L151.9,702 L153.7,702 L155.3,702 L157,702 L158.6,702 L160.1,702 L161.6,702 L163.1,702 L164.5,702 L165.9,702 L167.2,702 L168.5,702 L169.7,702 L170.9,702 L172.1,702 L173.2,702 L174.3,702 L175.3,702 L176.3,702 L177.3,702 L178.2,702 L179.1,702 L179.9,702 L180.7,702 L181.5,702 L182.2,702 L182.9,702 L183.5,702 L184.1,702 L184.7,702 L185.2,702 L185.7,702 L186.2,702 L186.6,702 L187,702 L187.4,702 L187.7,702 L188,702 L188.2,702 L188.4,702 L188.6,702 L188.8,702 L188.9,702 L189,702 L189.1,702 L189.2,702 L189.2,702 L189.2,702" class="ro r"/><path d="M189.2,602.7 L189.2,602.7 L189.2,602.7 L189.3,602.7 L189.4,602.7 L189.5,602.7 L189.6,602.7 L189.8,602.7 L190,602.7 L190.2,602.7 L190.4,602.7 L190.7,602.7 L191,602.7 L191.4,602.7 L191.8,602.7 L192.2,602.7 L192.7,602.7 L193.2,602.7 L193.7,602.7 L194.3,602.7 L194.9,602.7 L195.5,602.7 L196.2,602.7 L196.9,602.7 L197.7,602.7 L198.5,602.7 L199.3,602.7 L200.2,602.7 L201.1,602.7 L202.1,602.7 L203.1,602.7 L204.1,602.7 L205.2,602.7 L206.3,602.7 L207.5,602.7 L208.7,602.7 L209.9,602.7 L211.2,602.7 L212.5,602.7 L213.9,602.7 L215.3,602.7 L216.8,602.7 L218.3,602.7 L219.8,602.7 L221.4,602.7 L223.1,602.7 L224.7,602.7 L226.5,602.7 L228.2,602.7 L230,602.7 L231.9,602.7 L233.8,602.7 L235.7,602.7 L237.7,602.7 L239.8,602.7 L241.9,602.7 L244,602.7 L246.2,602.7 L248.4,602.7 L250.7,602.7 L253,602.7 L255.3,602.7 L257.7,602.7 L260.2,602.7 L262.7,602.7 L265.2,602.7 L267.8,602.7 L270.5,602.7 L273.2,602.7 L275.9,602.7 L278.7,602.7 L281.6,602.7 L284.4,602.7 L287.4,602.7 L290.4,602.7 L293.4,602.7 L296.5,602.7 L299.6,602.7 L302.8,602.7 L306,602.7 L309.3,602.7 L312.6,602.7 L316,602.7 L319.4,602.7 L322.9,602.7 L326.4,602.7 L330,602.7 L333.6,602.7 L337.3,602.7 L341,602.7 L344.8,602.7 L344.8,701.6 L341,701.6 L337.3,701.6 L333.6,701.6 L330,701.6 L326.4,701.6 L322.9,701.6 L319.4,701.6 L316,701.6 L312.6,701.6 L309.3,701.6 L306,701.6 L302.8,701.6 L299.6,701.6 L296.5,701.6 L293.4,701.6 L290.4,701.6 L287.4,701.6 L284.4,701.6 L281.6,701.6 L278.7,701.6 L275.9,701.6 L273.2,701.6 L270.5,701.6 L267.8,701.6 L265.2,701.6 L262.7,701.6 L260.2,701.6 L257.7,701.6 L255.3,701.6 L253,701.6 L250.7,701.6 L248.4,701.6 L246.2,701.6 L244,701.6 L241.9,701.6 L239.8,701.6 L237.7,701.6 L235.7,701.6 L233.8,701.6 L231.9,701.6 L230,701.6 L228.2,701.6 L226.5,701.6 L224.7,701.6 L223.1,701.6 L221.4,701.6 L219.8,701.6 L218.3,701.6 L216.8,701.6 L215.3,701.6 L213.9,701.6 L212.5,701.6 L211.2,701.6 L209.9,701.6 L208.7,701.6 L207.5,701.6 L206.3,701.6 L205.2,701.6 L204.1,701.6 L203.1,701.6 L202.1,701.6 L201.1,701.6 L200.2,701.6 L199.3,701.6 L198.5,701.6 L197.7,701.6 L196.9,701.6 L196.2,701.6 L195.5,701.6 L194.9,701.6 L194.3,701.6 L193.7,701.6 L193.2,701.6 L192.7,701.6 L192.2,701.6 L191.8,701.6 L191.4,701.6 L191,701.6 L190.7,701.6 L190.4,701.6 L190.2,701.6 L190,701.6 L189.8,701.6 L189.6,701.6 L189.5,701.6 L189.4,701.6 L189.3,701.6 L189.2,701.6 L189.2,701.6 L189.2,701.6Z" class="rb r"/><path d="M189.2,602.7 L189.2,602.7 L189.2,602.7 L189.3,602.7 L189.4,602.7 L189.5,602.7 L189.6,602.7 L189.8,602.7 L190,602.7 L190.2,602.7 L190.4,602.7 L190.7,602.7 L191,602.7 L191.4,602.7 L191.8,602.7 L192.2,602.7 L192.7,602.7 L193.2,602.7 L193.7,602.7 L194.3,602.7 L194.9,602.7 L195.5,602.7 L196.2,602.7 L196.9,602.7 L197.7,602.7 L198.5,602.7 L199.3,602.7 L200.2,602.7 L201.1,602.7 L202.1,602.7 L203.1,602.7 L204.1,602.7 L205.2,602.7 L206.3,602.7 L207.5,602.7 L208.7,602.7 L209.9,602.7 L211.2,602.7 L212.5,602.7 L213.9,602.7 L215.3,602.7 L216.8,602.7 L218.3,602.7 L219.8,602.7 L221.4,602.7 L223.1,602.7 L224.7,602.7 L226.5,602.7 L228.2,602.7 L230,602.7 L231.9,602.7 L233.8,602.7 L235.7,602.7 L237.7,602.7 L239.8,602.7 L241.9,602.7 L244,602.7 L246.2,602.7 L248.4,602.7 L250.7,602.7 L253,602.7 L255.3,602.7 L257.7,602.7 L260.2,602.7 L262.7,602.7 L265.2,602.7 L267.8,602.7 L270.5,602.7 L273.2,602.7 L275.9,602.7 L278.7,602.7 L281.6,602.7 L284.4,602.7 L287.4,602.7 L290.4,602.7 L293.4,602.7 L296.5,602.7 L299.6,602.7 L302.8,602.7 L306,602.7 L309.3,602.7 L312.6,602.7 L316,602.7 L319.4,602.7 L322.9,602.7 L326.4,602.7 L330,602.7 L333.6,602.7 L337.3,602.7 L341,602.7 L344.8,602.7" class="ro r"/><path d="M189.2,701.6 L189.2,701.6 L189.2,701.6 L189.3,701.6 L189.4,701.6 L189.5,701.6 L189.6,701.6 L189.8,701.6 L190,701.6 L190.2,701.6 L190.4,701.6 L190.7,701.6 L191,701.6 L191.4,701.6 L191.8,701.6 L192.2,701.6 L192.7,701.6 L193.2,701.6 L193.7,701.6 L194.3,701.6 L194.9,701.6 L195.5,701.6 L196.2,701.6 L196.9,701.6 L197.7,701.6 L198.5,701.6 L199.3,701.6 L200.2,701.6 L201.1,701.6 L202.1,701.6 L203.1,701.6 L204.1,701.6 L205.2,701.6 L206.3,701.6 L207.5,701.6 L208.7,701.6 L209.9,701.6 L211.2,701.6 L212.5,701.6 L213.9,701.6 L215.3,701.6 L216.8,701.6 L218.3,701.6 L219.8,701.6 L221.4,701.6 L223.1,701.6 L224.7,701.6 L226.5,701.6 L228.2,701.6 L230,701.6 L231.9,701.6 L233.8,701.6 L235.7,701.6 L237.7,701.6 L239.8,701.6 L241.9,701.6 L244,701.6 L246.2,701.6 L248.4,701.6 L250.7,701.6 L253,701.6 L255.3,701.6 L257.7,701.6 L260.2,701.6 L262.7,701.6 L265.2,701.6 L267.8,701.6 L270.5,701.6 L273.2,701.6 L275.9,701.6 L278.7,701.6 L281.6,701.6 L284.4,701.6 L287.4,701.6 L290.4,701.6 L293.4,701.6 L296.5,701.6 L299.6,701.6 L302.8,701.6 L306,701.6 L309.3,701.6 L312.6,701.6 L316,701.6 L319.4,701.6 L322.9,701.6 L326.4,701.6 L330,701.6 L333.6,701.6 L337.3,701.6 L341,701.6 L344.8,701.6" class="ro r"/><path d="M33.6,617.3 L37.4,617.3 L41.1,617.3 L44.8,617.3 L48.4,617.3 L52,617.3 L55.5,617.3 L59,617.3 L62.4,617.3 L65.8,617.3 L69.1,617.3 L72.4,617.3 L75.6,617.3 L78.8,617.3 L81.9,617.3 L85,617.3 L88,617.3 L91,617.3 L94,617.3 L96.8,617.3 L99.7,617.3 L102.5,617.3 L105.2,617.3 L107.9,617.3 L110.6,617.3 L113.2,617.3 L115.7,617.3 L118.2,617.3 L120.7,617.3 L123.1,617.3 L125.4,617.3 L127.7,617.3 L130,617.3 L132.2,617.3 L134.4,617.3 L136.5,617.3 L138.6,617.3 L140.7,617.3 L142.7,617.3 L144.6,617.3 L146.5,617.3 L148.4,617.3 L150.2,617.3 L151.9,617.3 L153.7,617.3 L155.3,617.3 L157,617.3 L158.6,617.3 L160.1,617.3 L161.6,617.3 L163.1,617.3 L164.5,617.3 L165.9,617.3 L167.2,617.3 L168.5,617.3 L169.7,617.3 L170.9,617.3 L172.1,617.3 L173.2,617.3 L174.3,617.3 L175.3,617.3 L176.3,617.3 L177.3,617.3 L178.2,617.3 L179.1,617.3 L179.9,617.3 L180.7,617.3 L181.5,617.3 L182.2,617.3 L182.9,617.3 L183.5,617.3 L184.1,617.3 L184.7,617.3 L185.2,617.3 L185.7,617.3 L186.2,617.3 L186.6,617.3 L187,617.3 L187.4,617.3 L187.7,617.3 L188,617.3 L188.2,617.3 L188.4,617.3 L188.6,617.3 L188.8,617.3 L188.9,617.3 L189,617.3 L189.1,617.3 L189.2,617.3 L189.2,617.3 L189.2,617.3 L189.2,671.4 L189.2,671.4 L189.2,671.4 L189.1,671.4 L189,671.4 L188.9,671.4 L188.8,671.4 L188.6,671.4 L188.4,671.4 L188.2,671.4 L188,671.4 L187.7,671.4 L187.4,671.4 L187,671.4 L186.6,671.4 L186.2,671.4 L185.7,671.4 L185.2,671.4 L184.7,671.4 L184.1,671.4 L183.5,671.4 L182.9,671.4 L182.2,671.4 L181.5,671.4 L180.7,671.4 L179.9,671.4 L179.1,671.4 L178.2,671.4 L177.3,671.4 L176.3,671.4 L175.3,671.4 L174.3,671.4 L173.2,671.4 L172.1,671.4 L170.9,671.4 L169.7,671.4 L168.5,671.4 L167.2,671.4 L165.9,671.4 L164.5,671.4 L163.1,671.4 L161.6,671.4 L160.1,671.4 L158.6,671.4 L157,671.4 L155.3,671.4 L153.7,671.4 L151.9,671.4 L150.2,671.4 L148.4,671.4 L146.5,671.4 L144.6,671.4 L142.7,671.4 L140.7,671.4 L138.6,671.4 L136.5,671.4 L134.4,671.4 L132.2,671.4 L130,671.4 L127.7,671.4 L125.4,671.4 L123.1,671.4 L120.7,671.4 L118.2,671.4 L115.7,671.4 L113.2,671.4 L110.6,671.4 L107.9,671.4 L105.2,671.4 L102.5,671.4 L99.7,671.4 L96.8,671.4 L94,671.4 L91,671.4 L88,671.4 L85,671.4 L81.9,671.4 L78.8,671.4 L75.6,671.4 L72.4,671.4 L69.1,671.4 L65.8,671.4 L62.4,671.4 L59,671.4 L55.5,671.4 L52,671.4 L48.4,671.4 L44.8,671.4 L41.1,671.4 L37.4,671.4 L33.6,671.4Z" class="rb b"/><path d="M33.6,617.3 L37.4,617.3 L41.1,617.3 L44.8,617.3 L48.4,617.3 L52,617.3 L55.5,617.3 L59,617.3 L62.4,617.3 L65.8,617.3 L69.1,617.3 L72.4,617.3 L75.6,617.3 L78.8,617.3 L81.9,617.3 L85,617.3 L88,617.3 L91,617.3 L94,617.3 L96.8,617.3 L99.7,617.3 L102.5,617.3 L105.2,617.3 L107.9,617.3 L110.6,617.3 L113.2,617.3 L115.7,617.3 L118.2,617.3 L120.7,617.3 L123.1,617.3 L125.4,617.3 L127.7,617.3 L130,617.3 L132.2,617.3 L134.4,617.3 L136.5,617.3 L138.6,617.3 L140.7,617.3 L142.7,617.3 L144.6,617.3 L146.5,617.3 L148.4,617.3 L150.2,617.3 L151.9,617.3 L153.7,617.3 L155.3,617.3 L157,617.3 L158.6,617.3 L160.1,617.3 L161.6,617.3 L163.1,617.3 L164.5,617.3 L165.9,617.3 L167.2,617.3 L168.5,617.3 L169.7,617.3 L170.9,617.3 L172.1,617.3 L173.2,617.3 L174.3,617.3 L175.3,617.3 L176.3,617.3 L177.3,617.3 L178.2,617.3 L179.1,617.3 L179.9,617.3 L180.7,617.3 L181.5,617.3 L182.2,617.3 L182.9,617.3 L183.5,617.3 L184.1,617.3 L184.7,617.3 L185.2,617.3 L185.7,617.3 L186.2,617.3 L186.6,617.3 L187,617.3 L187.4,617.3 L187.7,617.3 L188,617.3 L188.2,617.3 L188.4,617.3 L188.6,617.3 L188.8,617.3 L188.9,617.3 L189,617.3 L189.1,617.3 L189.2,617.3 L189.2,617.3 L189.2,617.3" class="ro b"/><path d="M33.6,671.4 L37.4,671.4 L41.1,671.4 L44.8,671.4 L48.4,671.4 L52,671.4 L55.5,671.4 L59,671.4 L62.4,671.4 L65.8,671.4 L69.1,671.4 L72.4,671.4 L75.6,671.4 L78.8,671.4 L81.9,671.4 L85,671.4 L88,671.4 L91,671.4 L94,671.4 L96.8,671.4 L99.7,671.4 L102.5,671.4 L105.2,671.4 L107.9,671.4 L110.6,671.4 L113.2,671.4 L115.7,671.4 L118.2,671.4 L120.7,671.4 L123.1,671.4 L125.4,671.4 L127.7,671.4 L130,671.4 L132.2,671.4 L134.4,671.4 L136.5,671.4 L138.6,671.4 L140.7,671.4 L142.7,671.4 L144.6,671.4 L146.5,671.4 L148.4,671.4 L150.2,671.4 L151.9,671.4 L153.7,671.4 L155.3,671.4 L157,671.4 L158.6,671.4 L160.1,671.4 L161.6,671.4 L163.1,671.4 L164.5,671.4 L165.9,671.4 L167.2,671.4 L168.5,671.4 L169.7,671.4 L170.9,671.4 L172.1,671.4 L173.2,671.4 L174.3,671.4 L175.3,671.4 L176.3,671.4 L177.3,671.4 L178.2,671.4 L179.1,671.4 L179.9,671.4 L180.7,671.4 L181.5,671.4 L182.2,671.4 L182.9,671.4 L183.5,671.4 L184.1,671.4 L184.7,671.4 L185.2,671.4 L185.7,671.4 L186.2,671.4 L186.6,671.4 L187,671.4 L187.4,671.4 L187.7,671.4 L188,671.4 L188.2,671.4 L188.4,671.4 L188.6,671.4 L188.8,671.4 L188.9,671.4 L189,671.4 L189.1,671.4 L189.2,671.4 L189.2,671.4 L189.2,671.4" class="ro b"/><path d="M189.2,616.9 L189.2,616.8 L189.2,616.5 L189.3,616 L189.4,615.2 L189.5,614.3 L189.6,613.1 L189.8,611.9 L190,610.5 L190.2,609.2 L190.4,607.9 L190.7,606.6 L191,605.5 L191.4,604.6 L191.8,603.7 L192.2,603 L192.7,602.5 L193.2,602 L193.7,601.7 L194.3,601.5 L194.9,601.3 L195.5,601.2 L196.2,601.1 L196.9,601 L197.7,601 L198.5,601 L199.3,601 L200.2,601 L201.1,601 L202.1,601 L203.1,601 L204.1,601 L205.2,600.9 L206.3,600.9 L207.5,600.9 L208.7,600.9 L209.9,600.9 L211.2,600.9 L212.5,600.9 L213.9,600.9 L215.3,600.9 L216.8,600.9 L218.3,600.9 L219.8,600.9 L221.4,600.9 L223.1,600.9 L224.7,600.9 L226.5,600.9 L228.2,600.9 L230,600.9 L231.9,600.9 L233.8,600.9 L235.7,600.9 L237.7,600.9 L239.8,600.9 L241.9,600.9 L244,600.9 L246.2,600.9 L248.4,600.9 L250.7,600.9 L253,600.9 L255.3,600.9 L257.7,600.9 L260.2,600.9 L262.7,600.9 L265.2,600.9 L267.8,600.9 L270.5,600.9 L273.2,600.9 L275.9,600.9 L278.7,600.9 L281.6,600.9 L284.4,600.9 L287.4,600.9 L290.4,600.9 L293.4,600.9 L296.5,600.9 L299.6,600.9 L302.8,600.9 L306,600.9 L309.3,600.9 L312.6,600.9 L316,600.9 L319.4,600.9 L322.9,600.9 L326.4,600.9 L330,600.9 L333.6,600.9 L337.3,600.9 L341,600.9 L344.8,600.9 L344.8,684.6 L341,685.1 L337.3,685.7 L333.6,686.2 L330,686.8 L326.4,687.3 L322.9,687.9 L319.4,688.4 L316,689 L312.6,689.5 L309.3,690.1 L306,690.6 L302.8,691.2 L299.6,691.8 L296.5,692.3 L293.4,692.9 L290.4,693.5 L287.4,694 L284.4,694.6 L281.6,695.2 L278.7,695.7 L275.9,696.3 L273.2,696.9 L270.5,697.4 L267.8,698 L265.2,698.6 L262.7,699.1 L260.2,699.7 L257.7,700.2 L255.3,700.8 L253,701.3 L250.7,701.9 L248.4,702.4 L246.2,703 L244,703.5 L241.9,704 L239.8,704.5 L237.7,705 L235.7,705.6 L233.8,706.1 L231.9,706.6 L230,707 L228.2,707.5 L226.5,708 L224.7,708.5 L223.1,708.9 L221.4,709.4 L219.8,709.8 L218.3,710.3 L216.8,710.7 L215.3,711.1 L213.9,711.5 L212.5,711.9 L211.2,712.3 L209.9,712.7 L208.7,713.1 L207.5,713.4 L206.3,713.8 L205.2,714.1 L204.1,714.5 L203.1,714.8 L202.1,715.1 L201.1,715.4 L200.2,715.7 L199.3,716 L198.5,716.2 L197.7,716.5 L196.9,716.7 L196.2,717 L195.5,717.2 L194.9,717.4 L194.3,717.6 L193.7,717.8 L193.2,717.9 L192.7,718.1 L192.2,718.3 L191.8,718.4 L191.4,718.5 L191,718.7 L190.7,718.8 L190.4,718.9 L190.2,718.9 L190,719 L189.8,719.1 L189.6,719.1 L189.5,719.2 L189.4,719.2 L189.3,719.2 L189.2,719.3 L189.2,719.3 L189.2,719.3Z" class="rb b"/><path d="M189.2,616.9 L189.2,616.8 L189.2,616.5 L189.3,616 L189.4,615.2 L189.5,614.3 L189.6,613.1 L189.8,611.9 L190,610.5 L190.2,609.2 L190.4,607.9 L190.7,606.6 L191,605.5 L191.4,604.6 L191.8,603.7 L192.2,603 L192.7,602.5 L193.2,602 L193.7,601.7 L194.3,601.5 L194.9,601.3 L195.5,601.2 L196.2,601.1 L196.9,601 L197.7,601 L198.5,601 L199.3,601 L200.2,601 L201.1,601 L202.1,601 L203.1,601 L204.1,601 L205.2,600.9 L206.3,600.9 L207.5,600.9 L208.7,600.9 L209.9,600.9 L211.2,600.9 L212.5,600.9 L213.9,600.9 L215.3,600.9 L216.8,600.9 L218.3,600.9 L219.8,600.9 L221.4,600.9 L223.1,600.9 L224.7,600.9 L226.5,600.9 L228.2,600.9 L230,600.9 L231.9,600.9 L233.8,600.9 L235.7,600.9 L237.7,600.9 L239.8,600.9 L241.9,600.9 L244,600.9 L246.2,600.9 L248.4,600.9 L250.7,600.9 L253,600.9 L255.3,600.9 L257.7,600.9 L260.2,600.9 L262.7,600.9 L265.2,600.9 L267.8,600.9 L270.5,600.9 L273.2,600.9 L275.9,600.9 L278.7,600.9 L281.6,600.9 L284.4,600.9 L287.4,600.9 L290.4,600.9 L293.4,600.9 L296.5,600.9 L299.6,600.9 L302.8,600.9 L306,600.9 L309.3,600.9 L312.6,600.9 L316,600.9 L319.4,600.9 L322.9,600.9 L326.4,600.9 L330,600.9 L333.6,600.9 L337.3,600.9 L341,600.9 L344.8,600.9" class="ro b"/><path d="M189.2,719.3 L189.2,719.3 L189.2,719.3 L189.3,719.2 L189.4,719.2 L189.5,719.2 L189.6,719.1 L189.8,719.1 L190,719 L190.2,718.9 L190.4,718.9 L190.7,718.8 L191,718.7 L191.4,718.5 L191.8,718.4 L192.2,718.3 L192.7,718.1 L193.2,717.9 L193.7,717.8 L194.3,717.6 L194.9,717.4 L195.5,717.2 L196.2,717 L196.9,716.7 L197.7,716.5 L198.5,716.2 L199.3,716 L200.2,715.7 L201.1,715.4 L202.1,715.1 L203.1,714.8 L204.1,714.5 L205.2,714.1 L206.3,713.8 L207.5,713.4 L208.7,713.1 L209.9,712.7 L211.2,712.3 L212.5,711.9 L213.9,711.5 L215.3,711.1 L216.8,710.7 L218.3,710.3 L219.8,709.8 L221.4,709.4 L223.1,708.9 L224.7,708.5 L226.5,708 L228.2,707.5 L230,707 L231.9,706.6 L233.8,706.1 L235.7,705.6 L237.7,705 L239.8,704.5 L241.9,704 L244,703.5 L246.2,703 L248.4,702.4 L250.7,701.9 L253,701.3 L255.3,700.8 L257.7,700.2 L260.2,699.7 L262.7,699.1 L265.2,698.6 L267.8,698 L270.5,697.4 L273.2,696.9 L275.9,696.3 L278.7,695.7 L281.6,695.2 L284.4,694.6 L287.4,694 L290.4,693.5 L293.4,692.9 L296.5,692.3 L299.6,691.8 L302.8,691.2 L306,690.6 L309.3,690.1 L312.6,689.5 L316,689 L319.4,688.4 L322.9,687.9 L326.4,687.3 L330,686.8 L333.6,686.2 L337.3,685.7 L341,685.1 L344.8,684.6" class="ro b"/><path d="M33.6,648.6 L37.4,648.6 L41.1,648.6 L44.8,648.6 L48.4,648.6 L52,648.6 L55.5,648.6 L59,648.6 L62.4,648.6 L65.8,648.6 L69.1,648.6 L72.4,648.6 L75.6,648.6 L78.8,648.6 L81.9,648.6 L85,648.6 L88,648.6 L91,648.6 L94,648.6 L96.8,648.6 L99.7,648.6 L102.5,648.6 L105.2,648.6 L107.9,648.6 L110.6,648.6 L113.2,648.6 L115.7,648.6 L118.2,648.6 L120.7,648.6 L123.1,648.6 L125.4,648.6 L127.7,648.6 L130,648.6 L132.2,648.6 L134.4,648.6 L136.5,648.6 L138.6,648.6 L140.7,648.6 L142.7,648.6 L144.6,648.6 L146.5,648.6 L148.4,648.6 L150.2,648.6 L151.9,648.6 L153.7,648.6 L155.3,648.6 L157,648.6 L158.6,648.6 L160.1,648.6 L161.6,648.6 L163.1,648.6 L164.5,648.6 L165.9,648.6 L167.2,648.6 L168.5,648.6 L169.7,648.6 L170.9,648.6 L172.1,648.6 L173.2,648.6 L174.3,648.6 L175.3,648.6 L176.3,648.6 L177.3,648.6 L178.2,648.6 L179.1,648.6 L179.9,648.6 L180.7,648.6 L181.5,648.6 L182.2,648.6 L182.9,648.6 L183.5,648.6 L184.1,648.6 L184.7,648.6 L185.2,648.6 L185.7,648.6 L186.2,648.6 L186.6,648.6 L187,648.6 L187.4,648.6 L187.7,648.6 L188,648.6 L188.2,648.6 L188.4,648.6 L188.6,648.6 L188.8,648.6 L188.9,648.6 L189,648.6 L189.1,648.6 L189.2,648.6 L189.2,648.6 L189.2,648.6" class="ml r"/><path d="M189.2,652 L189.2,652 L189.2,652 L189.3,652 L189.4,652 L189.5,652 L189.6,652 L189.8,652 L190,652 L190.2,652 L190.4,652 L190.7,652 L191,652 L191.4,652 L191.8,652 L192.2,652 L192.7,652 L193.2,652 L193.7,652 L194.3,652 L194.9,652 L195.5,652 L196.2,652 L196.9,652 L197.7,652 L198.5,652 L199.3,652 L200.2,652 L201.1,652 L202.1,652 L203.1,652 L204.1,652 L205.2,652 L206.3,652 L207.5,652 L208.7,652 L209.9,652 L211.2,652 L212.5,652 L213.9,652 L215.3,652 L216.8,652 L218.3,652 L219.8,652 L221.4,652 L223.1,652 L224.7,652 L226.5,652 L228.2,652 L230,652 L231.9,652 L233.8,652 L235.7,652 L237.7,652 L239.8,652 L241.9,652 L244,652 L246.2,652 L248.4,652 L250.7,652 L253,652 L255.3,652 L257.7,652 L260.2,652 L262.7,652 L265.2,652 L267.8,652 L270.5,652 L273.2,652 L275.9,652 L278.7,652 L281.6,652 L284.4,652 L287.4,652 L290.4,652 L293.4,652 L296.5,652 L299.6,652 L302.8,652 L306,652 L309.3,652 L312.6,652 L316,652 L319.4,652 L322.9,652 L326.4,652 L330,652 L333.6,652 L337.3,652 L341,652 L344.8,652" class="ml r"/><path d="M33.6,643.9 L37.4,643.9 L41.1,643.9 L44.8,643.9 L48.4,643.9 L52,643.9 L55.5,643.9 L59,643.9 L62.4,643.9 L65.8,643.9 L69.1,643.9 L72.4,643.9 L75.6,643.9 L78.8,643.9 L81.9,643.9 L85,643.9 L88,643.9 L91,643.9 L94,643.9 L96.8,643.9 L99.7,643.9 L102.5,643.9 L105.2,643.9 L107.9,643.9 L110.6,643.9 L113.2,643.9 L115.7,643.9 L118.2,643.9 L120.7,643.9 L123.1,643.9 L125.4,643.9 L127.7,643.9 L130,643.9 L132.2,643.9 L134.4,643.9 L136.5,643.9 L138.6,643.9 L140.7,643.9 L142.7,643.9 L144.6,643.9 L146.5,643.9 L148.4,643.9 L150.2,643.9 L151.9,643.9 L153.7,643.9 L155.3,643.9 L157,643.9 L158.6,643.9 L160.1,643.9 L161.6,643.9 L163.1,643.9 L164.5,643.9 L165.9,643.9 L167.2,643.9 L168.5,643.9 L169.7,643.9 L170.9,643.9 L172.1,643.9 L173.2,643.9 L174.3,643.9 L175.3,643.9 L176.3,643.9 L177.3,643.9 L178.2,643.9 L179.1,643.9 L179.9,643.9 L180.7,643.9 L181.5,643.9 L182.2,643.9 L182.9,643.9 L183.5,643.9 L184.1,643.9 L184.7,643.9 L185.2,643.9 L185.7,643.9 L186.2,643.9 L186.6,643.9 L187,643.9 L187.4,643.9 L187.7,643.9 L188,643.9 L188.2,643.9 L188.4,643.9 L188.6,643.9 L188.8,643.9 L188.9,643.9 L189,643.9 L189.1,643.9 L189.2,643.9 L189.2,643.9 L189.2,643.9" class="ml b"/><path d="M189.2,667.3 L189.2,667.3 L189.2,667.2 L189.3,667.1 L189.4,666.9 L189.5,666.6 L189.6,666.2 L189.8,665.7 L190,665.2 L190.2,664.6 L190.4,663.9 L190.7,663.2 L191,662.4 L191.4,661.5 L191.8,660.6 L192.2,659.6 L192.7,658.6 L193.2,657.6 L193.7,656.5 L194.3,655.5 L194.9,654.4 L195.5,653.3 L196.2,652.2 L196.9,651.2 L197.7,650.1 L198.5,649.1 L199.3,648.1 L200.2,647.2 L201.1,646.3 L202.1,645.4 L203.1,644.5 L204.1,643.8 L205.2,643 L206.3,642.3 L207.5,641.7 L208.7,641.1 L209.9,640.5 L211.2,640 L212.5,639.5 L213.9,639.1 L215.3,638.7 L216.8,638.4 L218.3,638.1 L219.8,637.8 L221.4,637.6 L223.1,637.4 L224.7,637.2 L226.5,637 L228.2,636.9 L230,636.7 L231.9,636.6 L233.8,636.5 L235.7,636.5 L237.7,636.4 L239.8,636.3 L241.9,636.3 L244,636.2 L246.2,636.2 L248.4,636.2 L250.7,636.2 L253,636.1 L255.3,636.1 L257.7,636.1 L260.2,636.1 L262.7,636.1 L265.2,636.1 L267.8,636.1 L270.5,636.1 L273.2,636.1 L275.9,636.1 L278.7,636.1 L281.6,636.1 L284.4,636.1 L287.4,636.1 L290.4,636.1 L293.4,636.1 L296.5,636.1 L299.6,636.1 L302.8,636.1 L306,636.1 L309.3,636.1 L312.6,636.1 L316,636.1 L319.4,636.1 L322.9,636.1 L326.4,636.1 L330,636.1 L333.6,636.1 L337.3,636.1 L341,636.1 L344.8,636.1" class="ml b"/></g>
<rect x="33.5" y="520.0" width="311.50" height="233.50" class="bd"/>
<line x1="30.10" y1="743.1" x2="33.5" y2="743.1" class="tk"/>
<text x="27.50" y="747.50" class="tl" text-anchor="end">0</text>
<line x1="30.10" y1="700.5" x2="33.5" y2="700.5" class="tk"/>
<text x="27.50" y="704.94" class="tl" text-anchor="end">2</text>
<line x1="30.10" y1="658" x2="33.5" y2="658" class="tk"/>
<text x="27.50" y="662.38" class="tl" text-anchor="end">4</text>
<line x1="30.10" y1="615.4" x2="33.5" y2="615.4" class="tk"/>
<text x="27.50" y="619.82" class="tl" text-anchor="end">6</text>
<line x1="30.10" y1="572.9" x2="33.5" y2="572.9" class="tk"/>
<text x="27.50" y="577.26" class="tl" text-anchor="end">8</text>
<line x1="30.10" y1="530.3" x2="33.5" y2="530.3" class="tk"/>
<text x="27.50" y="534.70" class="tl" text-anchor="end">10</text>
<line x1="60.3" y1="753.5" x2="60.3" y2="756.90" class="tk"/>
<text x="60.34" y="768.00" class="tl" text-anchor="middle">-20</text>
<line x1="124.8" y1="753.5" x2="124.8" y2="756.90" class="tk"/>
<text x="124.77" y="768.00" class="tl" text-anchor="middle">-10</text>
<line x1="189.2" y1="753.5" x2="189.2" y2="756.90" class="tk"/>
<text x="189.20" y="768.00" class="tl" text-anchor="middle">0</text>
<line x1="253.6" y1="753.5" x2="253.6" y2="756.90" class="tk"/>
<text x="253.63" y="768.00" class="tl" text-anchor="middle">10</text>
<line x1="318.1" y1="753.5" x2="318.1" y2="756.90" class="tk"/>
<text x="318.06" y="768.00" class="tl" text-anchor="middle">20</text>
<rect x="46.90" y="531.80" width="154.00" height="14.3" rx="1.5" fill="#fff"/>
<text x="50.10" y="543.40" class="pl">Relationship connectedness</text>
<g clip-path="url(#cp12)"><rect x="373.0" y="520.0" width="311.50" height="233.50" fill="#fff"/><line x1="431.9" y1="520.0" x2="431.9" y2="753.5" class="gm"/><line x1="496.4" y1="520.0" x2="496.4" y2="753.5" class="gm"/><line x1="560.8" y1="520.0" x2="560.8" y2="753.5" class="gm"/><line x1="625.2" y1="520.0" x2="625.2" y2="753.5" class="gm"/><line x1="373.0" y1="721.8" x2="684.5" y2="721.8" class="gm"/><line x1="373.0" y1="679.3" x2="684.5" y2="679.3" class="gm"/><line x1="373.0" y1="636.7" x2="684.5" y2="636.7" class="gm"/><line x1="373.0" y1="594.1" x2="684.5" y2="594.1" class="gm"/><line x1="373.0" y1="551.6" x2="684.5" y2="551.6" class="gm"/><line x1="399.7" y1="520.0" x2="399.7" y2="753.5" class="gM"/><line x1="464.1" y1="520.0" x2="464.1" y2="753.5" class="gM"/><line x1="528.6" y1="520.0" x2="528.6" y2="753.5" class="gM"/><line x1="593" y1="520.0" x2="593" y2="753.5" class="gM"/><line x1="657.4" y1="520.0" x2="657.4" y2="753.5" class="gM"/><line x1="373.0" y1="743.1" x2="684.5" y2="743.1" class="gM"/><line x1="373.0" y1="700.5" x2="684.5" y2="700.5" class="gM"/><line x1="373.0" y1="658" x2="684.5" y2="658" class="gM"/><line x1="373.0" y1="615.4" x2="684.5" y2="615.4" class="gM"/><line x1="373.0" y1="572.9" x2="684.5" y2="572.9" class="gM"/><line x1="373.0" y1="530.3" x2="684.5" y2="530.3" class="gM"/><line x1="528.92" y1="520.0" x2="528.92" y2="753.5" class="v0"/><path d="M373,653.3 L376.7,653.3 L380.5,653.3 L384.2,653.3 L387.8,653.3 L391.4,653.3 L394.9,653.3 L398.4,653.3 L401.8,653.3 L405.2,653.3 L408.5,653.3 L411.8,653.3 L415,653.3 L418.2,653.3 L421.3,653.3 L424.4,653.3 L427.4,653.3 L430.4,653.3 L433.3,653.3 L436.2,653.3 L439.1,653.3 L441.8,653.3 L444.6,653.3 L447.3,653.3 L449.9,653.3 L452.5,653.3 L455.1,653.3 L457.6,653.3 L460,653.3 L462.4,653.3 L464.8,653.3 L467.1,653.3 L469.4,653.3 L471.6,653.3 L473.8,653.3 L475.9,653.3 L478,653.3 L480,653.3 L482,653.3 L484,653.3 L485.9,653.3 L487.7,653.3 L489.5,653.3 L491.3,653.3 L493,653.3 L494.7,653.3 L496.3,653.3 L497.9,653.3 L499.5,653.3 L501,653.3 L502.4,653.3 L503.9,653.3 L505.2,653.3 L506.6,653.3 L507.8,653.3 L509.1,653.3 L510.3,653.3 L511.5,653.3 L512.6,653.3 L513.7,653.3 L514.7,653.3 L515.7,653.3 L516.6,653.3 L517.6,653.3 L518.4,653.3 L519.3,653.3 L520.1,653.3 L520.8,653.3 L521.6,653.3 L522.2,653.3 L522.9,653.3 L523.5,653.3 L524.1,653.3 L524.6,653.3 L525.1,653.3 L525.5,653.3 L526,653.3 L526.4,653.3 L526.7,653.3 L527,653.3 L527.3,653.3 L527.6,653.3 L527.8,653.3 L528,653.3 L528.2,653.3 L528.3,653.3 L528.4,653.3 L528.5,653.3 L528.5,653.3 L528.6,653.3 L528.6,653.3 L528.6,682 L528.6,682 L528.5,682 L528.5,682 L528.4,682 L528.3,682 L528.2,682 L528,682 L527.8,682 L527.6,682 L527.3,682 L527,682 L526.7,682 L526.4,682 L526,682 L525.5,682 L525.1,682 L524.6,682 L524.1,682 L523.5,682 L522.9,682 L522.2,682 L521.6,682 L520.8,682 L520.1,682 L519.3,682 L518.4,682 L517.6,682 L516.6,682 L515.7,682 L514.7,682 L513.7,682 L512.6,682 L511.5,682 L510.3,682 L509.1,682 L507.8,682 L506.6,682 L505.2,682 L503.9,682 L502.4,682 L501,682 L499.5,682 L497.9,682 L496.3,682 L494.7,682 L493,682 L491.3,682 L489.5,682 L487.7,682 L485.9,682 L484,682 L482,682 L480,682 L478,682 L475.9,682 L473.8,682 L471.6,682 L469.4,682 L467.1,682 L464.8,682 L462.4,682 L460,682 L457.6,682 L455.1,682 L452.5,682 L449.9,682 L447.3,682 L444.6,682 L441.8,682 L439.1,682 L436.2,682 L433.3,682 L430.4,682 L427.4,682 L424.4,682 L421.3,682 L418.2,682 L415,682 L411.8,682 L408.5,682 L405.2,682 L401.8,682 L398.4,682 L394.9,682 L391.4,682 L387.8,682 L384.2,682 L380.5,682 L376.7,682 L373,682Z" class="rb r"/><path d="M373,653.3 L376.7,653.3 L380.5,653.3 L384.2,653.3 L387.8,653.3 L391.4,653.3 L394.9,653.3 L398.4,653.3 L401.8,653.3 L405.2,653.3 L408.5,653.3 L411.8,653.3 L415,653.3 L418.2,653.3 L421.3,653.3 L424.4,653.3 L427.4,653.3 L430.4,653.3 L433.3,653.3 L436.2,653.3 L439.1,653.3 L441.8,653.3 L444.6,653.3 L447.3,653.3 L449.9,653.3 L452.5,653.3 L455.1,653.3 L457.6,653.3 L460,653.3 L462.4,653.3 L464.8,653.3 L467.1,653.3 L469.4,653.3 L471.6,653.3 L473.8,653.3 L475.9,653.3 L478,653.3 L480,653.3 L482,653.3 L484,653.3 L485.9,653.3 L487.7,653.3 L489.5,653.3 L491.3,653.3 L493,653.3 L494.7,653.3 L496.3,653.3 L497.9,653.3 L499.5,653.3 L501,653.3 L502.4,653.3 L503.9,653.3 L505.2,653.3 L506.6,653.3 L507.8,653.3 L509.1,653.3 L510.3,653.3 L511.5,653.3 L512.6,653.3 L513.7,653.3 L514.7,653.3 L515.7,653.3 L516.6,653.3 L517.6,653.3 L518.4,653.3 L519.3,653.3 L520.1,653.3 L520.8,653.3 L521.6,653.3 L522.2,653.3 L522.9,653.3 L523.5,653.3 L524.1,653.3 L524.6,653.3 L525.1,653.3 L525.5,653.3 L526,653.3 L526.4,653.3 L526.7,653.3 L527,653.3 L527.3,653.3 L527.6,653.3 L527.8,653.3 L528,653.3 L528.2,653.3 L528.3,653.3 L528.4,653.3 L528.5,653.3 L528.5,653.3 L528.6,653.3 L528.6,653.3" class="ro r"/><path d="M373,682 L376.7,682 L380.5,682 L384.2,682 L387.8,682 L391.4,682 L394.9,682 L398.4,682 L401.8,682 L405.2,682 L408.5,682 L411.8,682 L415,682 L418.2,682 L421.3,682 L424.4,682 L427.4,682 L430.4,682 L433.3,682 L436.2,682 L439.1,682 L441.8,682 L444.6,682 L447.3,682 L449.9,682 L452.5,682 L455.1,682 L457.6,682 L460,682 L462.4,682 L464.8,682 L467.1,682 L469.4,682 L471.6,682 L473.8,682 L475.9,682 L478,682 L480,682 L482,682 L484,682 L485.9,682 L487.7,682 L489.5,682 L491.3,682 L493,682 L494.7,682 L496.3,682 L497.9,682 L499.5,682 L501,682 L502.4,682 L503.9,682 L505.2,682 L506.6,682 L507.8,682 L509.1,682 L510.3,682 L511.5,682 L512.6,682 L513.7,682 L514.7,682 L515.7,682 L516.6,682 L517.6,682 L518.4,682 L519.3,682 L520.1,682 L520.8,682 L521.6,682 L522.2,682 L522.9,682 L523.5,682 L524.1,682 L524.6,682 L525.1,682 L525.5,682 L526,682 L526.4,682 L526.7,682 L527,682 L527.3,682 L527.6,682 L527.8,682 L528,682 L528.2,682 L528.3,682 L528.4,682 L528.5,682 L528.5,682 L528.6,682 L528.6,682" class="ro r"/><path d="M528.6,531.8 L528.6,531.9 L528.6,532.2 L528.7,532.9 L528.7,533.8 L528.8,535.1 L529,536.6 L529.1,538.5 L529.3,540.7 L529.6,543.2 L529.8,546 L530.1,549 L530.4,552.3 L530.8,555.7 L531.2,559.3 L531.6,563.1 L532.1,567 L532.5,570.9 L533.1,574.9 L533.7,578.8 L534.3,582.8 L534.9,586.7 L535.6,590.4 L536.3,594.1 L537.1,597.7 L537.9,601.1 L538.7,604.4 L539.6,607.4 L540.5,610.3 L541.5,613 L542.4,615.5 L543.5,617.8 L544.6,619.9 L545.7,621.8 L546.8,623.5 L548.1,625.1 L549.3,626.5 L550.6,627.7 L551.9,628.8 L553.3,629.8 L554.7,630.6 L556.2,631.4 L557.7,632 L559.2,632.5 L560.8,633 L562.4,633.4 L564.1,633.7 L565.8,634 L567.6,634.2 L569.4,634.4 L571.3,634.6 L573.2,634.7 L575.1,634.8 L577.1,634.9 L579.1,635 L581.2,635 L583.4,635.1 L585.5,635.1 L587.8,635.1 L590,635.1 L592.3,635.2 L594.7,635.2 L597.1,635.2 L599.6,635.2 L602.1,635.2 L604.6,635.2 L607.2,635.2 L609.9,635.2 L612.6,635.2 L615.3,635.2 L618.1,635.2 L620.9,635.2 L623.8,635.2 L626.7,635.2 L629.7,635.2 L632.8,635.2 L635.8,635.2 L639,635.2 L642.1,635.2 L645.4,635.2 L648.6,635.2 L652,635.2 L655.4,635.2 L658.8,635.2 L662.3,635.2 L665.8,635.2 L669.4,635.2 L673,635.2 L676.7,635.2 L680.4,635.2 L684.2,635.2 L684.2,682.7 L680.4,682.7 L676.7,682.7 L673,682.7 L669.4,682.7 L665.8,682.7 L662.3,682.7 L658.8,682.7 L655.4,682.7 L652,682.7 L648.6,682.7 L645.4,682.7 L642.1,682.7 L639,682.7 L635.8,682.7 L632.8,682.7 L629.7,682.7 L626.7,682.7 L623.8,682.7 L620.9,682.7 L618.1,682.7 L615.3,682.7 L612.6,682.7 L609.9,682.7 L607.2,682.7 L604.6,682.7 L602.1,682.7 L599.6,682.7 L597.1,682.7 L594.7,682.7 L592.3,682.7 L590,682.7 L587.8,682.7 L585.5,682.7 L583.4,682.7 L581.2,682.7 L579.1,682.7 L577.1,682.7 L575.1,682.7 L573.2,682.7 L571.3,682.7 L569.4,682.7 L567.6,682.7 L565.8,682.7 L564.1,682.7 L562.4,682.7 L560.8,682.7 L559.2,682.7 L557.7,682.7 L556.2,682.7 L554.7,682.7 L553.3,682.7 L551.9,682.7 L550.6,682.7 L549.3,682.7 L548.1,682.7 L546.8,682.7 L545.7,682.7 L544.6,682.7 L543.5,682.7 L542.4,682.7 L541.5,682.7 L540.5,682.7 L539.6,682.7 L538.7,682.7 L537.9,682.7 L537.1,682.7 L536.3,682.7 L535.6,682.7 L534.9,682.7 L534.3,682.7 L533.7,682.7 L533.1,682.7 L532.5,682.7 L532.1,682.7 L531.6,682.7 L531.2,682.7 L530.8,682.7 L530.4,682.7 L530.1,682.7 L529.8,682.7 L529.6,682.7 L529.3,682.7 L529.1,682.7 L529,682.7 L528.8,682.7 L528.7,682.7 L528.7,682.7 L528.6,682.7 L528.6,682.7 L528.6,682.7Z" class="rb r"/><path d="M528.6,531.8 L528.6,531.9 L528.6,532.2 L528.7,532.9 L528.7,533.8 L528.8,535.1 L529,536.6 L529.1,538.5 L529.3,540.7 L529.6,543.2 L529.8,546 L530.1,549 L530.4,552.3 L530.8,555.7 L531.2,559.3 L531.6,563.1 L532.1,567 L532.5,570.9 L533.1,574.9 L533.7,578.8 L534.3,582.8 L534.9,586.7 L535.6,590.4 L536.3,594.1 L537.1,597.7 L537.9,601.1 L538.7,604.4 L539.6,607.4 L540.5,610.3 L541.5,613 L542.4,615.5 L543.5,617.8 L544.6,619.9 L545.7,621.8 L546.8,623.5 L548.1,625.1 L549.3,626.5 L550.6,627.7 L551.9,628.8 L553.3,629.8 L554.7,630.6 L556.2,631.4 L557.7,632 L559.2,632.5 L560.8,633 L562.4,633.4 L564.1,633.7 L565.8,634 L567.6,634.2 L569.4,634.4 L571.3,634.6 L573.2,634.7 L575.1,634.8 L577.1,634.9 L579.1,635 L581.2,635 L583.4,635.1 L585.5,635.1 L587.8,635.1 L590,635.1 L592.3,635.2 L594.7,635.2 L597.1,635.2 L599.6,635.2 L602.1,635.2 L604.6,635.2 L607.2,635.2 L609.9,635.2 L612.6,635.2 L615.3,635.2 L618.1,635.2 L620.9,635.2 L623.8,635.2 L626.7,635.2 L629.7,635.2 L632.8,635.2 L635.8,635.2 L639,635.2 L642.1,635.2 L645.4,635.2 L648.6,635.2 L652,635.2 L655.4,635.2 L658.8,635.2 L662.3,635.2 L665.8,635.2 L669.4,635.2 L673,635.2 L676.7,635.2 L680.4,635.2 L684.2,635.2" class="ro r"/><path d="M528.6,682.7 L528.6,682.7 L528.6,682.7 L528.7,682.7 L528.7,682.7 L528.8,682.7 L529,682.7 L529.1,682.7 L529.3,682.7 L529.6,682.7 L529.8,682.7 L530.1,682.7 L530.4,682.7 L530.8,682.7 L531.2,682.7 L531.6,682.7 L532.1,682.7 L532.5,682.7 L533.1,682.7 L533.7,682.7 L534.3,682.7 L534.9,682.7 L535.6,682.7 L536.3,682.7 L537.1,682.7 L537.9,682.7 L538.7,682.7 L539.6,682.7 L540.5,682.7 L541.5,682.7 L542.4,682.7 L543.5,682.7 L544.6,682.7 L545.7,682.7 L546.8,682.7 L548.1,682.7 L549.3,682.7 L550.6,682.7 L551.9,682.7 L553.3,682.7 L554.7,682.7 L556.2,682.7 L557.7,682.7 L559.2,682.7 L560.8,682.7 L562.4,682.7 L564.1,682.7 L565.8,682.7 L567.6,682.7 L569.4,682.7 L571.3,682.7 L573.2,682.7 L575.1,682.7 L577.1,682.7 L579.1,682.7 L581.2,682.7 L583.4,682.7 L585.5,682.7 L587.8,682.7 L590,682.7 L592.3,682.7 L594.7,682.7 L597.1,682.7 L599.6,682.7 L602.1,682.7 L604.6,682.7 L607.2,682.7 L609.9,682.7 L612.6,682.7 L615.3,682.7 L618.1,682.7 L620.9,682.7 L623.8,682.7 L626.7,682.7 L629.7,682.7 L632.8,682.7 L635.8,682.7 L639,682.7 L642.1,682.7 L645.4,682.7 L648.6,682.7 L652,682.7 L655.4,682.7 L658.8,682.7 L662.3,682.7 L665.8,682.7 L669.4,682.7 L673,682.7 L676.7,682.7 L680.4,682.7 L684.2,682.7" class="ro r"/><path d="M373,661 L376.7,661 L380.5,661 L384.2,661 L387.8,661 L391.4,661 L394.9,661 L398.4,661 L401.8,661 L405.2,661 L408.5,661 L411.8,661 L415,661 L418.2,661 L421.3,661 L424.4,661 L427.4,661 L430.4,661 L433.3,661 L436.2,661 L439.1,661 L441.8,661 L444.6,661 L447.3,661 L449.9,661 L452.5,661 L455.1,661 L457.6,661 L460,661 L462.4,661 L464.8,661 L467.1,661 L469.4,661 L471.6,661 L473.8,661 L475.9,661 L478,661 L480,661 L482,661 L484,661 L485.9,661 L487.7,661 L489.5,661 L491.3,661 L493,661 L494.7,661 L496.3,661 L497.9,661 L499.5,661 L501,661 L502.4,661 L503.9,661 L505.2,661 L506.6,661 L507.8,661 L509.1,661 L510.3,661 L511.5,661 L512.6,661 L513.7,661 L514.7,661 L515.7,661 L516.6,661 L517.6,661 L518.4,661 L519.3,661 L520.1,661 L520.8,661 L521.6,661 L522.2,661 L522.9,661 L523.5,661 L524.1,661 L524.6,661 L525.1,661 L525.5,661 L526,661 L526.4,661 L526.7,661 L527,661 L527.3,661 L527.6,661 L527.8,661 L528,661 L528.2,661 L528.3,661 L528.4,661 L528.5,661 L528.5,661 L528.6,661 L528.6,661 L528.6,708.2 L528.6,708.2 L528.5,708.2 L528.5,708.2 L528.4,708.2 L528.3,708.2 L528.2,708.2 L528,708.2 L527.8,708.2 L527.6,708.2 L527.3,708.2 L527,708.2 L526.7,708.2 L526.4,708.2 L526,708.2 L525.5,708.2 L525.1,708.2 L524.6,708.2 L524.1,708.2 L523.5,708.2 L522.9,708.2 L522.2,708.2 L521.6,708.2 L520.8,708.2 L520.1,708.2 L519.3,708.2 L518.4,708.2 L517.6,708.2 L516.6,708.2 L515.7,708.2 L514.7,708.2 L513.7,708.2 L512.6,708.2 L511.5,708.2 L510.3,708.2 L509.1,708.2 L507.8,708.2 L506.6,708.2 L505.2,708.2 L503.9,708.2 L502.4,708.2 L501,708.2 L499.5,708.2 L497.9,708.2 L496.3,708.2 L494.7,708.2 L493,708.2 L491.3,708.2 L489.5,708.2 L487.7,708.2 L485.9,708.2 L484,708.2 L482,708.2 L480,708.2 L478,708.2 L475.9,708.2 L473.8,708.2 L471.6,708.2 L469.4,708.2 L467.1,708.2 L464.8,708.2 L462.4,708.2 L460,708.2 L457.6,708.2 L455.1,708.2 L452.5,708.2 L449.9,708.2 L447.3,708.2 L444.6,708.2 L441.8,708.2 L439.1,708.2 L436.2,708.2 L433.3,708.2 L430.4,708.2 L427.4,708.2 L424.4,708.2 L421.3,708.2 L418.2,708.2 L415,708.2 L411.8,708.2 L408.5,708.2 L405.2,708.2 L401.8,708.2 L398.4,708.2 L394.9,708.2 L391.4,708.2 L387.8,708.2 L384.2,708.2 L380.5,708.2 L376.7,708.2 L373,708.2Z" class="rb b"/><path d="M373,661 L376.7,661 L380.5,661 L384.2,661 L387.8,661 L391.4,661 L394.9,661 L398.4,661 L401.8,661 L405.2,661 L408.5,661 L411.8,661 L415,661 L418.2,661 L421.3,661 L424.4,661 L427.4,661 L430.4,661 L433.3,661 L436.2,661 L439.1,661 L441.8,661 L444.6,661 L447.3,661 L449.9,661 L452.5,661 L455.1,661 L457.6,661 L460,661 L462.4,661 L464.8,661 L467.1,661 L469.4,661 L471.6,661 L473.8,661 L475.9,661 L478,661 L480,661 L482,661 L484,661 L485.9,661 L487.7,661 L489.5,661 L491.3,661 L493,661 L494.7,661 L496.3,661 L497.9,661 L499.5,661 L501,661 L502.4,661 L503.9,661 L505.2,661 L506.6,661 L507.8,661 L509.1,661 L510.3,661 L511.5,661 L512.6,661 L513.7,661 L514.7,661 L515.7,661 L516.6,661 L517.6,661 L518.4,661 L519.3,661 L520.1,661 L520.8,661 L521.6,661 L522.2,661 L522.9,661 L523.5,661 L524.1,661 L524.6,661 L525.1,661 L525.5,661 L526,661 L526.4,661 L526.7,661 L527,661 L527.3,661 L527.6,661 L527.8,661 L528,661 L528.2,661 L528.3,661 L528.4,661 L528.5,661 L528.5,661 L528.6,661 L528.6,661" class="ro b"/><path d="M373,708.2 L376.7,708.2 L380.5,708.2 L384.2,708.2 L387.8,708.2 L391.4,708.2 L394.9,708.2 L398.4,708.2 L401.8,708.2 L405.2,708.2 L408.5,708.2 L411.8,708.2 L415,708.2 L418.2,708.2 L421.3,708.2 L424.4,708.2 L427.4,708.2 L430.4,708.2 L433.3,708.2 L436.2,708.2 L439.1,708.2 L441.8,708.2 L444.6,708.2 L447.3,708.2 L449.9,708.2 L452.5,708.2 L455.1,708.2 L457.6,708.2 L460,708.2 L462.4,708.2 L464.8,708.2 L467.1,708.2 L469.4,708.2 L471.6,708.2 L473.8,708.2 L475.9,708.2 L478,708.2 L480,708.2 L482,708.2 L484,708.2 L485.9,708.2 L487.7,708.2 L489.5,708.2 L491.3,708.2 L493,708.2 L494.7,708.2 L496.3,708.2 L497.9,708.2 L499.5,708.2 L501,708.2 L502.4,708.2 L503.9,708.2 L505.2,708.2 L506.6,708.2 L507.8,708.2 L509.1,708.2 L510.3,708.2 L511.5,708.2 L512.6,708.2 L513.7,708.2 L514.7,708.2 L515.7,708.2 L516.6,708.2 L517.6,708.2 L518.4,708.2 L519.3,708.2 L520.1,708.2 L520.8,708.2 L521.6,708.2 L522.2,708.2 L522.9,708.2 L523.5,708.2 L524.1,708.2 L524.6,708.2 L525.1,708.2 L525.5,708.2 L526,708.2 L526.4,708.2 L526.7,708.2 L527,708.2 L527.3,708.2 L527.6,708.2 L527.8,708.2 L528,708.2 L528.2,708.2 L528.3,708.2 L528.4,708.2 L528.5,708.2 L528.5,708.2 L528.6,708.2 L528.6,708.2" class="ro b"/><path d="M528.6,578 L528.6,578 L528.6,578 L528.7,578 L528.7,578 L528.8,578.1 L529,578.1 L529.1,578.2 L529.3,578.2 L529.6,578.3 L529.8,578.4 L530.1,578.5 L530.4,578.6 L530.8,578.7 L531.2,578.9 L531.6,579 L532.1,579.2 L532.5,579.3 L533.1,579.5 L533.7,579.7 L534.3,579.9 L534.9,580.1 L535.6,580.4 L536.3,580.6 L537.1,580.8 L537.9,581.1 L538.7,581.4 L539.6,581.7 L540.5,582 L541.5,582.3 L542.4,582.6 L543.5,583 L544.6,583.3 L545.7,583.7 L546.8,584 L548.1,584.4 L549.3,584.8 L550.6,585.2 L551.9,585.6 L553.3,586.1 L554.7,586.5 L556.2,586.9 L557.7,587.4 L559.2,587.9 L560.8,588.3 L562.4,588.8 L564.1,589.3 L565.8,589.8 L567.6,590.3 L569.4,590.9 L571.3,591.4 L573.2,591.9 L575.1,592.5 L577.1,593 L579.1,593.6 L581.2,594.2 L583.4,594.8 L585.5,595.3 L587.8,595.9 L590,596.5 L592.3,597.1 L594.7,597.8 L597.1,598.4 L599.6,599 L602.1,599.6 L604.6,600.2 L607.2,600.9 L609.9,601.5 L612.6,602.2 L615.3,602.8 L618.1,603.5 L620.9,604.1 L623.8,604.8 L626.7,605.4 L629.7,606.1 L632.8,606.8 L635.8,607.4 L639,608.1 L642.1,608.8 L645.4,609.4 L648.6,610.1 L652,610.8 L655.4,611.4 L658.8,612.1 L662.3,612.8 L665.8,613.4 L669.4,614.1 L673,614.7 L676.7,615.4 L680.4,616.1 L684.2,616.7 L684.2,726.5 L680.4,726.5 L676.7,726.5 L673,726.5 L669.4,726.5 L665.8,726.5 L662.3,726.5 L658.8,726.5 L655.4,726.5 L652,726.5 L648.6,726.5 L645.4,726.5 L642.1,726.5 L639,726.5 L635.8,726.5 L632.8,726.5 L629.7,726.5 L626.7,726.5 L623.8,726.5 L620.9,726.5 L618.1,726.5 L615.3,726.5 L612.6,726.5 L609.9,726.5 L607.2,726.5 L604.6,726.5 L602.1,726.5 L599.6,726.5 L597.1,726.5 L594.7,726.5 L592.3,726.5 L590,726.5 L587.8,726.5 L585.5,726.5 L583.4,726.5 L581.2,726.5 L579.1,726.5 L577.1,726.5 L575.1,726.5 L573.2,726.5 L571.3,726.5 L569.4,726.5 L567.6,726.5 L565.8,726.5 L564.1,726.5 L562.4,726.5 L560.8,726.5 L559.2,726.5 L557.7,726.5 L556.2,726.5 L554.7,726.5 L553.3,726.5 L551.9,726.5 L550.6,726.5 L549.3,726.5 L548.1,726.5 L546.8,726.5 L545.7,726.5 L544.6,726.5 L543.5,726.5 L542.4,726.5 L541.5,726.5 L540.5,726.5 L539.6,726.5 L538.7,726.5 L537.9,726.5 L537.1,726.5 L536.3,726.5 L535.6,726.6 L534.9,726.6 L534.3,726.7 L533.7,726.7 L533.1,726.9 L532.5,727.1 L532.1,727.4 L531.6,727.7 L531.2,728.2 L530.8,728.8 L530.4,729.5 L530.1,730.4 L529.8,731.4 L529.6,732.5 L529.3,733.6 L529.1,734.7 L529,735.8 L528.8,736.9 L528.7,737.7 L528.7,738.4 L528.6,738.9 L528.6,739.2 L528.6,739.3Z" class="rb b"/><path d="M528.6,578 L528.6,578 L528.6,578 L528.7,578 L528.7,578 L528.8,578.1 L529,578.1 L529.1,578.2 L529.3,578.2 L529.6,578.3 L529.8,578.4 L530.1,578.5 L530.4,578.6 L530.8,578.7 L531.2,578.9 L531.6,579 L532.1,579.2 L532.5,579.3 L533.1,579.5 L533.7,579.7 L534.3,579.9 L534.9,580.1 L535.6,580.4 L536.3,580.6 L537.1,580.8 L537.9,581.1 L538.7,581.4 L539.6,581.7 L540.5,582 L541.5,582.3 L542.4,582.6 L543.5,583 L544.6,583.3 L545.7,583.7 L546.8,584 L548.1,584.4 L549.3,584.8 L550.6,585.2 L551.9,585.6 L553.3,586.1 L554.7,586.5 L556.2,586.9 L557.7,587.4 L559.2,587.9 L560.8,588.3 L562.4,588.8 L564.1,589.3 L565.8,589.8 L567.6,590.3 L569.4,590.9 L571.3,591.4 L573.2,591.9 L575.1,592.5 L577.1,593 L579.1,593.6 L581.2,594.2 L583.4,594.8 L585.5,595.3 L587.8,595.9 L590,596.5 L592.3,597.1 L594.7,597.8 L597.1,598.4 L599.6,599 L602.1,599.6 L604.6,600.2 L607.2,600.9 L609.9,601.5 L612.6,602.2 L615.3,602.8 L618.1,603.5 L620.9,604.1 L623.8,604.8 L626.7,605.4 L629.7,606.1 L632.8,606.8 L635.8,607.4 L639,608.1 L642.1,608.8 L645.4,609.4 L648.6,610.1 L652,610.8 L655.4,611.4 L658.8,612.1 L662.3,612.8 L665.8,613.4 L669.4,614.1 L673,614.7 L676.7,615.4 L680.4,616.1 L684.2,616.7" class="ro b"/><path d="M528.6,739.3 L528.6,739.2 L528.6,738.9 L528.7,738.4 L528.7,737.7 L528.8,736.9 L529,735.8 L529.1,734.7 L529.3,733.6 L529.6,732.5 L529.8,731.4 L530.1,730.4 L530.4,729.5 L530.8,728.8 L531.2,728.2 L531.6,727.7 L532.1,727.4 L532.5,727.1 L533.1,726.9 L533.7,726.7 L534.3,726.7 L534.9,726.6 L535.6,726.6 L536.3,726.5 L537.1,726.5 L537.9,726.5 L538.7,726.5 L539.6,726.5 L540.5,726.5 L541.5,726.5 L542.4,726.5 L543.5,726.5 L544.6,726.5 L545.7,726.5 L546.8,726.5 L548.1,726.5 L549.3,726.5 L550.6,726.5 L551.9,726.5 L553.3,726.5 L554.7,726.5 L556.2,726.5 L557.7,726.5 L559.2,726.5 L560.8,726.5 L562.4,726.5 L564.1,726.5 L565.8,726.5 L567.6,726.5 L569.4,726.5 L571.3,726.5 L573.2,726.5 L575.1,726.5 L577.1,726.5 L579.1,726.5 L581.2,726.5 L583.4,726.5 L585.5,726.5 L587.8,726.5 L590,726.5 L592.3,726.5 L594.7,726.5 L597.1,726.5 L599.6,726.5 L602.1,726.5 L604.6,726.5 L607.2,726.5 L609.9,726.5 L612.6,726.5 L615.3,726.5 L618.1,726.5 L620.9,726.5 L623.8,726.5 L626.7,726.5 L629.7,726.5 L632.8,726.5 L635.8,726.5 L639,726.5 L642.1,726.5 L645.4,726.5 L648.6,726.5 L652,726.5 L655.4,726.5 L658.8,726.5 L662.3,726.5 L665.8,726.5 L669.4,726.5 L673,726.5 L676.7,726.5 L680.4,726.5 L684.2,726.5" class="ro b"/><path d="M373,668.8 L376.7,668.8 L380.5,668.8 L384.2,668.8 L387.8,668.8 L391.4,668.8 L394.9,668.8 L398.4,668.8 L401.8,668.8 L405.2,668.8 L408.5,668.8 L411.8,668.8 L415,668.8 L418.2,668.8 L421.3,668.8 L424.4,668.8 L427.4,668.8 L430.4,668.8 L433.3,668.8 L436.2,668.8 L439.1,668.8 L441.8,668.8 L444.6,668.8 L447.3,668.8 L449.9,668.8 L452.5,668.8 L455.1,668.8 L457.6,668.8 L460,668.8 L462.4,668.8 L464.8,668.8 L467.1,668.8 L469.4,668.8 L471.6,668.8 L473.8,668.8 L475.9,668.8 L478,668.8 L480,668.8 L482,668.8 L484,668.8 L485.9,668.8 L487.7,668.8 L489.5,668.8 L491.3,668.8 L493,668.8 L494.7,668.8 L496.3,668.8 L497.9,668.8 L499.5,668.8 L501,668.8 L502.4,668.8 L503.9,668.8 L505.2,668.8 L506.6,668.8 L507.8,668.8 L509.1,668.8 L510.3,668.8 L511.5,668.8 L512.6,668.8 L513.7,668.8 L514.7,668.8 L515.7,668.8 L516.6,668.8 L517.6,668.8 L518.4,668.8 L519.3,668.8 L520.1,668.8 L520.8,668.8 L521.6,668.8 L522.2,668.8 L522.9,668.8 L523.5,668.8 L524.1,668.8 L524.6,668.8 L525.1,668.8 L525.5,668.8 L526,668.8 L526.4,668.8 L526.7,668.8 L527,668.8 L527.3,668.8 L527.6,668.8 L527.8,668.8 L528,668.8 L528.2,668.8 L528.3,668.8 L528.4,668.8 L528.5,668.8 L528.5,668.8 L528.6,668.8 L528.6,668.8" class="ml r"/><path d="M528.6,604.4 L528.6,604.6 L528.6,605.3 L528.7,606.7 L528.7,608.7 L528.8,611.3 L529,614.4 L529.1,617.9 L529.3,621.7 L529.6,625.7 L529.8,629.8 L530.1,633.9 L530.4,637.7 L530.8,641.4 L531.2,644.7 L531.6,647.7 L532.1,650.3 L532.5,652.6 L533.1,654.4 L533.7,655.9 L534.3,657.2 L534.9,658.1 L535.6,658.9 L536.3,659.4 L537.1,659.8 L537.9,660.1 L538.7,660.3 L539.6,660.5 L540.5,660.6 L541.5,660.6 L542.4,660.7 L543.5,660.7 L544.6,660.7 L545.7,660.7 L546.8,660.7 L548.1,660.7 L549.3,660.7 L550.6,660.7 L551.9,660.7 L553.3,660.7 L554.7,660.7 L556.2,660.7 L557.7,660.7 L559.2,660.7 L560.8,660.7 L562.4,660.7 L564.1,660.7 L565.8,660.7 L567.6,660.7 L569.4,660.7 L571.3,660.7 L573.2,660.7 L575.1,660.7 L577.1,660.7 L579.1,660.7 L581.2,660.7 L583.4,660.7 L585.5,660.7 L587.8,660.7 L590,660.7 L592.3,660.7 L594.7,660.7 L597.1,660.7 L599.6,660.7 L602.1,660.7 L604.6,660.7 L607.2,660.7 L609.9,660.7 L612.6,660.7 L615.3,660.7 L618.1,660.7 L620.9,660.7 L623.8,660.7 L626.7,660.7 L629.7,660.7 L632.8,660.7 L635.8,660.7 L639,660.7 L642.1,660.7 L645.4,660.7 L648.6,660.7 L652,660.7 L655.4,660.7 L658.8,660.7 L662.3,660.7 L665.8,660.7 L669.4,660.7 L673,660.7 L676.7,660.7 L680.4,660.7 L684.2,660.7" class="ml r"/><path d="M373,683.5 L376.7,683.5 L380.5,683.5 L384.2,683.5 L387.8,683.5 L391.4,683.5 L394.9,683.5 L398.4,683.5 L401.8,683.5 L405.2,683.5 L408.5,683.5 L411.8,683.5 L415,683.5 L418.2,683.5 L421.3,683.5 L424.4,683.5 L427.4,683.5 L430.4,683.5 L433.3,683.5 L436.2,683.5 L439.1,683.5 L441.8,683.5 L444.6,683.5 L447.3,683.5 L449.9,683.5 L452.5,683.5 L455.1,683.5 L457.6,683.5 L460,683.5 L462.4,683.5 L464.8,683.5 L467.1,683.5 L469.4,683.5 L471.6,683.5 L473.8,683.5 L475.9,683.5 L478,683.5 L480,683.5 L482,683.5 L484,683.5 L485.9,683.5 L487.7,683.5 L489.5,683.5 L491.3,683.5 L493,683.5 L494.7,683.5 L496.3,683.5 L497.9,683.5 L499.5,683.5 L501,683.5 L502.4,683.5 L503.9,683.5 L505.2,683.5 L506.6,683.5 L507.8,683.5 L509.1,683.5 L510.3,683.5 L511.5,683.5 L512.6,683.5 L513.7,683.5 L514.7,683.5 L515.7,683.5 L516.6,683.5 L517.6,683.5 L518.4,683.5 L519.3,683.5 L520.1,683.5 L520.8,683.5 L521.6,683.5 L522.2,683.5 L522.9,683.5 L523.5,683.5 L524.1,683.5 L524.6,683.5 L525.1,683.5 L525.5,683.5 L526,683.5 L526.4,683.5 L526.7,683.5 L527,683.5 L527.3,683.5 L527.6,683.5 L527.8,683.5 L528,683.5 L528.2,683.5 L528.3,683.5 L528.4,683.5 L528.5,683.5 L528.5,683.5 L528.6,683.5 L528.6,683.5" class="ml b"/><path d="M528.6,653.3 L528.6,653.4 L528.6,653.8 L528.7,654.5 L528.7,655.5 L528.8,656.9 L529,658.5 L529.1,660.4 L529.3,662.5 L529.6,664.6 L529.8,666.9 L530.1,669.2 L530.4,671.4 L530.8,673.6 L531.2,675.6 L531.6,677.5 L532.1,679.1 L532.5,680.6 L533.1,681.9 L533.7,682.9 L534.3,683.8 L534.9,684.6 L535.6,685.1 L536.3,685.6 L537.1,686 L537.9,686.2 L538.7,686.4 L539.6,686.6 L540.5,686.7 L541.5,686.8 L542.4,686.8 L543.5,686.9 L544.6,686.9 L545.7,686.9 L546.8,686.9 L548.1,686.9 L549.3,686.9 L550.6,686.9 L551.9,686.9 L553.3,686.9 L554.7,686.9 L556.2,686.9 L557.7,686.9 L559.2,686.9 L560.8,686.9 L562.4,686.9 L564.1,686.9 L565.8,686.9 L567.6,686.9 L569.4,686.9 L571.3,686.9 L573.2,686.9 L575.1,686.9 L577.1,686.9 L579.1,686.9 L581.2,686.9 L583.4,686.9 L585.5,686.9 L587.8,686.9 L590,686.9 L592.3,686.9 L594.7,686.9 L597.1,686.9 L599.6,686.9 L602.1,686.9 L604.6,686.9 L607.2,686.9 L609.9,686.9 L612.6,686.9 L615.3,686.9 L618.1,686.9 L620.9,686.9 L623.8,686.9 L626.7,686.9 L629.7,686.9 L632.8,686.9 L635.8,686.9 L639,686.9 L642.1,686.9 L645.4,686.9 L648.6,686.9 L652,686.9 L655.4,686.9 L658.8,686.9 L662.3,686.9 L665.8,686.9 L669.4,686.9 L673,686.9 L676.7,686.9 L680.4,686.9 L684.2,686.9" class="ml b"/></g>
<rect x="373.0" y="520.0" width="311.50" height="233.50" class="bd"/>
<line x1="369.60" y1="743.1" x2="373.0" y2="743.1" class="tk"/>
<text x="367.00" y="747.50" class="tl" text-anchor="end">0</text>
<line x1="369.60" y1="700.5" x2="373.0" y2="700.5" class="tk"/>
<text x="367.00" y="704.94" class="tl" text-anchor="end">2</text>
<line x1="369.60" y1="658" x2="373.0" y2="658" class="tk"/>
<text x="367.00" y="662.38" class="tl" text-anchor="end">4</text>
<line x1="369.60" y1="615.4" x2="373.0" y2="615.4" class="tk"/>
<text x="367.00" y="619.82" class="tl" text-anchor="end">6</text>
<line x1="369.60" y1="572.9" x2="373.0" y2="572.9" class="tk"/>
<text x="367.00" y="577.26" class="tl" text-anchor="end">8</text>
<line x1="369.60" y1="530.3" x2="373.0" y2="530.3" class="tk"/>
<text x="367.00" y="534.70" class="tl" text-anchor="end">10</text>
<line x1="399.7" y1="753.5" x2="399.7" y2="756.90" class="tk"/>
<text x="399.71" y="768.00" class="tl" text-anchor="middle">-20</text>
<line x1="464.1" y1="753.5" x2="464.1" y2="756.90" class="tk"/>
<text x="464.14" y="768.00" class="tl" text-anchor="middle">-10</text>
<line x1="528.6" y1="753.5" x2="528.6" y2="756.90" class="tk"/>
<text x="528.57" y="768.00" class="tl" text-anchor="middle">0</text>
<line x1="593" y1="753.5" x2="593" y2="756.90" class="tk"/>
<text x="593.00" y="768.00" class="tl" text-anchor="middle">10</text>
<line x1="657.4" y1="753.5" x2="657.4" y2="756.90" class="tk"/>
<text x="657.43" y="768.00" class="tl" text-anchor="middle">20</text>
<rect x="386.40" y="531.80" width="94.72" height="14.3" rx="1.5" fill="#fff"/>
<text x="389.60" y="543.40" class="pl">Difficulty thinking</text>
<text transform="translate(10.2,117.50) rotate(-90)" class="at" text-anchor="middle">Subjective rating</text>
<text transform="translate(10.2,377.10) rotate(-90)" class="at" text-anchor="middle">Subjective rating</text>
<text transform="translate(10.2,636.75) rotate(-90)" class="at" text-anchor="middle">Subjective rating</text>
<text x="189.25" y="782.4" class="at" text-anchor="middle">Time from sexual episode [hours]</text>
<text x="528.75" y="782.4" class="at" text-anchor="middle">Time from sexual episode [hours]</text>
<text x="243" y="814.1" class="lt">Moral incongruence level</text>
<rect x="380.3" y="801.8" width="16.6" height="16.8" class="rb r"/>
<rect x="380.3" y="801.8" width="16.6" height="16.8" class="rb r"/>
<rect x="380.6" y="802.1" width="16" height="16.2" class="ko r"/>
<line x1="382.0" y1="810.0" x2="395.1" y2="810.0" class="ml r"/>
<text x="403.5" y="814.1" class="ll">Low</text>
<rect x="429.1" y="801.8" width="16.6" height="16.8" class="rb b"/>
<rect x="429.1" y="801.8" width="16.6" height="16.8" class="rb b"/>
<rect x="429.40000000000003" y="802.1" width="16" height="16.2" class="ko b"/>
<line x1="430.8" y1="810.0" x2="443.90000000000003" y2="810.0" class="ml b"/>
<text x="452.3" y="814.1" class="ll">High</text>
</svg>
</body></html>
